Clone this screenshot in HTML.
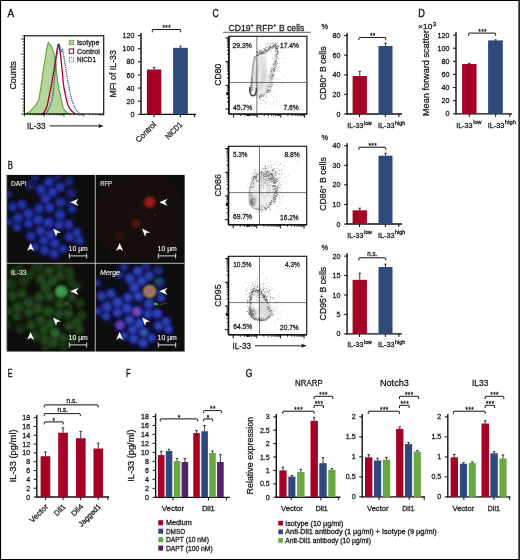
<!DOCTYPE html>
<html><head><meta charset="utf-8"><title>Figure</title>
<style>html,body{margin:0;padding:0;background:#fff;}svg{display:block;font-family:"Liberation Sans",sans-serif;}</style>
</head><body>
<svg width="520" height="560" viewBox="0 0 520 560">
<defs>
<filter id="b1" x="-50%" y="-50%" width="200%" height="200%"><feGaussianBlur stdDeviation="1.0"/></filter>
<filter id="b15" x="-50%" y="-50%" width="200%" height="200%"><feGaussianBlur stdDeviation="1.6"/></filter>
<filter id="b05" x="-50%" y="-50%" width="200%" height="200%"><feGaussianBlur stdDeviation="0.5"/></filter>
<filter id="b03" x="-20%" y="-20%" width="140%" height="140%"><feGaussianBlur stdDeviation="0.3"/></filter>
<filter id="bc" x="-10%" y="-10%" width="120%" height="120%"><feGaussianBlur stdDeviation="0.8" result="g"/><feTurbulence type="fractalNoise" baseFrequency="0.42" numOctaves="2" seed="5" result="n"/><feColorMatrix in="n" type="matrix" values="0 0 0 0 1  0 0 0 0 1  0 0 0 0 1  0.45 0 0 0 0.76" result="m"/><feComposite in="g" in2="m" operator="in"/></filter>
<filter id="bg" x="-10%" y="-10%" width="120%" height="120%"><feGaussianBlur stdDeviation="1.6" result="g"/><feTurbulence type="fractalNoise" baseFrequency="0.5" numOctaves="2" seed="9" result="n"/><feColorMatrix in="n" type="matrix" values="0 0 0 0 1  0 0 0 0 1  0 0 0 0 1  0.5 0 0 0 0.72" result="m"/><feComposite in="g" in2="m" operator="in"/></filter>
<filter id="b3" x="-50%" y="-50%" width="200%" height="200%"><feGaussianBlur stdDeviation="3"/></filter>
<radialGradient id="gB"><stop offset="0" stop-color="#2c40be"/><stop offset="0.6" stop-color="#2434ac"/><stop offset="1" stop-color="#1c2890"/></radialGradient>
<radialGradient id="gBm"><stop offset="0" stop-color="#3852c4"/><stop offset="0.65" stop-color="#2c42b4"/><stop offset="1" stop-color="#223098"/></radialGradient>
<radialGradient id="gR" cx="0.5" cy="0.48" r="0.6"><stop offset="0" stop-color="#1e0f0e"/><stop offset="1" stop-color="#100b0b"/></radialGradient>
<clipPath id="cDAPI"><rect x="7.3" y="175.4" width="87.4" height="87.4"/></clipPath>
<clipPath id="cRFP"><rect x="96" y="175.4" width="88.2" height="87.4"/></clipPath>
<clipPath id="cIL"><rect x="7.3" y="264" width="87.4" height="87.2"/></clipPath>
<clipPath id="cMG"><rect x="96" y="264" width="88.2" height="87.2"/></clipPath>
<clipPath id="cF1"><rect x="229" y="36.3" width="77.9" height="77.7"/></clipPath>
<clipPath id="cF2"><rect x="228.6" y="146.3" width="78.1" height="78.4"/></clipPath>
<clipPath id="cF3"><rect x="228.6" y="256.3" width="78.1" height="78.4"/></clipPath>
<clipPath id="cH"><rect x="24.4" y="36" width="79" height="78"/></clipPath>
</defs>
<defs><filter id="soft" x="0" y="0" width="520" height="560" filterUnits="userSpaceOnUse"><feGaussianBlur stdDeviation="0.32"/></filter></defs>
<rect x="0" y="0" width="520" height="560" fill="#fff"/>
<g filter="url(#soft)">
<text x="7.60" y="17.40" font-size="10.8" textLength="6.60" lengthAdjust="spacingAndGlyphs" fill="#1c1c1c" stroke="#1c1c1c" stroke-width="0.42">A</text>
<text x="7.80" y="169.40" font-size="10.8" textLength="5.20" lengthAdjust="spacingAndGlyphs" fill="#1c1c1c" stroke="#1c1c1c" stroke-width="0.42">B</text>
<text x="212.40" y="17.40" font-size="10.8" textLength="6.20" lengthAdjust="spacingAndGlyphs" fill="#1c1c1c" stroke="#1c1c1c" stroke-width="0.42">C</text>
<text x="418.20" y="17.30" font-size="10.8" textLength="6.60" lengthAdjust="spacingAndGlyphs" fill="#1c1c1c" stroke="#1c1c1c" stroke-width="0.42">D</text>
<text x="7.80" y="376.90" font-size="10.8" textLength="4.70" lengthAdjust="spacingAndGlyphs" fill="#1c1c1c" stroke="#1c1c1c" stroke-width="0.42">E</text>
<text x="126.10" y="376.90" font-size="10.8" textLength="4.60" lengthAdjust="spacingAndGlyphs" fill="#1c1c1c" stroke="#1c1c1c" stroke-width="0.42">F</text>
<text x="245.70" y="376.80" font-size="10.8" textLength="6.60" lengthAdjust="spacingAndGlyphs" fill="#1c1c1c" stroke="#1c1c1c" stroke-width="0.42">G</text>
<path d="M24.4 114.0 L27.0 113.3 L30.0 111.5 L32.5 108.8 L35.5 105.5 L38.7 100.0 L40.5 90.0 L41.9 80.0 L43.3 70.0 L45.0 60.0 L46.5 50.0 L47.8 44.0 L48.6 42.4 L49.5 44.2 L50.3 45.6 L51.0 45.2 L52.0 48.0 L53.0 51.0 L53.8 53.0 L54.6 58.0 L55.4 62.5 L56.3 70.0 L57.5 80.0 L58.6 87.0 L60.0 93.5 L61.5 101.0 L63.0 107.5 L65.0 110.8 L67.5 112.8 L70.5 114.0Z" fill="#b5d69a" stroke="#68a640" stroke-width="1.2" stroke-linejoin="round"/>
<path d="M41.9 114.0 L44.0 112.6 L46.6 107.5 L48.2 101.0 L49.4 95.0 L51.2 86.3 L52.8 77.0 L54.4 67.5 L55.8 58.0 L57.0 50.0 L58.1 44.4 L59.2 46.0 L60.6 55.0 L61.6 65.0 L62.5 73.8 L63.2 82.5 L64.2 89.0 L65.3 94.0 L66.5 100.0 L68.0 105.0 L70.0 109.0 L72.0 111.3 L75.2 114.0" fill="none" stroke="#a50026" stroke-width="1.3" stroke-linejoin="round"/>
<path d="M44.4 114.0 L46.9 112.5 L50.0 106.3 L52.0 99.5 L53.1 95.0 L53.8 86.3 L54.6 77.0 L55.6 67.5 L56.6 58.0 L57.7 50.0 L59.0 43.5 L60.2 47.0 L61.2 51.3 L62.5 49.4 L63.6 55.0 L64.6 61.0 L65.6 67.5 L66.8 76.0 L68.1 82.5 L69.3 89.0 L70.6 95.0 L72.0 100.5 L73.8 105.0 L75.3 108.5 L76.9 111.2 L80.0 114.0" fill="none" stroke="#27418a" stroke-width="1.3" stroke-dasharray="1.0 0.85" stroke-linejoin="round"/>
<rect x="24.4" y="35.8" width="79.30" height="78.20" fill="none" stroke="#0a0a0a" stroke-width="1.15"/>
<line x1="21.20" y1="114.00" x2="24.40" y2="114.00" stroke="#0a0a0a" stroke-width="0.8" />
<line x1="22.70" y1="111.00" x2="24.40" y2="111.00" stroke="#0a0a0a" stroke-width="0.8" />
<line x1="22.70" y1="108.00" x2="24.40" y2="108.00" stroke="#0a0a0a" stroke-width="0.8" />
<line x1="22.70" y1="105.00" x2="24.40" y2="105.00" stroke="#0a0a0a" stroke-width="0.8" />
<line x1="22.70" y1="102.00" x2="24.40" y2="102.00" stroke="#0a0a0a" stroke-width="0.8" />
<line x1="21.20" y1="99.00" x2="24.40" y2="99.00" stroke="#0a0a0a" stroke-width="0.8" />
<line x1="22.70" y1="96.00" x2="24.40" y2="96.00" stroke="#0a0a0a" stroke-width="0.8" />
<line x1="22.70" y1="93.00" x2="24.40" y2="93.00" stroke="#0a0a0a" stroke-width="0.8" />
<line x1="22.70" y1="90.00" x2="24.40" y2="90.00" stroke="#0a0a0a" stroke-width="0.8" />
<line x1="22.70" y1="87.00" x2="24.40" y2="87.00" stroke="#0a0a0a" stroke-width="0.8" />
<line x1="21.20" y1="84.00" x2="24.40" y2="84.00" stroke="#0a0a0a" stroke-width="0.8" />
<line x1="22.70" y1="81.00" x2="24.40" y2="81.00" stroke="#0a0a0a" stroke-width="0.8" />
<line x1="22.70" y1="78.00" x2="24.40" y2="78.00" stroke="#0a0a0a" stroke-width="0.8" />
<line x1="22.70" y1="75.00" x2="24.40" y2="75.00" stroke="#0a0a0a" stroke-width="0.8" />
<line x1="22.70" y1="72.00" x2="24.40" y2="72.00" stroke="#0a0a0a" stroke-width="0.8" />
<line x1="21.20" y1="69.00" x2="24.40" y2="69.00" stroke="#0a0a0a" stroke-width="0.8" />
<line x1="22.70" y1="66.00" x2="24.40" y2="66.00" stroke="#0a0a0a" stroke-width="0.8" />
<line x1="22.70" y1="63.00" x2="24.40" y2="63.00" stroke="#0a0a0a" stroke-width="0.8" />
<line x1="22.70" y1="60.00" x2="24.40" y2="60.00" stroke="#0a0a0a" stroke-width="0.8" />
<line x1="22.70" y1="57.00" x2="24.40" y2="57.00" stroke="#0a0a0a" stroke-width="0.8" />
<line x1="21.20" y1="54.00" x2="24.40" y2="54.00" stroke="#0a0a0a" stroke-width="0.8" />
<line x1="22.70" y1="51.00" x2="24.40" y2="51.00" stroke="#0a0a0a" stroke-width="0.8" />
<line x1="22.70" y1="48.00" x2="24.40" y2="48.00" stroke="#0a0a0a" stroke-width="0.8" />
<line x1="22.70" y1="45.00" x2="24.40" y2="45.00" stroke="#0a0a0a" stroke-width="0.8" />
<line x1="22.70" y1="42.00" x2="24.40" y2="42.00" stroke="#0a0a0a" stroke-width="0.8" />
<line x1="21.20" y1="39.00" x2="24.40" y2="39.00" stroke="#0a0a0a" stroke-width="0.8" />
<line x1="22.70" y1="36.00" x2="24.40" y2="36.00" stroke="#0a0a0a" stroke-width="0.8" />
<line x1="24.40" y1="114.00" x2="24.40" y2="116.60" stroke="#0a0a0a" stroke-width="0.7" />
<line x1="30.36" y1="114.00" x2="30.36" y2="115.30" stroke="#0a0a0a" stroke-width="0.7" />
<line x1="33.85" y1="114.00" x2="33.85" y2="115.30" stroke="#0a0a0a" stroke-width="0.7" />
<line x1="36.32" y1="114.00" x2="36.32" y2="115.30" stroke="#0a0a0a" stroke-width="0.7" />
<line x1="38.24" y1="114.00" x2="38.24" y2="115.30" stroke="#0a0a0a" stroke-width="0.7" />
<line x1="39.81" y1="114.00" x2="39.81" y2="115.30" stroke="#0a0a0a" stroke-width="0.7" />
<line x1="41.13" y1="114.00" x2="41.13" y2="115.30" stroke="#0a0a0a" stroke-width="0.7" />
<line x1="42.28" y1="114.00" x2="42.28" y2="115.30" stroke="#0a0a0a" stroke-width="0.7" />
<line x1="43.29" y1="114.00" x2="43.29" y2="115.30" stroke="#0a0a0a" stroke-width="0.7" />
<line x1="44.20" y1="114.00" x2="44.20" y2="116.60" stroke="#0a0a0a" stroke-width="0.7" />
<line x1="50.16" y1="114.00" x2="50.16" y2="115.30" stroke="#0a0a0a" stroke-width="0.7" />
<line x1="53.65" y1="114.00" x2="53.65" y2="115.30" stroke="#0a0a0a" stroke-width="0.7" />
<line x1="56.12" y1="114.00" x2="56.12" y2="115.30" stroke="#0a0a0a" stroke-width="0.7" />
<line x1="58.04" y1="114.00" x2="58.04" y2="115.30" stroke="#0a0a0a" stroke-width="0.7" />
<line x1="59.61" y1="114.00" x2="59.61" y2="115.30" stroke="#0a0a0a" stroke-width="0.7" />
<line x1="60.93" y1="114.00" x2="60.93" y2="115.30" stroke="#0a0a0a" stroke-width="0.7" />
<line x1="62.08" y1="114.00" x2="62.08" y2="115.30" stroke="#0a0a0a" stroke-width="0.7" />
<line x1="63.09" y1="114.00" x2="63.09" y2="115.30" stroke="#0a0a0a" stroke-width="0.7" />
<line x1="64.00" y1="114.00" x2="64.00" y2="116.60" stroke="#0a0a0a" stroke-width="0.7" />
<line x1="69.96" y1="114.00" x2="69.96" y2="115.30" stroke="#0a0a0a" stroke-width="0.7" />
<line x1="73.45" y1="114.00" x2="73.45" y2="115.30" stroke="#0a0a0a" stroke-width="0.7" />
<line x1="75.92" y1="114.00" x2="75.92" y2="115.30" stroke="#0a0a0a" stroke-width="0.7" />
<line x1="77.84" y1="114.00" x2="77.84" y2="115.30" stroke="#0a0a0a" stroke-width="0.7" />
<line x1="79.41" y1="114.00" x2="79.41" y2="115.30" stroke="#0a0a0a" stroke-width="0.7" />
<line x1="80.73" y1="114.00" x2="80.73" y2="115.30" stroke="#0a0a0a" stroke-width="0.7" />
<line x1="81.88" y1="114.00" x2="81.88" y2="115.30" stroke="#0a0a0a" stroke-width="0.7" />
<line x1="82.89" y1="114.00" x2="82.89" y2="115.30" stroke="#0a0a0a" stroke-width="0.7" />
<line x1="83.80" y1="114.00" x2="83.80" y2="116.60" stroke="#0a0a0a" stroke-width="0.7" />
<line x1="89.76" y1="114.00" x2="89.76" y2="115.30" stroke="#0a0a0a" stroke-width="0.7" />
<line x1="93.25" y1="114.00" x2="93.25" y2="115.30" stroke="#0a0a0a" stroke-width="0.7" />
<line x1="95.72" y1="114.00" x2="95.72" y2="115.30" stroke="#0a0a0a" stroke-width="0.7" />
<line x1="97.64" y1="114.00" x2="97.64" y2="115.30" stroke="#0a0a0a" stroke-width="0.7" />
<line x1="99.21" y1="114.00" x2="99.21" y2="115.30" stroke="#0a0a0a" stroke-width="0.7" />
<line x1="100.53" y1="114.00" x2="100.53" y2="115.30" stroke="#0a0a0a" stroke-width="0.7" />
<line x1="101.68" y1="114.00" x2="101.68" y2="115.30" stroke="#0a0a0a" stroke-width="0.7" />
<line x1="102.69" y1="114.00" x2="102.69" y2="115.30" stroke="#0a0a0a" stroke-width="0.7" />
<line x1="103.70" y1="114.00" x2="103.70" y2="116.00" stroke="#0a0a0a" stroke-width="0.45" />
<text x="15.90" y="89.60" font-size="9" textLength="28.40" lengthAdjust="spacingAndGlyphs" transform="rotate(-90 15.90 89.60)" fill="#1c1c1c" stroke="#1c1c1c" stroke-width="0.28">Counts</text>
<text x="26.90" y="129.00" font-size="9" textLength="18.80" lengthAdjust="spacingAndGlyphs" fill="#1c1c1c" stroke="#1c1c1c" stroke-width="0.28">IL-33</text>
<line x1="49.60" y1="125.90" x2="100.00" y2="125.90" stroke="#0a0a0a" stroke-width="0.9" />
<path d="M103.5 125.9L98.3 123.9L99.4 125.9L98.3 127.9Z" fill="#0a0a0a" stroke="none" stroke-width="0.8" />
<rect x="69.2" y="40.3" width="4.4" height="4.4" fill="#b7d89c" stroke="#6aa842" stroke-width="0.9"/>
<rect x="69.2" y="48.9" width="4.4" height="4.4" fill="#fff" stroke="#a50026" stroke-width="1.0"/>
<rect x="69.2" y="57.6" width="4.4" height="4.4" fill="#fff" stroke="#2d4a8c" stroke-width="0.9" stroke-dasharray="0.9 0.9"/>
<text x="76.90" y="44.90" font-size="7.2" textLength="22.50" lengthAdjust="spacingAndGlyphs" fill="#1c1c1c" stroke="#1c1c1c" stroke-width="0.28">Isotype</text>
<text x="76.90" y="53.60" font-size="7.2" textLength="22.90" lengthAdjust="spacingAndGlyphs" fill="#1c1c1c" stroke="#1c1c1c" stroke-width="0.28">Control</text>
<text x="76.90" y="62.30" font-size="7.2" textLength="19.10" lengthAdjust="spacingAndGlyphs" fill="#1c1c1c" stroke="#1c1c1c" stroke-width="0.28">NICD1</text>
<text x="116.00" y="97.60" font-size="9.2" textLength="47.50" lengthAdjust="spacingAndGlyphs" transform="rotate(-90 116.00 97.60)" fill="#1c1c1c" stroke="#1c1c1c" stroke-width="0.28">MFI of IL-33</text>
<line x1="141.00" y1="33.00" x2="141.00" y2="114.80" stroke="#0a0a0a" stroke-width="1.35" />
<line x1="138.00" y1="114.30" x2="141.00" y2="114.30" stroke="#0a0a0a" stroke-width="1.0" />
<text x="134.40" y="116.89" font-size="7.2" text-anchor="end" textLength="3.95" lengthAdjust="spacingAndGlyphs" fill="#1c1c1c" stroke="#1c1c1c" stroke-width="0.28">0</text>
<line x1="138.00" y1="101.18" x2="141.00" y2="101.18" stroke="#0a0a0a" stroke-width="1.0" />
<text x="134.40" y="103.77" font-size="7.2" text-anchor="end" textLength="7.90" lengthAdjust="spacingAndGlyphs" fill="#1c1c1c" stroke="#1c1c1c" stroke-width="0.28">20</text>
<line x1="138.00" y1="88.06" x2="141.00" y2="88.06" stroke="#0a0a0a" stroke-width="1.0" />
<text x="134.40" y="90.65" font-size="7.2" text-anchor="end" textLength="7.90" lengthAdjust="spacingAndGlyphs" fill="#1c1c1c" stroke="#1c1c1c" stroke-width="0.28">40</text>
<line x1="138.00" y1="74.94" x2="141.00" y2="74.94" stroke="#0a0a0a" stroke-width="1.0" />
<text x="134.40" y="77.53" font-size="7.2" text-anchor="end" textLength="7.90" lengthAdjust="spacingAndGlyphs" fill="#1c1c1c" stroke="#1c1c1c" stroke-width="0.28">60</text>
<line x1="138.00" y1="61.82" x2="141.00" y2="61.82" stroke="#0a0a0a" stroke-width="1.0" />
<text x="134.40" y="64.41" font-size="7.2" text-anchor="end" textLength="7.90" lengthAdjust="spacingAndGlyphs" fill="#1c1c1c" stroke="#1c1c1c" stroke-width="0.28">80</text>
<line x1="138.00" y1="48.70" x2="141.00" y2="48.70" stroke="#0a0a0a" stroke-width="1.0" />
<text x="134.40" y="51.29" font-size="7.2" text-anchor="end" textLength="11.85" lengthAdjust="spacingAndGlyphs" fill="#1c1c1c" stroke="#1c1c1c" stroke-width="0.28">100</text>
<line x1="138.00" y1="35.58" x2="141.00" y2="35.58" stroke="#0a0a0a" stroke-width="1.0" />
<text x="134.40" y="38.17" font-size="7.2" text-anchor="end" textLength="11.85" lengthAdjust="spacingAndGlyphs" fill="#1c1c1c" stroke="#1c1c1c" stroke-width="0.28">120</text>
<line x1="140.50" y1="114.30" x2="196.00" y2="114.30" stroke="#0a0a0a" stroke-width="1.35" />
<line x1="154.00" y1="114.30" x2="154.00" y2="117.30" stroke="#0a0a0a" stroke-width="1.0" />
<line x1="180.40" y1="114.30" x2="180.40" y2="117.30" stroke="#0a0a0a" stroke-width="1.0" />
<line x1="194.60" y1="114.30" x2="194.60" y2="117.30" stroke="#0a0a0a" stroke-width="1.0" />
<rect x="146.90" y="69.50" width="14.40" height="44.80" fill="#a50026" />
<line x1="154.10" y1="69.50" x2="154.10" y2="67.40" stroke="#0a0a0a" stroke-width="0.8" />
<line x1="152.80" y1="67.40" x2="155.40" y2="67.40" stroke="#0a0a0a" stroke-width="0.8" />
<rect x="173.10" y="47.80" width="14.70" height="66.50" fill="#2d4a7c" />
<line x1="180.45" y1="47.80" x2="180.45" y2="46.20" stroke="#0a0a0a" stroke-width="0.8" />
<line x1="179.15" y1="46.20" x2="181.75" y2="46.20" stroke="#0a0a0a" stroke-width="0.8" />
<path d="M152.30 32.30V30.10Q152.30 29.50 152.90 29.50H180.00Q180.60 29.50 180.60 30.10V32.30" fill="none" stroke="#0a0a0a" stroke-width="0.95" />
<text x="162.45" y="30.33" font-size="6.4" textLength="8.3" lengthAdjust="spacing" fill="#1c1c1c" stroke="#1c1c1c" stroke-width="0.3">***</text>
<text x="156.70" y="125.00" font-size="8" text-anchor="end" textLength="25.30" lengthAdjust="spacingAndGlyphs" transform="rotate(-45 156.70 125.00)" fill="#1c1c1c" stroke="#1c1c1c" stroke-width="0.28">Control</text>
<text x="183.00" y="125.30" font-size="8" text-anchor="end" textLength="20.50" lengthAdjust="spacingAndGlyphs" transform="rotate(-45 183.00 125.30)" fill="#1c1c1c" stroke="#1c1c1c" stroke-width="0.28">NICD1</text>
<rect x="6.60" y="174.90" width="178.00" height="176.60" fill="#0d0c0b" />
<g clip-path="url(#cDAPI)">
<g filter="url(#b3)" opacity="0.6">
<circle cx="35.0" cy="177.5" r="5.4" fill="#141a78" opacity="0.55"/>
<circle cx="49.0" cy="182.0" r="6.3" fill="#141a78" opacity="0.90"/>
<circle cx="30.5" cy="185.5" r="6.2" fill="#141a78" opacity="0.50"/>
<circle cx="41.0" cy="189.5" r="6.7" fill="#141a78" opacity="0.85"/>
<circle cx="52.5" cy="192.0" r="6.3" fill="#141a78" opacity="0.95"/>
<circle cx="8.5" cy="194.0" r="5.0" fill="#141a78" opacity="0.60"/>
<circle cx="45.5" cy="198.3" r="6.7" fill="#141a78" opacity="0.90"/>
<circle cx="22.0" cy="204.5" r="6.3" fill="#141a78" opacity="0.85"/>
<circle cx="12.5" cy="207.0" r="6.2" fill="#141a78" opacity="0.80"/>
<circle cx="39.0" cy="208.5" r="6.3" fill="#141a78" opacity="0.90"/>
<circle cx="49.5" cy="207.5" r="6.3" fill="#141a78" opacity="0.95"/>
<circle cx="28.5" cy="213.5" r="6.7" fill="#141a78" opacity="0.90"/>
<circle cx="18.0" cy="218.0" r="6.7" fill="#141a78" opacity="0.85"/>
<circle cx="38.0" cy="219.5" r="6.7" fill="#141a78" opacity="0.95"/>
<circle cx="28.5" cy="223.5" r="6.2" fill="#141a78" opacity="0.90"/>
<circle cx="48.5" cy="222.5" r="6.7" fill="#141a78" opacity="0.95"/>
<circle cx="9.0" cy="222.0" r="5.3" fill="#141a78" opacity="0.70"/>
<circle cx="17.0" cy="227.5" r="5.8" fill="#141a78" opacity="0.80"/>
<circle cx="57.0" cy="177.0" r="5.3" fill="#141a78" opacity="0.55"/>
<circle cx="60.0" cy="187.0" r="6.3" fill="#141a78" opacity="0.85"/>
<circle cx="69.0" cy="181.5" r="6.3" fill="#141a78" opacity="0.50"/>
<circle cx="71.0" cy="193.5" r="6.3" fill="#141a78" opacity="0.55"/>
<circle cx="60.5" cy="202.5" r="6.7" fill="#141a78" opacity="0.80"/>
<circle cx="72.0" cy="209.0" r="5.8" fill="#141a78" opacity="0.75"/>
<circle cx="60.0" cy="214.7" r="6.7" fill="#141a78" opacity="0.90"/>
<circle cx="59.0" cy="225.0" r="6.3" fill="#141a78" opacity="0.90"/>
<circle cx="68.5" cy="224.7" r="6.3" fill="#141a78" opacity="0.90"/>
<circle cx="40.5" cy="231.0" r="6.3" fill="#141a78" opacity="0.95"/>
<circle cx="31.0" cy="236.5" r="6.3" fill="#141a78" opacity="0.85"/>
<circle cx="50.5" cy="234.5" r="6.3" fill="#141a78" opacity="0.95"/>
<circle cx="44.0" cy="240.5" r="6.3" fill="#141a78" opacity="0.90"/>
<circle cx="54.7" cy="243.3" r="6.4" fill="#141a78" opacity="0.95"/>
<circle cx="35.0" cy="247.0" r="5.8" fill="#141a78" opacity="0.80"/>
<circle cx="44.6" cy="250.0" r="6.3" fill="#141a78" opacity="0.90"/>
<circle cx="54.0" cy="253.7" r="6.4" fill="#141a78" opacity="0.90"/>
<circle cx="77.0" cy="232.5" r="6.0" fill="#141a78" opacity="0.85"/>
<circle cx="69.5" cy="237.0" r="6.3" fill="#141a78" opacity="0.90"/>
<circle cx="79.5" cy="240.5" r="6.0" fill="#141a78" opacity="0.85"/>
<circle cx="63.0" cy="249.0" r="5.8" fill="#141a78" opacity="0.85"/>
<circle cx="70.0" cy="203.0" r="4.6" fill="#141a78" opacity="0.50"/>
</g>
<g filter="url(#bc)">
<circle cx="35.0" cy="177.5" r="3.9" fill="url(#gB)" opacity="0.55"/>
<circle cx="49.0" cy="182.0" r="4.8" fill="url(#gB)" opacity="0.90"/>
<circle cx="30.5" cy="185.5" r="4.7" fill="url(#gB)" opacity="0.50"/>
<circle cx="41.0" cy="189.5" r="5.2" fill="url(#gB)" opacity="0.85"/>
<circle cx="52.5" cy="192.0" r="4.8" fill="url(#gB)" opacity="0.95"/>
<circle cx="8.5" cy="194.0" r="3.5" fill="url(#gB)" opacity="0.60"/>
<circle cx="45.5" cy="198.3" r="5.2" fill="url(#gB)" opacity="0.90"/>
<circle cx="22.0" cy="204.5" r="4.8" fill="url(#gB)" opacity="0.85"/>
<circle cx="12.5" cy="207.0" r="4.7" fill="url(#gB)" opacity="0.80"/>
<circle cx="39.0" cy="208.5" r="4.8" fill="url(#gB)" opacity="0.90"/>
<circle cx="49.5" cy="207.5" r="4.8" fill="url(#gB)" opacity="0.95"/>
<circle cx="28.5" cy="213.5" r="5.2" fill="url(#gB)" opacity="0.90"/>
<circle cx="18.0" cy="218.0" r="5.2" fill="url(#gB)" opacity="0.85"/>
<circle cx="38.0" cy="219.5" r="5.2" fill="url(#gB)" opacity="0.95"/>
<circle cx="28.5" cy="223.5" r="4.7" fill="url(#gB)" opacity="0.90"/>
<circle cx="48.5" cy="222.5" r="5.2" fill="url(#gB)" opacity="0.95"/>
<circle cx="9.0" cy="222.0" r="3.8" fill="url(#gB)" opacity="0.70"/>
<circle cx="17.0" cy="227.5" r="4.3" fill="url(#gB)" opacity="0.80"/>
<circle cx="57.0" cy="177.0" r="3.8" fill="url(#gB)" opacity="0.55"/>
<circle cx="60.0" cy="187.0" r="4.8" fill="url(#gB)" opacity="0.85"/>
<circle cx="69.0" cy="181.5" r="4.8" fill="url(#gB)" opacity="0.50"/>
<circle cx="71.0" cy="193.5" r="4.8" fill="url(#gB)" opacity="0.55"/>
<circle cx="60.5" cy="202.5" r="5.2" fill="url(#gB)" opacity="0.80"/>
<circle cx="72.0" cy="209.0" r="4.3" fill="url(#gB)" opacity="0.75"/>
<circle cx="60.0" cy="214.7" r="5.2" fill="url(#gB)" opacity="0.90"/>
<circle cx="59.0" cy="225.0" r="4.8" fill="url(#gB)" opacity="0.90"/>
<circle cx="68.5" cy="224.7" r="4.8" fill="url(#gB)" opacity="0.90"/>
<circle cx="40.5" cy="231.0" r="4.8" fill="url(#gB)" opacity="0.95"/>
<circle cx="31.0" cy="236.5" r="4.8" fill="url(#gB)" opacity="0.85"/>
<circle cx="50.5" cy="234.5" r="4.8" fill="url(#gB)" opacity="0.95"/>
<circle cx="44.0" cy="240.5" r="4.8" fill="url(#gB)" opacity="0.90"/>
<circle cx="54.7" cy="243.3" r="4.9" fill="url(#gB)" opacity="0.95"/>
<circle cx="35.0" cy="247.0" r="4.3" fill="url(#gB)" opacity="0.80"/>
<circle cx="44.6" cy="250.0" r="4.8" fill="url(#gB)" opacity="0.90"/>
<circle cx="54.0" cy="253.7" r="4.9" fill="url(#gB)" opacity="0.90"/>
<circle cx="77.0" cy="232.5" r="4.5" fill="url(#gB)" opacity="0.85"/>
<circle cx="69.5" cy="237.0" r="4.8" fill="url(#gB)" opacity="0.90"/>
<circle cx="79.5" cy="240.5" r="4.5" fill="url(#gB)" opacity="0.85"/>
<circle cx="63.0" cy="249.0" r="4.3" fill="url(#gB)" opacity="0.85"/>
<circle cx="70.0" cy="203.0" r="3.1" fill="url(#gB)" opacity="0.50"/>
</g>
</g>
<g clip-path="url(#cRFP)">
<rect x="96.00" y="175.40" width="88.20" height="87.40" fill="#120c0c" />
<rect x="96" y="175.4" width="88.2" height="87.4" fill="url(#gR)"/>
<g filter="url(#b1)">
<circle cx="149.7" cy="202.2" r="5.9" fill="#8e1718"/>
<circle cx="150.0" cy="202.4" r="3.0" fill="#a81c1e" opacity="0.7"/>
<circle cx="136.1" cy="223.4" r="4.3" fill="#5e1a13" opacity="0.75"/>
<circle cx="119.7" cy="235.8" r="4.8" fill="#451810" opacity="0.6"/>
</g>
<circle cx="155" cy="215.1" r="0.8" fill="#a01818" filter="url(#b05)"/>
</g>
<g clip-path="url(#cIL)">
<rect x="7.30" y="264.00" width="87.40" height="87.20" fill="#0c0d09" />
<g filter="url(#b3)" opacity="0.8">
<circle cx="35.0" cy="266.5" r="5.6" fill="#16300f" opacity="0.39"/>
<circle cx="49.0" cy="271.0" r="6.5" fill="#16300f" opacity="0.63"/>
<circle cx="30.5" cy="274.5" r="6.4" fill="#16300f" opacity="0.35"/>
<circle cx="41.0" cy="278.5" r="6.9" fill="#16300f" opacity="0.59"/>
<circle cx="52.5" cy="281.0" r="6.5" fill="#16300f" opacity="0.66"/>
<circle cx="8.5" cy="283.0" r="5.2" fill="#16300f" opacity="0.42"/>
<circle cx="45.5" cy="287.3" r="6.9" fill="#16300f" opacity="0.63"/>
<circle cx="22.0" cy="293.5" r="6.5" fill="#16300f" opacity="0.59"/>
<circle cx="12.5" cy="296.0" r="6.4" fill="#16300f" opacity="0.56"/>
<circle cx="39.0" cy="297.5" r="6.5" fill="#16300f" opacity="0.63"/>
<circle cx="49.5" cy="296.5" r="6.5" fill="#16300f" opacity="0.66"/>
<circle cx="28.5" cy="302.5" r="6.9" fill="#16300f" opacity="0.63"/>
<circle cx="18.0" cy="307.0" r="6.9" fill="#16300f" opacity="0.59"/>
<circle cx="38.0" cy="308.5" r="6.9" fill="#16300f" opacity="0.66"/>
<circle cx="28.5" cy="312.5" r="6.4" fill="#16300f" opacity="0.63"/>
<circle cx="48.5" cy="311.5" r="6.9" fill="#16300f" opacity="0.66"/>
<circle cx="9.0" cy="311.0" r="5.5" fill="#16300f" opacity="0.49"/>
<circle cx="17.0" cy="316.5" r="6.0" fill="#16300f" opacity="0.56"/>
<circle cx="57.0" cy="266.0" r="5.5" fill="#16300f" opacity="0.39"/>
<circle cx="60.0" cy="276.0" r="6.5" fill="#16300f" opacity="0.59"/>
<circle cx="69.0" cy="270.5" r="6.5" fill="#16300f" opacity="0.35"/>
<circle cx="71.0" cy="282.5" r="6.5" fill="#16300f" opacity="0.39"/>
<circle cx="60.5" cy="291.5" r="6.9" fill="#16300f" opacity="0.56"/>
<circle cx="72.0" cy="298.0" r="6.0" fill="#16300f" opacity="0.52"/>
<circle cx="60.0" cy="303.7" r="6.9" fill="#16300f" opacity="0.63"/>
<circle cx="59.0" cy="314.0" r="6.5" fill="#16300f" opacity="0.63"/>
<circle cx="68.5" cy="313.7" r="6.5" fill="#16300f" opacity="0.63"/>
<circle cx="40.5" cy="320.0" r="6.5" fill="#16300f" opacity="0.66"/>
<circle cx="31.0" cy="325.5" r="6.5" fill="#16300f" opacity="0.59"/>
<circle cx="50.5" cy="323.5" r="6.5" fill="#16300f" opacity="0.66"/>
<circle cx="44.0" cy="329.5" r="6.5" fill="#16300f" opacity="0.63"/>
<circle cx="54.7" cy="332.3" r="6.6" fill="#16300f" opacity="0.66"/>
<circle cx="35.0" cy="336.0" r="6.0" fill="#16300f" opacity="0.56"/>
<circle cx="44.6" cy="339.0" r="6.5" fill="#16300f" opacity="0.63"/>
<circle cx="54.0" cy="342.7" r="6.6" fill="#16300f" opacity="0.63"/>
<circle cx="77.0" cy="321.5" r="6.2" fill="#16300f" opacity="0.59"/>
<circle cx="69.5" cy="326.0" r="6.5" fill="#16300f" opacity="0.63"/>
<circle cx="79.5" cy="329.5" r="6.2" fill="#16300f" opacity="0.59"/>
<circle cx="63.0" cy="338.0" r="6.0" fill="#16300f" opacity="0.59"/>
<circle cx="70.0" cy="292.0" r="4.8" fill="#16300f" opacity="0.35"/>
<circle cx="14.0" cy="272.0" r="7.0" fill="#16300f" opacity="0.35"/>
<circle cx="24.0" cy="281.0" r="7.0" fill="#16300f" opacity="0.35"/>
<circle cx="12.0" cy="285.0" r="7.0" fill="#16300f" opacity="0.32"/>
<circle cx="20.0" cy="269.0" r="6.5" fill="#16300f" opacity="0.24"/>
<circle cx="40.0" cy="267.0" r="6.5" fill="#16300f" opacity="0.35"/>
<circle cx="60.0" cy="267.0" r="6.5" fill="#16300f" opacity="0.35"/>
<circle cx="70.0" cy="275.0" r="6.5" fill="#16300f" opacity="0.42"/>
<circle cx="76.0" cy="287.0" r="6.5" fill="#16300f" opacity="0.42"/>
<circle cx="80.0" cy="303.0" r="6.5" fill="#16300f" opacity="0.35"/>
<circle cx="82.0" cy="315.0" r="6.5" fill="#16300f" opacity="0.35"/>
<circle cx="8.0" cy="325.0" r="6.0" fill="#16300f" opacity="0.24"/>
<circle cx="20.0" cy="329.0" r="6.5" fill="#16300f" opacity="0.28"/>
<circle cx="72.0" cy="339.0" r="6.5" fill="#16300f" opacity="0.35"/>
<circle cx="64.0" cy="347.0" r="6.0" fill="#16300f" opacity="0.32"/>
<circle cx="46.0" cy="347.0" r="6.0" fill="#16300f" opacity="0.35"/>
</g>
<g filter="url(#bg)">
<circle cx="20.0" cy="269.0" r="4.7" fill="#172d13"/>
<circle cx="8.0" cy="325.0" r="4.2" fill="#172d13"/>
<circle cx="20.0" cy="329.0" r="4.7" fill="#182f14"/>
<circle cx="12.0" cy="285.0" r="5.2" fill="#193215"/>
<circle cx="64.0" cy="347.0" r="4.2" fill="#193215"/>
<circle cx="30.5" cy="274.5" r="4.6" fill="#1a3416"/>
<circle cx="69.0" cy="270.5" r="4.7" fill="#1a3416"/>
<circle cx="70.0" cy="292.0" r="3.0" fill="#1a3416"/>
<circle cx="14.0" cy="272.0" r="5.2" fill="#1a3416"/>
<circle cx="24.0" cy="281.0" r="5.2" fill="#1a3416"/>
<circle cx="40.0" cy="267.0" r="4.7" fill="#1a3416"/>
<circle cx="60.0" cy="267.0" r="4.7" fill="#1a3416"/>
<circle cx="80.0" cy="303.0" r="4.7" fill="#1a3416"/>
<circle cx="82.0" cy="315.0" r="4.7" fill="#1a3416"/>
<circle cx="72.0" cy="339.0" r="4.7" fill="#1a3416"/>
<circle cx="46.0" cy="347.0" r="4.2" fill="#1a3416"/>
<circle cx="35.0" cy="266.5" r="3.8" fill="#1b3617"/>
<circle cx="57.0" cy="266.0" r="3.7" fill="#1b3617"/>
<circle cx="71.0" cy="282.5" r="4.7" fill="#1b3617"/>
<circle cx="8.5" cy="283.0" r="3.4" fill="#1c3918"/>
<circle cx="70.0" cy="275.0" r="4.7" fill="#1c3918"/>
<circle cx="76.0" cy="287.0" r="4.7" fill="#1c3918"/>
<circle cx="9.0" cy="311.0" r="3.7" fill="#1e3e1a"/>
<circle cx="72.0" cy="298.0" r="4.2" fill="#20401b"/>
<circle cx="12.5" cy="296.0" r="4.6" fill="#21421c"/>
<circle cx="17.0" cy="316.5" r="4.2" fill="#21421c"/>
<circle cx="60.5" cy="291.5" r="5.1" fill="#21421c"/>
<circle cx="35.0" cy="336.0" r="4.2" fill="#21421c"/>
<circle cx="41.0" cy="278.5" r="5.1" fill="#22451d"/>
<circle cx="22.0" cy="293.5" r="4.7" fill="#22451d"/>
<circle cx="18.0" cy="307.0" r="5.1" fill="#22451d"/>
<circle cx="60.0" cy="276.0" r="4.7" fill="#22451d"/>
<circle cx="31.0" cy="325.5" r="4.7" fill="#22451d"/>
<circle cx="77.0" cy="321.5" r="4.4" fill="#22451d"/>
<circle cx="79.5" cy="329.5" r="4.4" fill="#22451d"/>
<circle cx="63.0" cy="338.0" r="4.2" fill="#22451d"/>
<circle cx="49.0" cy="271.0" r="4.7" fill="#23471e"/>
<circle cx="45.5" cy="287.3" r="5.1" fill="#23471e"/>
<circle cx="39.0" cy="297.5" r="4.7" fill="#23471e"/>
<circle cx="28.5" cy="302.5" r="5.1" fill="#23471e"/>
<circle cx="28.5" cy="312.5" r="4.6" fill="#23471e"/>
<circle cx="60.0" cy="303.7" r="5.1" fill="#23471e"/>
<circle cx="59.0" cy="314.0" r="4.7" fill="#23471e"/>
<circle cx="68.5" cy="313.7" r="4.7" fill="#23471e"/>
<circle cx="44.0" cy="329.5" r="4.7" fill="#23471e"/>
<circle cx="44.6" cy="339.0" r="4.7" fill="#23471e"/>
<circle cx="54.0" cy="342.7" r="4.8" fill="#23471e"/>
<circle cx="69.5" cy="326.0" r="4.7" fill="#23471e"/>
<circle cx="52.5" cy="281.0" r="4.7" fill="#244a1f"/>
<circle cx="49.5" cy="296.5" r="4.7" fill="#244a1f"/>
<circle cx="38.0" cy="308.5" r="5.1" fill="#244a1f"/>
<circle cx="48.5" cy="311.5" r="5.1" fill="#244a1f"/>
<circle cx="40.5" cy="320.0" r="4.7" fill="#244a1f"/>
<circle cx="50.5" cy="323.5" r="4.7" fill="#244a1f"/>
<circle cx="54.7" cy="332.3" r="4.8" fill="#244a1f"/>
</g>
<g filter="url(#b1)">
<circle cx="61.3" cy="291.6" r="6.3" fill="#368c42"/>
<circle cx="61.0" cy="291.2" r="3.5" fill="#48a856" opacity="0.6"/>
<circle cx="55.4" cy="333.4" r="4.6" fill="#2e7836" opacity="0.5"/>
<circle cx="66.9" cy="303.6" r="1.4" fill="#48c050"/>
<circle cx="70.5" cy="306.5" r="1.6" fill="#2e7a34" opacity="0.8"/>
</g>
</g>
<g clip-path="url(#cMG)">
<g filter="url(#b3)" opacity="0.8">
<circle cx="124.0" cy="266.5" r="5.4" fill="#141a78" opacity="0.55"/>
<circle cx="138.0" cy="271.0" r="6.3" fill="#141a78" opacity="0.90"/>
<circle cx="119.5" cy="274.5" r="6.2" fill="#141a78" opacity="0.50"/>
<circle cx="130.0" cy="278.5" r="6.7" fill="#141a78" opacity="0.85"/>
<circle cx="141.5" cy="281.0" r="6.3" fill="#141a78" opacity="0.95"/>
<circle cx="97.5" cy="283.0" r="5.0" fill="#141a78" opacity="0.60"/>
<circle cx="134.5" cy="287.3" r="6.7" fill="#141a78" opacity="0.90"/>
<circle cx="111.0" cy="293.5" r="6.3" fill="#141a78" opacity="0.85"/>
<circle cx="101.5" cy="296.0" r="6.2" fill="#141a78" opacity="0.80"/>
<circle cx="128.0" cy="297.5" r="6.3" fill="#141a78" opacity="0.90"/>
<circle cx="138.5" cy="296.5" r="6.3" fill="#141a78" opacity="0.95"/>
<circle cx="117.5" cy="302.5" r="6.7" fill="#141a78" opacity="0.90"/>
<circle cx="107.0" cy="307.0" r="6.7" fill="#141a78" opacity="0.85"/>
<circle cx="127.0" cy="308.5" r="6.7" fill="#141a78" opacity="0.95"/>
<circle cx="117.5" cy="312.5" r="6.2" fill="#141a78" opacity="0.90"/>
<circle cx="137.5" cy="311.5" r="6.7" fill="#141a78" opacity="0.95"/>
<circle cx="98.0" cy="311.0" r="5.3" fill="#141a78" opacity="0.70"/>
<circle cx="106.0" cy="316.5" r="5.8" fill="#141a78" opacity="0.80"/>
<circle cx="146.0" cy="266.0" r="5.3" fill="#141a78" opacity="0.55"/>
<circle cx="149.0" cy="276.0" r="6.3" fill="#141a78" opacity="0.85"/>
<circle cx="158.0" cy="270.5" r="6.3" fill="#141a78" opacity="0.50"/>
<circle cx="160.0" cy="282.5" r="6.3" fill="#141a78" opacity="0.55"/>
<circle cx="149.5" cy="291.5" r="6.7" fill="#141a78" opacity="0.80"/>
<circle cx="161.0" cy="298.0" r="5.8" fill="#141a78" opacity="0.75"/>
<circle cx="149.0" cy="303.7" r="6.7" fill="#141a78" opacity="0.90"/>
<circle cx="148.0" cy="314.0" r="6.3" fill="#141a78" opacity="0.90"/>
<circle cx="157.5" cy="313.7" r="6.3" fill="#141a78" opacity="0.90"/>
<circle cx="129.5" cy="320.0" r="6.3" fill="#141a78" opacity="0.95"/>
<circle cx="120.0" cy="325.5" r="6.3" fill="#141a78" opacity="0.85"/>
<circle cx="139.5" cy="323.5" r="6.3" fill="#141a78" opacity="0.95"/>
<circle cx="133.0" cy="329.5" r="6.3" fill="#141a78" opacity="0.90"/>
<circle cx="143.7" cy="332.3" r="6.4" fill="#141a78" opacity="0.95"/>
<circle cx="124.0" cy="336.0" r="5.8" fill="#141a78" opacity="0.80"/>
<circle cx="133.6" cy="339.0" r="6.3" fill="#141a78" opacity="0.90"/>
<circle cx="143.0" cy="342.7" r="6.4" fill="#141a78" opacity="0.90"/>
<circle cx="166.0" cy="321.5" r="6.0" fill="#141a78" opacity="0.85"/>
<circle cx="158.5" cy="326.0" r="6.3" fill="#141a78" opacity="0.90"/>
<circle cx="168.5" cy="329.5" r="6.0" fill="#141a78" opacity="0.85"/>
<circle cx="152.0" cy="338.0" r="5.8" fill="#141a78" opacity="0.85"/>
<circle cx="159.0" cy="292.0" r="4.6" fill="#141a78" opacity="0.50"/>
</g>
<g filter="url(#bc)">
<circle cx="124.0" cy="266.5" r="3.9" fill="url(#gBm)" opacity="0.55"/>
<circle cx="138.0" cy="271.0" r="4.8" fill="url(#gBm)" opacity="0.90"/>
<circle cx="119.5" cy="274.5" r="4.7" fill="url(#gBm)" opacity="0.50"/>
<circle cx="130.0" cy="278.5" r="5.2" fill="url(#gBm)" opacity="0.85"/>
<circle cx="141.5" cy="281.0" r="4.8" fill="url(#gBm)" opacity="0.95"/>
<circle cx="97.5" cy="283.0" r="3.5" fill="url(#gBm)" opacity="0.60"/>
<circle cx="134.5" cy="287.3" r="5.2" fill="url(#gBm)" opacity="0.90"/>
<circle cx="111.0" cy="293.5" r="4.8" fill="url(#gBm)" opacity="0.85"/>
<circle cx="101.5" cy="296.0" r="4.7" fill="url(#gBm)" opacity="0.80"/>
<circle cx="128.0" cy="297.5" r="4.8" fill="url(#gBm)" opacity="0.90"/>
<circle cx="138.5" cy="296.5" r="4.8" fill="url(#gBm)" opacity="0.95"/>
<circle cx="117.5" cy="302.5" r="5.2" fill="url(#gBm)" opacity="0.90"/>
<circle cx="107.0" cy="307.0" r="5.2" fill="url(#gBm)" opacity="0.85"/>
<circle cx="127.0" cy="308.5" r="5.2" fill="url(#gBm)" opacity="0.95"/>
<circle cx="117.5" cy="312.5" r="4.7" fill="url(#gBm)" opacity="0.90"/>
<circle cx="137.5" cy="311.5" r="5.2" fill="url(#gBm)" opacity="0.95"/>
<circle cx="98.0" cy="311.0" r="3.8" fill="url(#gBm)" opacity="0.70"/>
<circle cx="106.0" cy="316.5" r="4.3" fill="url(#gBm)" opacity="0.80"/>
<circle cx="146.0" cy="266.0" r="3.8" fill="url(#gBm)" opacity="0.55"/>
<circle cx="149.0" cy="276.0" r="4.8" fill="url(#gBm)" opacity="0.85"/>
<circle cx="158.0" cy="270.5" r="4.8" fill="url(#gBm)" opacity="0.50"/>
<circle cx="160.0" cy="282.5" r="4.8" fill="url(#gBm)" opacity="0.55"/>
<circle cx="149.5" cy="291.5" r="5.2" fill="url(#gBm)" opacity="0.80"/>
<circle cx="161.0" cy="298.0" r="4.3" fill="url(#gBm)" opacity="0.75"/>
<circle cx="149.0" cy="303.7" r="5.2" fill="url(#gBm)" opacity="0.90"/>
<circle cx="148.0" cy="314.0" r="4.8" fill="url(#gBm)" opacity="0.90"/>
<circle cx="157.5" cy="313.7" r="4.8" fill="url(#gBm)" opacity="0.90"/>
<circle cx="129.5" cy="320.0" r="4.8" fill="url(#gBm)" opacity="0.95"/>
<circle cx="120.0" cy="325.5" r="4.8" fill="url(#gBm)" opacity="0.85"/>
<circle cx="139.5" cy="323.5" r="4.8" fill="url(#gBm)" opacity="0.95"/>
<circle cx="133.0" cy="329.5" r="4.8" fill="url(#gBm)" opacity="0.90"/>
<circle cx="143.7" cy="332.3" r="4.9" fill="url(#gBm)" opacity="0.95"/>
<circle cx="124.0" cy="336.0" r="4.3" fill="url(#gBm)" opacity="0.80"/>
<circle cx="133.6" cy="339.0" r="4.8" fill="url(#gBm)" opacity="0.90"/>
<circle cx="143.0" cy="342.7" r="4.9" fill="url(#gBm)" opacity="0.90"/>
<circle cx="166.0" cy="321.5" r="4.5" fill="url(#gBm)" opacity="0.85"/>
<circle cx="158.5" cy="326.0" r="4.8" fill="url(#gBm)" opacity="0.90"/>
<circle cx="168.5" cy="329.5" r="4.5" fill="url(#gBm)" opacity="0.85"/>
<circle cx="152.0" cy="338.0" r="4.3" fill="url(#gBm)" opacity="0.85"/>
<circle cx="159.0" cy="292.0" r="3.1" fill="url(#gBm)" opacity="0.50"/>
</g>
</g>
<g clip-path="url(#cMG)">
<g filter="url(#b1)">
<circle cx="149.6" cy="291.3" r="6.6" fill="#a48a2e"/>
<circle cx="149.6" cy="291.3" r="3.9" fill="#a2607c" opacity="0.9"/>
<circle cx="149.2" cy="291.0" r="2.2" fill="#b85c9c" opacity="0.6"/>
<circle cx="136.3" cy="311.6" r="4.0" fill="#9a3cb0" opacity="0.75"/>
<circle cx="119.9" cy="324.8" r="4.2" fill="#8a34b0" opacity="0.7"/>
<circle cx="158" cy="281" r="4" fill="#1c6a4a" opacity="0.45"/>
<circle cx="144.5" cy="333" r="3" fill="#1c7a6a" opacity="0.35"/>
</g>
<circle cx="155.5" cy="303.9" r="1.1" fill="#d8d020" filter="url(#b05)"/>
<circle cx="157.5" cy="304.5" r="1.3" fill="#2a9a30" filter="url(#b05)" opacity="0.8"/>
<path d="M160 304.5L167 303.3" stroke="#6a5a18" stroke-width="1" filter="url(#b05)" opacity="0.8"/>
</g>
<line x1="95.30" y1="174.90" x2="95.30" y2="351.50" stroke="#c8c8c8" stroke-width="0.9" />
<line x1="6.60" y1="263.30" x2="184.60" y2="263.30" stroke="#c8c8c8" stroke-width="0.9" />
<line x1="6.90" y1="174.90" x2="6.90" y2="351.50" stroke="#9a9a9a" stroke-width="0.6" />
<path d="M70.3 202.3L78.6 198.7L76.0 202.3L78.6 206.0Z" fill="#fff" stroke="none" stroke-width="0.8" />
<path d="M53.0 228.5L61.0 232.6L57.1 232.9L56.1 236.8Z" fill="#fff" stroke="none" stroke-width="0.8" />
<path d="M30.6 243.0L34.2 251.1L30.6 248.8L27.1 251.1Z" fill="#fff" stroke="none" stroke-width="0.8" />
<text x="68.60" y="251.20" font-size="7.2" textLength="19.20" lengthAdjust="spacingAndGlyphs" fill="#fff" stroke="#fff" stroke-width="0.1">10 µm</text>
<line x1="69.30" y1="255.90" x2="86.70" y2="255.90" stroke="#f0f0f0" stroke-width="0.9" />
<line x1="69.30" y1="253.50" x2="69.30" y2="258.50" stroke="#f0f0f0" stroke-width="0.9" />
<line x1="86.70" y1="253.50" x2="86.70" y2="258.50" stroke="#f0f0f0" stroke-width="0.9" />
<path d="M159.3 202.3L167.6 198.7L165.0 202.3L167.6 206.0Z" fill="#fff" stroke="none" stroke-width="0.8" />
<path d="M142.0 228.5L150.0 232.6L146.1 232.9L145.1 236.8Z" fill="#fff" stroke="none" stroke-width="0.8" />
<path d="M119.6 243.0L123.2 251.1L119.6 248.8L116.1 251.1Z" fill="#fff" stroke="none" stroke-width="0.8" />
<text x="157.60" y="251.20" font-size="7.2" textLength="19.20" lengthAdjust="spacingAndGlyphs" fill="#fff" stroke="#fff" stroke-width="0.1">10 µm</text>
<line x1="158.30" y1="255.90" x2="175.70" y2="255.90" stroke="#f0f0f0" stroke-width="0.9" />
<line x1="158.30" y1="253.50" x2="158.30" y2="258.50" stroke="#f0f0f0" stroke-width="0.9" />
<line x1="175.70" y1="253.50" x2="175.70" y2="258.50" stroke="#f0f0f0" stroke-width="0.9" />
<path d="M70.3 291.3L78.6 287.7L76.0 291.3L78.6 295.0Z" fill="#fff" stroke="none" stroke-width="0.8" />
<path d="M53.0 317.5L61.0 321.6L57.1 321.9L56.1 325.8Z" fill="#fff" stroke="none" stroke-width="0.8" />
<path d="M30.6 332.0L34.2 340.1L30.6 337.8L27.1 340.1Z" fill="#fff" stroke="none" stroke-width="0.8" />
<text x="68.60" y="340.20" font-size="7.2" textLength="19.20" lengthAdjust="spacingAndGlyphs" fill="#fff" stroke="#fff" stroke-width="0.1">10 µm</text>
<line x1="69.30" y1="344.90" x2="86.70" y2="344.90" stroke="#f0f0f0" stroke-width="0.9" />
<line x1="69.30" y1="342.50" x2="69.30" y2="347.50" stroke="#f0f0f0" stroke-width="0.9" />
<line x1="86.70" y1="342.50" x2="86.70" y2="347.50" stroke="#f0f0f0" stroke-width="0.9" />
<path d="M159.3 291.3L167.6 287.7L165.0 291.3L167.6 295.0Z" fill="#fff" stroke="none" stroke-width="0.8" />
<path d="M142.0 317.5L150.0 321.6L146.1 321.9L145.1 325.8Z" fill="#fff" stroke="none" stroke-width="0.8" />
<path d="M119.6 332.0L123.2 340.1L119.6 337.8L116.1 340.1Z" fill="#fff" stroke="none" stroke-width="0.8" />
<text x="157.60" y="340.20" font-size="7.2" textLength="19.20" lengthAdjust="spacingAndGlyphs" fill="#fff" stroke="#fff" stroke-width="0.1">10 µm</text>
<line x1="158.30" y1="344.90" x2="175.70" y2="344.90" stroke="#f0f0f0" stroke-width="0.9" />
<line x1="158.30" y1="342.50" x2="158.30" y2="347.50" stroke="#f0f0f0" stroke-width="0.9" />
<line x1="175.70" y1="342.50" x2="175.70" y2="347.50" stroke="#f0f0f0" stroke-width="0.9" />
<text x="11.00" y="186.30" font-size="7.3" textLength="15.40" lengthAdjust="spacingAndGlyphs" fill="#f4f4f4" stroke="#f4f4f4" stroke-width="0.1">DAPI</text>
<text x="100.20" y="186.30" font-size="7.3" textLength="11.80" lengthAdjust="spacingAndGlyphs" fill="#f4f4f4" stroke="#f4f4f4" stroke-width="0.1">RFP</text>
<text x="11.00" y="274.90" font-size="7.3" textLength="15.40" lengthAdjust="spacingAndGlyphs" fill="#f4f4f4" stroke="#f4f4f4" stroke-width="0.1">IL-33</text>
<text x="100.00" y="275.00" font-size="7.3" textLength="20.00" lengthAdjust="spacingAndGlyphs" fill="#f4f4f4" stroke="#f4f4f4" stroke-width="0.1" font-style="italic">Merge</text>
<text x="228.50" y="30.60" font-size="8.8" textLength="75.80" lengthAdjust="spacingAndGlyphs" fill="#1c1c1c" stroke="#1c1c1c" stroke-width="0.28">CD19<tspan font-size="5.6" dy="-3.2">+</tspan><tspan dy="3.2"> RFP</tspan><tspan font-size="5.6" dy="-3.2">+</tspan><tspan dy="3.2"> B cells</tspan></text>
<line x1="223.10" y1="32.30" x2="310.60" y2="32.30" stroke="#333" stroke-width="0.8" />
<g clip-path="url(#cF1)">
<path d="M251.9 90.0 L252.5 72.5 L253.8 60.0 L256.9 53.8 L265.0 51.2 L273.8 45.0 L277.5 46.3 L276.9 57.5 L273.8 70.0 L270.6 82.5 L268.1 91.3 L261.3 96.9 L255.0 96.3 L250.6 92.5Z" fill="#e9e9e9" stroke="none" stroke-width="0.8" filter="url(#b05)"/>
<path d="M262 55L272.5 48.5L274.8 50L272.5 62L268 76L266 66L267 57Z" fill="#fff" stroke="none" stroke-width="0.8" filter="url(#b05)"/>
<ellipse cx="260.5" cy="74.0" rx="5.6" ry="16.0" fill="none" stroke="#c9c9c9" stroke-width="0.45" transform="rotate(8 260.5 74)"/>
<ellipse cx="260.3" cy="75.0" rx="4.5" ry="13.4" fill="none" stroke="#c0c0c0" stroke-width="0.45" transform="rotate(8 260.5 74)"/>
<ellipse cx="260.1" cy="76.0" rx="3.4" ry="10.8" fill="none" stroke="#b8b8b8" stroke-width="0.45" transform="rotate(8 260.5 74)"/>
<ellipse cx="259.9" cy="77.0" rx="2.3" ry="8.2" fill="none" stroke="#c4c4c4" stroke-width="0.45" transform="rotate(8 260.5 74)"/>
<path d="M251.4 90L252.0 78L253.1 65L255.0 57" fill="none" stroke="#a0a0a0" stroke-width="2.2" filter="url(#b05)" stroke-linecap="round" opacity="0.8"/>
<path d="M251.0 92L251.3 85L251.8 78" fill="none" stroke="#777" stroke-width="1.3" filter="url(#b05)" stroke-linecap="round" opacity="0.75"/>
<path d="M249.9 87.5C249.2 92.2 250.6 95.9 253.1 95.9C255.6 95.9 256.7 92.2 256.3 88.5" fill="none" stroke="#2e2e2e" stroke-width="1.35" filter="url(#b03)" stroke-linecap="round"/>
<circle cx="264.8" cy="53.2" r="0.36" fill="#333" opacity="0.62"/>
<circle cx="266.0" cy="51.8" r="0.36" fill="#333" opacity="0.57"/>
<circle cx="259.5" cy="54.7" r="0.52" fill="#333" opacity="0.41"/>
<circle cx="259.3" cy="50.2" r="0.47" fill="#333" opacity="0.55"/>
<circle cx="279.0" cy="46.6" r="0.41" fill="#333" opacity="0.42"/>
<circle cx="258.5" cy="55.8" r="0.39" fill="#333" opacity="0.64"/>
<circle cx="268.6" cy="49.2" r="0.36" fill="#333" opacity="0.38"/>
<circle cx="260.6" cy="51.4" r="0.41" fill="#333" opacity="0.64"/>
<circle cx="265.5" cy="52.5" r="0.49" fill="#333" opacity="0.47"/>
<circle cx="265.8" cy="48.4" r="0.50" fill="#333" opacity="0.49"/>
<circle cx="277.6" cy="46.8" r="0.50" fill="#333" opacity="0.43"/>
<circle cx="268.8" cy="50.3" r="0.50" fill="#333" opacity="0.64"/>
<circle cx="273.4" cy="47.2" r="0.47" fill="#333" opacity="0.64"/>
<circle cx="268.0" cy="47.5" r="0.44" fill="#333" opacity="0.68"/>
<circle cx="257.6" cy="52.2" r="0.55" fill="#333" opacity="0.76"/>
<circle cx="261.3" cy="53.3" r="0.35" fill="#333" opacity="0.58"/>
<circle cx="260.7" cy="53.4" r="0.50" fill="#333" opacity="0.41"/>
<circle cx="259.9" cy="54.1" r="0.37" fill="#333" opacity="0.57"/>
<circle cx="269.9" cy="47.4" r="0.52" fill="#333" opacity="0.49"/>
<circle cx="263.7" cy="52.9" r="0.54" fill="#333" opacity="0.43"/>
<circle cx="260.7" cy="54.0" r="0.45" fill="#333" opacity="0.64"/>
<circle cx="263.8" cy="52.2" r="0.42" fill="#333" opacity="0.63"/>
<circle cx="275.4" cy="44.2" r="0.47" fill="#333" opacity="0.69"/>
<circle cx="259.9" cy="52.7" r="0.52" fill="#333" opacity="0.75"/>
<circle cx="264.5" cy="51.4" r="0.48" fill="#333" opacity="0.38"/>
<circle cx="258.5" cy="54.8" r="0.42" fill="#333" opacity="0.38"/>
<circle cx="257.3" cy="55.1" r="0.42" fill="#333" opacity="0.36"/>
<circle cx="273.7" cy="44.8" r="0.40" fill="#333" opacity="0.52"/>
<circle cx="266.3" cy="53.1" r="0.55" fill="#333" opacity="0.58"/>
<circle cx="267.3" cy="50.2" r="0.42" fill="#333" opacity="0.48"/>
<circle cx="273.5" cy="45.8" r="0.54" fill="#333" opacity="0.61"/>
<circle cx="259.6" cy="53.2" r="0.46" fill="#333" opacity="0.84"/>
<circle cx="273.6" cy="44.3" r="0.42" fill="#333" opacity="0.43"/>
<circle cx="270.0" cy="45.8" r="0.42" fill="#333" opacity="0.46"/>
<circle cx="275.6" cy="45.5" r="0.51" fill="#333" opacity="0.76"/>
<circle cx="271.9" cy="48.3" r="0.42" fill="#333" opacity="0.36"/>
<circle cx="257.3" cy="55.4" r="0.49" fill="#333" opacity="0.83"/>
<circle cx="269.8" cy="48.8" r="0.54" fill="#333" opacity="0.53"/>
<circle cx="261.6" cy="53.5" r="0.39" fill="#333" opacity="0.66"/>
<circle cx="275.6" cy="44.2" r="0.48" fill="#333" opacity="0.75"/>
<circle cx="257.1" cy="51.3" r="0.51" fill="#333" opacity="0.73"/>
<circle cx="267.7" cy="52.1" r="0.42" fill="#333" opacity="0.75"/>
<circle cx="275.3" cy="46.7" r="0.54" fill="#333" opacity="0.71"/>
<circle cx="261.0" cy="53.6" r="0.53" fill="#333" opacity="0.75"/>
<circle cx="261.7" cy="49.9" r="0.48" fill="#333" opacity="0.53"/>
<circle cx="268.2" cy="49.3" r="0.54" fill="#333" opacity="0.67"/>
<circle cx="268.9" cy="48.8" r="0.52" fill="#333" opacity="0.76"/>
<circle cx="261.3" cy="53.8" r="0.40" fill="#333" opacity="0.64"/>
<circle cx="261.7" cy="52.6" r="0.53" fill="#333" opacity="0.53"/>
<circle cx="263.8" cy="48.7" r="0.43" fill="#333" opacity="0.81"/>
<circle cx="265.5" cy="49.3" r="0.35" fill="#333" opacity="0.57"/>
<circle cx="263.1" cy="53.0" r="0.38" fill="#333" opacity="0.59"/>
<circle cx="270.3" cy="46.5" r="0.45" fill="#333" opacity="0.63"/>
<circle cx="273.8" cy="47.2" r="0.40" fill="#333" opacity="0.49"/>
<circle cx="270.5" cy="46.2" r="0.50" fill="#333" opacity="0.81"/>
<circle cx="264.8" cy="49.3" r="0.45" fill="#333" opacity="0.70"/>
<circle cx="264.7" cy="49.9" r="0.54" fill="#333" opacity="0.70"/>
<circle cx="275.3" cy="44.9" r="0.46" fill="#333" opacity="0.82"/>
<circle cx="274.0" cy="45.9" r="0.44" fill="#333" opacity="0.39"/>
<circle cx="263.7" cy="53.3" r="0.51" fill="#333" opacity="0.80"/>
<circle cx="259.7" cy="51.3" r="0.38" fill="#333" opacity="0.79"/>
<circle cx="276.9" cy="49.1" r="0.43" fill="#333" opacity="0.59"/>
<circle cx="277.2" cy="45.2" r="0.44" fill="#333" opacity="0.61"/>
<circle cx="264.3" cy="52.6" r="0.49" fill="#333" opacity="0.36"/>
<circle cx="267.9" cy="49.1" r="0.42" fill="#333" opacity="0.66"/>
<circle cx="270.9" cy="51.1" r="0.51" fill="#333" opacity="0.84"/>
<circle cx="259.0" cy="54.0" r="0.51" fill="#333" opacity="0.49"/>
<circle cx="257.0" cy="54.8" r="0.51" fill="#333" opacity="0.48"/>
<circle cx="261.5" cy="52.4" r="0.49" fill="#333" opacity="0.39"/>
<circle cx="257.6" cy="52.8" r="0.36" fill="#333" opacity="0.82"/>
<circle cx="269.9" cy="47.5" r="0.52" fill="#333" opacity="0.38"/>
<circle cx="272.8" cy="45.6" r="0.46" fill="#333" opacity="0.81"/>
<circle cx="263.6" cy="53.3" r="0.40" fill="#333" opacity="0.40"/>
<circle cx="261.1" cy="53.4" r="0.41" fill="#333" opacity="0.50"/>
<circle cx="271.6" cy="48.0" r="0.39" fill="#333" opacity="0.52"/>
<circle cx="257.3" cy="54.7" r="0.50" fill="#333" opacity="0.63"/>
<circle cx="257.7" cy="53.4" r="0.37" fill="#333" opacity="0.76"/>
<circle cx="263.2" cy="50.6" r="0.43" fill="#333" opacity="0.60"/>
<circle cx="271.9" cy="47.2" r="0.52" fill="#333" opacity="0.70"/>
<circle cx="268.7" cy="48.7" r="0.36" fill="#333" opacity="0.41"/>
<circle cx="258.3" cy="52.9" r="0.38" fill="#333" opacity="0.39"/>
<circle cx="274.9" cy="43.9" r="0.41" fill="#333" opacity="0.47"/>
<circle cx="262.2" cy="52.1" r="0.44" fill="#333" opacity="0.48"/>
<circle cx="277.8" cy="45.5" r="0.40" fill="#333" opacity="0.83"/>
<circle cx="263.3" cy="51.8" r="0.43" fill="#333" opacity="0.59"/>
<circle cx="267.7" cy="51.2" r="0.35" fill="#333" opacity="0.48"/>
<circle cx="258.4" cy="54.0" r="0.35" fill="#333" opacity="0.50"/>
<circle cx="260.3" cy="51.6" r="0.50" fill="#333" opacity="0.68"/>
<circle cx="272.2" cy="46.1" r="0.42" fill="#333" opacity="0.84"/>
<circle cx="259.7" cy="51.3" r="0.36" fill="#333" opacity="0.77"/>
<circle cx="273.1" cy="43.8" r="0.51" fill="#333" opacity="0.42"/>
<circle cx="265.0" cy="49.3" r="0.51" fill="#333" opacity="0.76"/>
<circle cx="270.3" cy="47.4" r="0.49" fill="#333" opacity="0.46"/>
<circle cx="258.4" cy="55.3" r="0.37" fill="#333" opacity="0.77"/>
<circle cx="266.9" cy="47.6" r="0.49" fill="#333" opacity="0.59"/>
<circle cx="257.6" cy="52.4" r="0.45" fill="#333" opacity="0.62"/>
<circle cx="272.2" cy="48.6" r="0.40" fill="#333" opacity="0.39"/>
<circle cx="262.3" cy="51.3" r="0.50" fill="#333" opacity="0.84"/>
<circle cx="265.9" cy="50.8" r="0.49" fill="#333" opacity="0.73"/>
<circle cx="269.0" cy="47.9" r="0.38" fill="#333" opacity="0.48"/>
<circle cx="271.1" cy="48.3" r="0.35" fill="#333" opacity="0.38"/>
<circle cx="261.5" cy="50.3" r="0.49" fill="#333" opacity="0.50"/>
<circle cx="266.0" cy="49.8" r="0.37" fill="#333" opacity="0.80"/>
<circle cx="264.2" cy="52.3" r="0.35" fill="#333" opacity="0.58"/>
<circle cx="274.6" cy="45.4" r="0.40" fill="#333" opacity="0.45"/>
<circle cx="276.2" cy="47.4" r="0.38" fill="#333" opacity="0.61"/>
<circle cx="277.6" cy="47.6" r="0.45" fill="#333" opacity="0.79"/>
<circle cx="271.3" cy="50.0" r="0.45" fill="#333" opacity="0.36"/>
<circle cx="255.5" cy="54.6" r="0.41" fill="#333" opacity="0.42"/>
<circle cx="263.0" cy="53.8" r="0.35" fill="#333" opacity="0.73"/>
<circle cx="275.8" cy="47.5" r="0.49" fill="#333" opacity="0.80"/>
<circle cx="262.0" cy="52.9" r="0.55" fill="#333" opacity="0.64"/>
<circle cx="263.4" cy="51.7" r="0.36" fill="#333" opacity="0.40"/>
<circle cx="272.7" cy="48.5" r="0.40" fill="#333" opacity="0.48"/>
<circle cx="267.8" cy="50.8" r="0.54" fill="#333" opacity="0.79"/>
<circle cx="271.0" cy="43.6" r="0.54" fill="#333" opacity="0.62"/>
<circle cx="273.4" cy="47.6" r="0.44" fill="#333" opacity="0.73"/>
<circle cx="269.8" cy="48.3" r="0.54" fill="#333" opacity="0.41"/>
<circle cx="265.9" cy="51.0" r="0.50" fill="#333" opacity="0.84"/>
<circle cx="261.7" cy="51.3" r="0.46" fill="#333" opacity="0.55"/>
<circle cx="260.9" cy="53.9" r="0.53" fill="#333" opacity="0.60"/>
<circle cx="265.2" cy="50.1" r="0.44" fill="#333" opacity="0.42"/>
<circle cx="261.9" cy="53.5" r="0.37" fill="#333" opacity="0.47"/>
<circle cx="259.7" cy="51.0" r="0.50" fill="#333" opacity="0.56"/>
<circle cx="264.2" cy="50.5" r="0.42" fill="#333" opacity="0.38"/>
<circle cx="263.3" cy="51.9" r="0.45" fill="#333" opacity="0.66"/>
<circle cx="274.2" cy="46.3" r="0.40" fill="#333" opacity="0.55"/>
<circle cx="268.6" cy="49.6" r="0.52" fill="#333" opacity="0.36"/>
<circle cx="256.8" cy="51.5" r="0.44" fill="#333" opacity="0.64"/>
<circle cx="254.5" cy="56.5" r="0.52" fill="#333" opacity="0.78"/>
<circle cx="276.4" cy="46.5" r="0.38" fill="#333" opacity="0.61"/>
<circle cx="272.6" cy="46.7" r="0.48" fill="#333" opacity="0.73"/>
<circle cx="265.9" cy="50.1" r="0.51" fill="#333" opacity="0.47"/>
<circle cx="274.5" cy="44.6" r="0.38" fill="#333" opacity="0.48"/>
<circle cx="269.5" cy="47.4" r="0.36" fill="#333" opacity="0.61"/>
<circle cx="268.0" cy="49.3" r="0.47" fill="#333" opacity="0.36"/>
<circle cx="259.9" cy="52.7" r="0.48" fill="#333" opacity="0.79"/>
<circle cx="266.7" cy="51.0" r="0.54" fill="#333" opacity="0.70"/>
<circle cx="264.9" cy="52.0" r="0.48" fill="#333" opacity="0.56"/>
<circle cx="260.7" cy="49.6" r="0.40" fill="#333" opacity="0.37"/>
<circle cx="262.1" cy="52.5" r="0.39" fill="#333" opacity="0.75"/>
<circle cx="270.7" cy="46.7" r="0.54" fill="#333" opacity="0.51"/>
<circle cx="273.3" cy="46.6" r="0.50" fill="#333" opacity="0.50"/>
<circle cx="275.1" cy="45.8" r="0.39" fill="#333" opacity="0.56"/>
<circle cx="271.0" cy="47.4" r="0.43" fill="#333" opacity="0.46"/>
<circle cx="276.7" cy="46.2" r="0.36" fill="#333" opacity="0.55"/>
<circle cx="276.4" cy="44.0" r="0.55" fill="#333" opacity="0.82"/>
<circle cx="265.0" cy="54.5" r="0.50" fill="#333" opacity="0.37"/>
<circle cx="269.3" cy="48.6" r="0.42" fill="#333" opacity="0.43"/>
<circle cx="256.7" cy="55.8" r="0.54" fill="#333" opacity="0.41"/>
<circle cx="268.8" cy="90.8" r="0.51" fill="#333" opacity="0.76"/>
<circle cx="276.1" cy="66.5" r="0.42" fill="#333" opacity="0.81"/>
<circle cx="275.3" cy="57.3" r="0.36" fill="#333" opacity="0.56"/>
<circle cx="270.5" cy="82.6" r="0.36" fill="#333" opacity="0.38"/>
<circle cx="269.0" cy="89.8" r="0.53" fill="#333" opacity="0.52"/>
<circle cx="278.1" cy="58.5" r="0.40" fill="#333" opacity="0.71"/>
<circle cx="276.0" cy="61.0" r="0.50" fill="#333" opacity="0.81"/>
<circle cx="272.8" cy="75.0" r="0.40" fill="#333" opacity="0.59"/>
<circle cx="269.8" cy="89.1" r="0.40" fill="#333" opacity="0.56"/>
<circle cx="274.8" cy="68.5" r="0.51" fill="#333" opacity="0.72"/>
<circle cx="270.6" cy="81.8" r="0.42" fill="#333" opacity="0.51"/>
<circle cx="275.6" cy="62.5" r="0.39" fill="#333" opacity="0.73"/>
<circle cx="277.1" cy="58.0" r="0.46" fill="#333" opacity="0.51"/>
<circle cx="271.0" cy="88.0" r="0.40" fill="#333" opacity="0.39"/>
<circle cx="275.3" cy="50.9" r="0.44" fill="#333" opacity="0.47"/>
<circle cx="273.6" cy="64.2" r="0.50" fill="#333" opacity="0.77"/>
<circle cx="273.8" cy="78.0" r="0.41" fill="#333" opacity="0.63"/>
<circle cx="275.4" cy="62.6" r="0.40" fill="#333" opacity="0.47"/>
<circle cx="278.2" cy="52.5" r="0.42" fill="#333" opacity="0.55"/>
<circle cx="267.3" cy="90.9" r="0.51" fill="#333" opacity="0.68"/>
<circle cx="269.3" cy="91.7" r="0.51" fill="#333" opacity="0.77"/>
<circle cx="270.1" cy="87.8" r="0.37" fill="#333" opacity="0.44"/>
<circle cx="266.0" cy="88.7" r="0.42" fill="#333" opacity="0.78"/>
<circle cx="274.5" cy="68.9" r="0.54" fill="#333" opacity="0.40"/>
<circle cx="272.3" cy="72.8" r="0.42" fill="#333" opacity="0.42"/>
<circle cx="276.9" cy="57.5" r="0.48" fill="#333" opacity="0.45"/>
<circle cx="276.4" cy="48.6" r="0.39" fill="#333" opacity="0.51"/>
<circle cx="277.4" cy="54.4" r="0.36" fill="#333" opacity="0.40"/>
<circle cx="273.5" cy="63.9" r="0.37" fill="#333" opacity="0.43"/>
<circle cx="271.0" cy="78.3" r="0.41" fill="#333" opacity="0.83"/>
<circle cx="275.1" cy="60.3" r="0.43" fill="#333" opacity="0.78"/>
<circle cx="267.6" cy="91.8" r="0.50" fill="#333" opacity="0.45"/>
<circle cx="278.3" cy="46.0" r="0.51" fill="#333" opacity="0.55"/>
<circle cx="268.9" cy="86.3" r="0.35" fill="#333" opacity="0.63"/>
<circle cx="272.9" cy="75.1" r="0.47" fill="#333" opacity="0.54"/>
<circle cx="274.6" cy="70.1" r="0.45" fill="#333" opacity="0.81"/>
<circle cx="275.0" cy="51.6" r="0.54" fill="#333" opacity="0.45"/>
<circle cx="280.2" cy="51.2" r="0.45" fill="#333" opacity="0.38"/>
<circle cx="267.0" cy="89.7" r="0.47" fill="#333" opacity="0.76"/>
<circle cx="277.2" cy="53.0" r="0.43" fill="#333" opacity="0.77"/>
<circle cx="270.6" cy="84.5" r="0.43" fill="#333" opacity="0.61"/>
<circle cx="276.0" cy="64.6" r="0.49" fill="#333" opacity="0.80"/>
<circle cx="275.4" cy="47.6" r="0.36" fill="#333" opacity="0.77"/>
<circle cx="275.9" cy="51.0" r="0.48" fill="#333" opacity="0.50"/>
<circle cx="273.8" cy="64.9" r="0.48" fill="#333" opacity="0.57"/>
<circle cx="276.4" cy="66.6" r="0.45" fill="#333" opacity="0.47"/>
<circle cx="271.3" cy="79.5" r="0.39" fill="#333" opacity="0.59"/>
<circle cx="278.0" cy="52.3" r="0.37" fill="#333" opacity="0.57"/>
<circle cx="275.6" cy="70.0" r="0.37" fill="#333" opacity="0.72"/>
<circle cx="270.5" cy="81.4" r="0.45" fill="#333" opacity="0.54"/>
<circle cx="270.3" cy="90.9" r="0.55" fill="#333" opacity="0.72"/>
<circle cx="271.6" cy="86.3" r="0.45" fill="#333" opacity="0.83"/>
<circle cx="270.2" cy="89.4" r="0.54" fill="#333" opacity="0.38"/>
<circle cx="275.7" cy="61.8" r="0.53" fill="#333" opacity="0.49"/>
<circle cx="271.3" cy="84.3" r="0.53" fill="#333" opacity="0.45"/>
<circle cx="275.6" cy="58.5" r="0.36" fill="#333" opacity="0.44"/>
<circle cx="278.7" cy="53.2" r="0.53" fill="#333" opacity="0.43"/>
<circle cx="271.9" cy="82.8" r="0.48" fill="#333" opacity="0.53"/>
<circle cx="268.2" cy="85.1" r="0.53" fill="#333" opacity="0.40"/>
<circle cx="267.4" cy="90.1" r="0.51" fill="#333" opacity="0.48"/>
<circle cx="267.2" cy="90.4" r="0.50" fill="#333" opacity="0.57"/>
<circle cx="277.0" cy="54.2" r="0.51" fill="#333" opacity="0.48"/>
<circle cx="274.0" cy="75.1" r="0.48" fill="#333" opacity="0.51"/>
<circle cx="278.0" cy="46.7" r="0.47" fill="#333" opacity="0.57"/>
<circle cx="274.4" cy="69.3" r="0.40" fill="#333" opacity="0.68"/>
<circle cx="278.4" cy="47.5" r="0.37" fill="#333" opacity="0.53"/>
<circle cx="275.5" cy="56.0" r="0.39" fill="#333" opacity="0.66"/>
<circle cx="276.2" cy="70.1" r="0.40" fill="#333" opacity="0.42"/>
<circle cx="275.6" cy="49.0" r="0.51" fill="#333" opacity="0.55"/>
<circle cx="278.4" cy="58.7" r="0.46" fill="#333" opacity="0.53"/>
<circle cx="269.7" cy="76.6" r="0.50" fill="#333" opacity="0.47"/>
<circle cx="270.7" cy="87.4" r="0.43" fill="#333" opacity="0.47"/>
<circle cx="277.2" cy="49.0" r="0.46" fill="#333" opacity="0.82"/>
<circle cx="277.6" cy="54.6" r="0.45" fill="#333" opacity="0.67"/>
<circle cx="270.9" cy="84.0" r="0.41" fill="#333" opacity="0.37"/>
<circle cx="269.9" cy="84.5" r="0.35" fill="#333" opacity="0.77"/>
<circle cx="269.3" cy="80.5" r="0.44" fill="#333" opacity="0.46"/>
<circle cx="277.2" cy="51.7" r="0.42" fill="#333" opacity="0.72"/>
<circle cx="272.9" cy="76.2" r="0.40" fill="#333" opacity="0.63"/>
<circle cx="275.1" cy="64.8" r="0.40" fill="#333" opacity="0.67"/>
<circle cx="269.0" cy="92.2" r="0.35" fill="#333" opacity="0.48"/>
<circle cx="276.8" cy="54.5" r="0.50" fill="#333" opacity="0.51"/>
<circle cx="269.2" cy="86.8" r="0.53" fill="#333" opacity="0.67"/>
<circle cx="270.1" cy="74.8" r="0.44" fill="#333" opacity="0.77"/>
<circle cx="272.6" cy="76.9" r="0.49" fill="#333" opacity="0.64"/>
<circle cx="276.5" cy="62.2" r="0.37" fill="#333" opacity="0.81"/>
<circle cx="277.6" cy="53.2" r="0.54" fill="#333" opacity="0.52"/>
<circle cx="277.4" cy="53.1" r="0.49" fill="#333" opacity="0.67"/>
<circle cx="271.7" cy="77.4" r="0.47" fill="#333" opacity="0.53"/>
<circle cx="271.5" cy="80.9" r="0.36" fill="#333" opacity="0.78"/>
<circle cx="269.7" cy="87.3" r="0.39" fill="#333" opacity="0.41"/>
<circle cx="278.5" cy="46.3" r="0.48" fill="#333" opacity="0.76"/>
<circle cx="272.4" cy="75.5" r="0.37" fill="#333" opacity="0.73"/>
<circle cx="276.4" cy="57.1" r="0.35" fill="#333" opacity="0.48"/>
<circle cx="276.2" cy="58.3" r="0.41" fill="#333" opacity="0.83"/>
<circle cx="275.0" cy="67.9" r="0.36" fill="#333" opacity="0.56"/>
<circle cx="274.9" cy="65.2" r="0.49" fill="#333" opacity="0.62"/>
<circle cx="277.3" cy="56.0" r="0.51" fill="#333" opacity="0.44"/>
<circle cx="277.9" cy="48.5" r="0.55" fill="#333" opacity="0.35"/>
<circle cx="272.0" cy="68.8" r="0.39" fill="#333" opacity="0.60"/>
<circle cx="276.2" cy="61.5" r="0.54" fill="#333" opacity="0.49"/>
<circle cx="276.5" cy="55.0" r="0.37" fill="#333" opacity="0.67"/>
<circle cx="277.6" cy="48.4" r="0.51" fill="#333" opacity="0.66"/>
<circle cx="274.6" cy="63.4" r="0.53" fill="#333" opacity="0.39"/>
<circle cx="270.3" cy="86.5" r="0.40" fill="#333" opacity="0.80"/>
<circle cx="272.2" cy="70.9" r="0.40" fill="#333" opacity="0.58"/>
<circle cx="273.7" cy="68.5" r="0.48" fill="#333" opacity="0.52"/>
<circle cx="277.2" cy="63.3" r="0.48" fill="#333" opacity="0.72"/>
<circle cx="275.1" cy="55.1" r="0.47" fill="#333" opacity="0.41"/>
<circle cx="275.1" cy="66.8" r="0.39" fill="#333" opacity="0.50"/>
<circle cx="272.1" cy="77.6" r="0.38" fill="#333" opacity="0.47"/>
<circle cx="275.2" cy="61.3" r="0.42" fill="#333" opacity="0.44"/>
<circle cx="268.3" cy="89.7" r="0.54" fill="#333" opacity="0.40"/>
<circle cx="277.4" cy="63.7" r="0.50" fill="#333" opacity="0.57"/>
<circle cx="276.6" cy="55.1" r="0.39" fill="#333" opacity="0.54"/>
<circle cx="275.5" cy="49.3" r="0.49" fill="#333" opacity="0.60"/>
<circle cx="271.9" cy="75.2" r="0.47" fill="#333" opacity="0.55"/>
<circle cx="272.3" cy="79.1" r="0.46" fill="#333" opacity="0.72"/>
<circle cx="275.2" cy="67.5" r="0.53" fill="#333" opacity="0.74"/>
<circle cx="272.8" cy="76.6" r="0.48" fill="#333" opacity="0.58"/>
<circle cx="275.7" cy="60.4" r="0.43" fill="#333" opacity="0.74"/>
<circle cx="271.0" cy="77.9" r="0.43" fill="#333" opacity="0.58"/>
<circle cx="271.1" cy="75.5" r="0.54" fill="#333" opacity="0.44"/>
<circle cx="272.5" cy="74.8" r="0.45" fill="#333" opacity="0.84"/>
<circle cx="276.6" cy="48.1" r="0.51" fill="#333" opacity="0.82"/>
<circle cx="275.1" cy="70.9" r="0.46" fill="#333" opacity="0.71"/>
<circle cx="272.4" cy="67.9" r="0.45" fill="#333" opacity="0.56"/>
<circle cx="269.2" cy="90.8" r="0.43" fill="#333" opacity="0.73"/>
<circle cx="278.2" cy="52.0" r="0.36" fill="#333" opacity="0.49"/>
<circle cx="276.4" cy="64.7" r="0.43" fill="#333" opacity="0.70"/>
<circle cx="275.6" cy="63.4" r="0.50" fill="#333" opacity="0.82"/>
<circle cx="274.1" cy="72.4" r="0.43" fill="#333" opacity="0.46"/>
<circle cx="277.4" cy="50.3" r="0.48" fill="#333" opacity="0.58"/>
<circle cx="273.8" cy="74.9" r="0.42" fill="#333" opacity="0.67"/>
<circle cx="270.9" cy="82.1" r="0.41" fill="#333" opacity="0.62"/>
<circle cx="277.7" cy="51.3" r="0.52" fill="#333" opacity="0.48"/>
<circle cx="275.4" cy="64.9" r="0.39" fill="#333" opacity="0.35"/>
<circle cx="271.3" cy="79.9" r="0.41" fill="#333" opacity="0.59"/>
<circle cx="273.7" cy="64.6" r="0.42" fill="#333" opacity="0.81"/>
<circle cx="272.0" cy="85.7" r="0.53" fill="#333" opacity="0.74"/>
<circle cx="277.9" cy="51.5" r="0.35" fill="#333" opacity="0.36"/>
<circle cx="268.2" cy="88.4" r="0.37" fill="#333" opacity="0.42"/>
<circle cx="277.1" cy="56.1" r="0.38" fill="#333" opacity="0.80"/>
<circle cx="272.0" cy="84.3" r="0.47" fill="#333" opacity="0.74"/>
<circle cx="273.8" cy="75.3" r="0.52" fill="#333" opacity="0.45"/>
<circle cx="269.9" cy="77.3" r="0.44" fill="#333" opacity="0.79"/>
<circle cx="273.3" cy="72.4" r="0.38" fill="#333" opacity="0.60"/>
<circle cx="276.5" cy="49.3" r="0.45" fill="#333" opacity="0.60"/>
<circle cx="273.7" cy="70.8" r="0.52" fill="#333" opacity="0.58"/>
<circle cx="272.1" cy="69.9" r="0.42" fill="#333" opacity="0.56"/>
<circle cx="270.1" cy="90.3" r="0.48" fill="#333" opacity="0.36"/>
<circle cx="271.6" cy="71.5" r="0.42" fill="#333" opacity="0.84"/>
<circle cx="271.4" cy="69.8" r="0.36" fill="#333" opacity="0.71"/>
<circle cx="271.3" cy="76.7" r="0.42" fill="#333" opacity="0.59"/>
<circle cx="273.8" cy="69.4" r="0.44" fill="#333" opacity="0.56"/>
<circle cx="273.9" cy="70.6" r="0.52" fill="#333" opacity="0.55"/>
<circle cx="273.8" cy="70.7" r="0.54" fill="#333" opacity="0.68"/>
<circle cx="270.2" cy="83.0" r="0.41" fill="#333" opacity="0.64"/>
<circle cx="272.6" cy="74.8" r="0.49" fill="#333" opacity="0.79"/>
<circle cx="274.5" cy="71.4" r="0.35" fill="#333" opacity="0.44"/>
<circle cx="267.7" cy="86.7" r="0.51" fill="#333" opacity="0.80"/>
<circle cx="271.5" cy="73.0" r="0.49" fill="#333" opacity="0.65"/>
<circle cx="272.4" cy="78.9" r="0.44" fill="#333" opacity="0.73"/>
<circle cx="277.3" cy="51.5" r="0.50" fill="#333" opacity="0.81"/>
<circle cx="270.7" cy="77.7" r="0.51" fill="#333" opacity="0.63"/>
<circle cx="276.3" cy="59.5" r="0.41" fill="#333" opacity="0.57"/>
<circle cx="272.8" cy="75.3" r="0.46" fill="#333" opacity="0.37"/>
<circle cx="277.7" cy="50.5" r="0.53" fill="#333" opacity="0.57"/>
<circle cx="276.1" cy="48.2" r="0.54" fill="#333" opacity="0.84"/>
<circle cx="273.8" cy="68.3" r="0.48" fill="#333" opacity="0.46"/>
<circle cx="267.0" cy="92.5" r="0.49" fill="#333" opacity="0.35"/>
<circle cx="260.9" cy="98.3" r="0.38" fill="#333" opacity="0.31"/>
<circle cx="262.0" cy="97.8" r="0.39" fill="#333" opacity="0.32"/>
<circle cx="261.0" cy="94.8" r="0.50" fill="#333" opacity="0.33"/>
<circle cx="262.6" cy="95.0" r="0.54" fill="#333" opacity="0.40"/>
<circle cx="259.3" cy="97.2" r="0.35" fill="#333" opacity="0.56"/>
<circle cx="261.6" cy="97.1" r="0.50" fill="#333" opacity="0.37"/>
<circle cx="260.1" cy="96.9" r="0.42" fill="#333" opacity="0.53"/>
<circle cx="264.4" cy="94.4" r="0.51" fill="#333" opacity="0.45"/>
<circle cx="262.1" cy="95.3" r="0.43" fill="#333" opacity="0.61"/>
<circle cx="259.8" cy="96.1" r="0.41" fill="#333" opacity="0.32"/>
<circle cx="258.8" cy="95.8" r="0.42" fill="#333" opacity="0.54"/>
<circle cx="259.8" cy="96.3" r="0.41" fill="#333" opacity="0.47"/>
<circle cx="259.2" cy="98.0" r="0.47" fill="#333" opacity="0.66"/>
<circle cx="261.0" cy="96.7" r="0.40" fill="#333" opacity="0.47"/>
<circle cx="264.1" cy="94.1" r="0.36" fill="#333" opacity="0.63"/>
<circle cx="261.8" cy="95.8" r="0.40" fill="#333" opacity="0.64"/>
<circle cx="260.2" cy="94.9" r="0.42" fill="#333" opacity="0.33"/>
<circle cx="263.8" cy="95.1" r="0.50" fill="#333" opacity="0.67"/>
<circle cx="265.2" cy="92.3" r="0.44" fill="#333" opacity="0.38"/>
<circle cx="266.1" cy="91.8" r="0.44" fill="#333" opacity="0.34"/>
<circle cx="261.1" cy="96.0" r="0.47" fill="#333" opacity="0.66"/>
<circle cx="259.2" cy="96.9" r="0.47" fill="#333" opacity="0.38"/>
<circle cx="267.2" cy="94.1" r="0.42" fill="#333" opacity="0.53"/>
<circle cx="264.4" cy="94.5" r="0.36" fill="#333" opacity="0.70"/>
<circle cx="266.2" cy="95.1" r="0.51" fill="#333" opacity="0.36"/>
<circle cx="262.6" cy="96.7" r="0.35" fill="#333" opacity="0.31"/>
<circle cx="259.8" cy="96.7" r="0.46" fill="#333" opacity="0.40"/>
<circle cx="259.4" cy="97.6" r="0.50" fill="#333" opacity="0.63"/>
<circle cx="259.4" cy="97.6" r="0.39" fill="#333" opacity="0.37"/>
<circle cx="268.5" cy="92.3" r="0.52" fill="#333" opacity="0.48"/>
<circle cx="259.8" cy="97.1" r="0.47" fill="#333" opacity="0.46"/>
<circle cx="267.8" cy="92.1" r="0.46" fill="#333" opacity="0.56"/>
<circle cx="259.0" cy="96.5" r="0.44" fill="#333" opacity="0.36"/>
<circle cx="260.0" cy="97.3" r="0.36" fill="#333" opacity="0.40"/>
<circle cx="266.9" cy="93.0" r="0.52" fill="#333" opacity="0.32"/>
<circle cx="260.9" cy="95.4" r="0.55" fill="#333" opacity="0.32"/>
<circle cx="267.0" cy="90.3" r="0.49" fill="#333" opacity="0.42"/>
<circle cx="263.3" cy="95.4" r="0.41" fill="#333" opacity="0.40"/>
<circle cx="266.6" cy="92.4" r="0.40" fill="#333" opacity="0.36"/>
<circle cx="263.8" cy="96.3" r="0.39" fill="#333" opacity="0.31"/>
<circle cx="260.1" cy="99.3" r="0.52" fill="#333" opacity="0.66"/>
<circle cx="266.6" cy="92.6" r="0.54" fill="#333" opacity="0.64"/>
<circle cx="262.1" cy="96.2" r="0.51" fill="#333" opacity="0.49"/>
<circle cx="263.3" cy="96.4" r="0.36" fill="#333" opacity="0.59"/>
<circle cx="273.3" cy="68.7" r="0.25" fill="#333" opacity="0.56"/>
<circle cx="279.5" cy="63.3" r="0.35" fill="#333" opacity="0.45"/>
<circle cx="272.4" cy="76.5" r="0.41" fill="#333" opacity="0.48"/>
<circle cx="270.0" cy="101.9" r="0.32" fill="#333" opacity="0.56"/>
<circle cx="272.8" cy="80.1" r="0.40" fill="#333" opacity="0.49"/>
<circle cx="271.1" cy="72.2" r="0.31" fill="#333" opacity="0.43"/>
<circle cx="278.1" cy="67.8" r="0.33" fill="#333" opacity="0.54"/>
<circle cx="277.3" cy="71.5" r="0.30" fill="#333" opacity="0.41"/>
<circle cx="283.3" cy="58.4" r="0.34" fill="#333" opacity="0.40"/>
<circle cx="274.4" cy="89.7" r="0.30" fill="#333" opacity="0.56"/>
<circle cx="273.0" cy="83.8" r="0.39" fill="#333" opacity="0.45"/>
<circle cx="274.9" cy="86.6" r="0.33" fill="#333" opacity="0.32"/>
<circle cx="293.4" cy="71.3" r="0.30" fill="#333" opacity="0.31"/>
<circle cx="278.0" cy="69.0" r="0.35" fill="#333" opacity="0.48"/>
<circle cx="268.3" cy="104.3" r="0.26" fill="#333" opacity="0.62"/>
<circle cx="281.7" cy="82.1" r="0.31" fill="#333" opacity="0.59"/>
<circle cx="265.8" cy="113.8" r="0.39" fill="#333" opacity="0.63"/>
<circle cx="284.0" cy="76.1" r="0.28" fill="#333" opacity="0.42"/>
<circle cx="273.0" cy="79.1" r="0.40" fill="#333" opacity="0.25"/>
<circle cx="284.8" cy="73.7" r="0.26" fill="#333" opacity="0.48"/>
<circle cx="272.6" cy="69.9" r="0.33" fill="#333" opacity="0.62"/>
<circle cx="273.9" cy="92.4" r="0.38" fill="#333" opacity="0.47"/>
<circle cx="276.4" cy="79.9" r="0.42" fill="#333" opacity="0.46"/>
<circle cx="280.0" cy="47.4" r="0.34" fill="#333" opacity="0.52"/>
<circle cx="275.3" cy="78.2" r="0.32" fill="#333" opacity="0.39"/>
<circle cx="279.7" cy="84.1" r="0.35" fill="#333" opacity="0.39"/>
<circle cx="271.5" cy="71.8" r="0.41" fill="#333" opacity="0.52"/>
<circle cx="274.4" cy="93.2" r="0.34" fill="#333" opacity="0.29"/>
<circle cx="277.1" cy="43.7" r="0.31" fill="#333" opacity="0.41"/>
<circle cx="273.4" cy="66.3" r="0.35" fill="#333" opacity="0.48"/>
<circle cx="281.4" cy="83.4" r="0.40" fill="#333" opacity="0.64"/>
<circle cx="266.9" cy="84.9" r="0.33" fill="#333" opacity="0.43"/>
<circle cx="282.6" cy="83.0" r="0.36" fill="#333" opacity="0.65"/>
<circle cx="267.0" cy="97.5" r="0.31" fill="#333" opacity="0.46"/>
<circle cx="281.3" cy="58.6" r="0.39" fill="#333" opacity="0.32"/>
<circle cx="285.8" cy="76.9" r="0.30" fill="#333" opacity="0.64"/>
<circle cx="273.8" cy="82.1" r="0.39" fill="#333" opacity="0.46"/>
<circle cx="279.7" cy="59.1" r="0.27" fill="#333" opacity="0.61"/>
<circle cx="276.1" cy="85.4" r="0.37" fill="#333" opacity="0.58"/>
<circle cx="275.2" cy="71.1" r="0.42" fill="#333" opacity="0.61"/>
<circle cx="270.5" cy="69.1" r="0.32" fill="#333" opacity="0.31"/>
<circle cx="273.1" cy="70.9" r="0.30" fill="#333" opacity="0.45"/>
<circle cx="277.5" cy="43.3" r="0.34" fill="#333" opacity="0.33"/>
<circle cx="279.9" cy="62.0" r="0.28" fill="#333" opacity="0.50"/>
<circle cx="276.4" cy="56.8" r="0.35" fill="#333" opacity="0.39"/>
<circle cx="276.3" cy="66.4" r="0.42" fill="#333" opacity="0.50"/>
<circle cx="288.0" cy="45.0" r="0.26" fill="#333" opacity="0.41"/>
<circle cx="269.5" cy="71.8" r="0.38" fill="#333" opacity="0.37"/>
<circle cx="270.0" cy="67.4" r="0.37" fill="#333" opacity="0.25"/>
<circle cx="287.6" cy="79.2" r="0.30" fill="#333" opacity="0.59"/>
<circle cx="274.6" cy="82.0" r="0.35" fill="#333" opacity="0.52"/>
<circle cx="277.5" cy="79.7" r="0.28" fill="#333" opacity="0.45"/>
<circle cx="276.5" cy="68.5" r="0.34" fill="#333" opacity="0.36"/>
<circle cx="279.8" cy="86.9" r="0.36" fill="#333" opacity="0.46"/>
<circle cx="275.4" cy="74.9" r="0.42" fill="#333" opacity="0.48"/>
<circle cx="271.9" cy="59.1" r="0.32" fill="#333" opacity="0.30"/>
<circle cx="280.8" cy="92.4" r="0.28" fill="#333" opacity="0.55"/>
<circle cx="275.9" cy="67.2" r="0.27" fill="#333" opacity="0.29"/>
<circle cx="277.8" cy="85.5" r="0.28" fill="#333" opacity="0.46"/>
<circle cx="271.5" cy="71.4" r="0.39" fill="#333" opacity="0.50"/>
<circle cx="277.6" cy="83.7" r="0.39" fill="#333" opacity="0.27"/>
<circle cx="277.6" cy="88.7" r="0.25" fill="#333" opacity="0.56"/>
<circle cx="278.3" cy="65.4" r="0.30" fill="#333" opacity="0.54"/>
<circle cx="276.7" cy="98.1" r="0.31" fill="#333" opacity="0.32"/>
<circle cx="280.9" cy="66.6" r="0.30" fill="#333" opacity="0.29"/>
<circle cx="265.1" cy="85.4" r="0.40" fill="#333" opacity="0.48"/>
<circle cx="271.0" cy="68.8" r="0.31" fill="#333" opacity="0.43"/>
<circle cx="284.9" cy="63.2" r="0.32" fill="#333" opacity="0.27"/>
<circle cx="272.2" cy="81.7" r="0.40" fill="#333" opacity="0.48"/>
<circle cx="270.8" cy="86.2" r="0.41" fill="#333" opacity="0.43"/>
<circle cx="284.9" cy="69.9" r="0.36" fill="#333" opacity="0.35"/>
<circle cx="285.4" cy="57.9" r="0.26" fill="#333" opacity="0.62"/>
<circle cx="277.0" cy="67.8" r="0.40" fill="#333" opacity="0.38"/>
<circle cx="279.6" cy="67.7" r="0.40" fill="#333" opacity="0.58"/>
<circle cx="267.8" cy="81.7" r="0.30" fill="#333" opacity="0.49"/>
<circle cx="269.4" cy="86.1" r="0.41" fill="#333" opacity="0.45"/>
<circle cx="279.3" cy="79.8" r="0.41" fill="#333" opacity="0.35"/>
<circle cx="274.5" cy="71.8" r="0.32" fill="#333" opacity="0.54"/>
<circle cx="279.4" cy="105.4" r="0.29" fill="#333" opacity="0.37"/>
<circle cx="282.6" cy="35.5" r="0.40" fill="#333" opacity="0.44"/>
<circle cx="272.5" cy="49.7" r="0.38" fill="#333" opacity="0.35"/>
<circle cx="286.3" cy="51.2" r="0.28" fill="#333" opacity="0.39"/>
<circle cx="281.7" cy="77.8" r="0.28" fill="#333" opacity="0.64"/>
<circle cx="271.4" cy="95.6" r="0.30" fill="#333" opacity="0.47"/>
<circle cx="271.8" cy="91.5" r="0.27" fill="#333" opacity="0.46"/>
<circle cx="283.1" cy="62.8" r="0.32" fill="#333" opacity="0.41"/>
<circle cx="272.8" cy="91.2" r="0.26" fill="#333" opacity="0.30"/>
<circle cx="272.7" cy="85.0" r="0.39" fill="#333" opacity="0.39"/>
<circle cx="274.9" cy="65.4" r="0.29" fill="#333" opacity="0.33"/>
<circle cx="271.8" cy="70.4" r="0.30" fill="#333" opacity="0.34"/>
<circle cx="268.9" cy="75.3" r="0.26" fill="#333" opacity="0.52"/>
<circle cx="276.1" cy="78.8" r="0.31" fill="#333" opacity="0.31"/>
<circle cx="276.9" cy="82.1" r="0.37" fill="#333" opacity="0.29"/>
<circle cx="271.1" cy="78.8" r="0.30" fill="#333" opacity="0.58"/>
<circle cx="274.6" cy="78.8" r="0.27" fill="#333" opacity="0.43"/>
<circle cx="272.4" cy="58.2" r="0.39" fill="#333" opacity="0.57"/>
<circle cx="274.8" cy="63.1" r="0.28" fill="#333" opacity="0.39"/>
<circle cx="276.5" cy="54.7" r="0.37" fill="#333" opacity="0.40"/>
<circle cx="269.9" cy="64.6" r="0.41" fill="#333" opacity="0.33"/>
<circle cx="270.9" cy="74.1" r="0.41" fill="#333" opacity="0.45"/>
<circle cx="274.1" cy="83.2" r="0.29" fill="#333" opacity="0.43"/>
<circle cx="270.8" cy="70.1" r="0.27" fill="#333" opacity="0.53"/>
<circle cx="275.0" cy="70.7" r="0.29" fill="#333" opacity="0.61"/>
<circle cx="266.0" cy="96.4" r="0.35" fill="#333" opacity="0.40"/>
<circle cx="273.1" cy="92.2" r="0.29" fill="#333" opacity="0.49"/>
<circle cx="271.4" cy="72.1" r="0.29" fill="#333" opacity="0.60"/>
<circle cx="279.8" cy="71.5" r="0.27" fill="#333" opacity="0.46"/>
<circle cx="277.2" cy="62.8" r="0.34" fill="#333" opacity="0.36"/>
<circle cx="282.8" cy="86.4" r="0.38" fill="#333" opacity="0.40"/>
<circle cx="273.6" cy="73.9" r="0.36" fill="#333" opacity="0.48"/>
<circle cx="269.9" cy="82.5" r="0.30" fill="#333" opacity="0.41"/>
<circle cx="276.3" cy="64.4" r="0.26" fill="#333" opacity="0.32"/>
<circle cx="271.9" cy="111.9" r="0.39" fill="#333" opacity="0.38"/>
<circle cx="276.6" cy="62.8" r="0.36" fill="#333" opacity="0.29"/>
<circle cx="271.3" cy="84.3" r="0.35" fill="#333" opacity="0.39"/>
<circle cx="275.2" cy="52.0" r="0.34" fill="#333" opacity="0.37"/>
<circle cx="284.2" cy="49.0" r="0.26" fill="#333" opacity="0.37"/>
<circle cx="278.9" cy="45.2" r="0.29" fill="#333" opacity="0.30"/>
<circle cx="277.4" cy="37.6" r="0.37" fill="#333" opacity="0.36"/>
<circle cx="279.3" cy="96.0" r="0.32" fill="#333" opacity="0.61"/>
<circle cx="266.9" cy="91.8" r="0.36" fill="#333" opacity="0.33"/>
<circle cx="267.1" cy="98.4" r="0.29" fill="#333" opacity="0.43"/>
<circle cx="264.8" cy="101.0" r="0.33" fill="#333" opacity="0.58"/>
<circle cx="261.2" cy="94.7" r="0.31" fill="#333" opacity="0.35"/>
<circle cx="261.3" cy="103.3" r="0.40" fill="#333" opacity="0.30"/>
<circle cx="260.0" cy="94.8" r="0.35" fill="#333" opacity="0.37"/>
<circle cx="265.1" cy="107.7" r="0.39" fill="#333" opacity="0.44"/>
<circle cx="259.9" cy="104.5" r="0.38" fill="#333" opacity="0.31"/>
<circle cx="266.2" cy="101.8" r="0.36" fill="#333" opacity="0.46"/>
<circle cx="273.3" cy="96.6" r="0.33" fill="#333" opacity="0.52"/>
<circle cx="264.6" cy="98.9" r="0.39" fill="#333" opacity="0.29"/>
<circle cx="268.5" cy="100.6" r="0.30" fill="#333" opacity="0.38"/>
<circle cx="266.6" cy="103.2" r="0.29" fill="#333" opacity="0.27"/>
<circle cx="263.8" cy="100.8" r="0.30" fill="#333" opacity="0.32"/>
<circle cx="261.8" cy="105.3" r="0.37" fill="#333" opacity="0.41"/>
<circle cx="269.9" cy="106.9" r="0.27" fill="#333" opacity="0.36"/>
<circle cx="256.4" cy="97.3" r="0.33" fill="#333" opacity="0.38"/>
<circle cx="264.8" cy="104.3" r="0.28" fill="#333" opacity="0.28"/>
<circle cx="262.8" cy="96.6" r="0.25" fill="#333" opacity="0.60"/>
<circle cx="276.4" cy="100.0" r="0.38" fill="#333" opacity="0.28"/>
<circle cx="265.8" cy="96.8" r="0.37" fill="#333" opacity="0.59"/>
<circle cx="276.3" cy="102.1" r="0.35" fill="#333" opacity="0.29"/>
<circle cx="263.5" cy="99.2" r="0.33" fill="#333" opacity="0.40"/>
<circle cx="265.1" cy="101.9" r="0.28" fill="#333" opacity="0.44"/>
<circle cx="266.1" cy="97.3" r="0.25" fill="#333" opacity="0.57"/>
<circle cx="273.6" cy="96.6" r="0.36" fill="#333" opacity="0.47"/>
<circle cx="272.9" cy="103.2" r="0.41" fill="#333" opacity="0.48"/>
<circle cx="257.2" cy="104.1" r="0.29" fill="#333" opacity="0.34"/>
<circle cx="267.3" cy="97.1" r="0.27" fill="#333" opacity="0.26"/>
<circle cx="277.3" cy="105.2" r="0.38" fill="#333" opacity="0.54"/>
<circle cx="252.7" cy="104.2" r="0.30" fill="#333" opacity="0.32"/>
<circle cx="261.5" cy="93.9" r="0.36" fill="#333" opacity="0.55"/>
<circle cx="269.1" cy="95.1" r="0.41" fill="#333" opacity="0.31"/>
<circle cx="263.1" cy="100.4" r="0.38" fill="#333" opacity="0.54"/>
<circle cx="263.0" cy="96.0" r="0.38" fill="#333" opacity="0.36"/>
<circle cx="251.3" cy="99.3" r="0.28" fill="#333" opacity="0.54"/>
<circle cx="272.1" cy="104.9" r="0.30" fill="#333" opacity="0.38"/>
<circle cx="274.0" cy="101.7" r="0.34" fill="#333" opacity="0.38"/>
<circle cx="266.6" cy="97.1" r="0.39" fill="#333" opacity="0.33"/>
<circle cx="249.8" cy="97.0" r="0.26" fill="#333" opacity="0.45"/>
<circle cx="260.1" cy="96.2" r="0.36" fill="#333" opacity="0.54"/>
<circle cx="265.0" cy="101.4" r="0.37" fill="#333" opacity="0.57"/>
<circle cx="261.1" cy="103.2" r="0.41" fill="#333" opacity="0.42"/>
<circle cx="266.6" cy="103.3" r="0.33" fill="#333" opacity="0.31"/>
<circle cx="271.1" cy="104.7" r="0.30" fill="#333" opacity="0.45"/>
<circle cx="277.2" cy="43.6" r="0.29" fill="#333" opacity="0.46"/>
<circle cx="274.2" cy="45.5" r="0.29" fill="#333" opacity="0.48"/>
<circle cx="272.7" cy="43.5" r="0.43" fill="#333" opacity="0.52"/>
<circle cx="275.5" cy="43.1" r="0.40" fill="#333" opacity="0.60"/>
<circle cx="274.9" cy="46.6" r="0.30" fill="#333" opacity="0.70"/>
<circle cx="278.9" cy="40.9" r="0.40" fill="#333" opacity="0.34"/>
<circle cx="274.0" cy="39.4" r="0.42" fill="#333" opacity="0.46"/>
<circle cx="268.4" cy="46.7" r="0.31" fill="#333" opacity="0.68"/>
<circle cx="267.4" cy="43.5" r="0.38" fill="#333" opacity="0.61"/>
<circle cx="268.2" cy="47.0" r="0.30" fill="#333" opacity="0.61"/>
<circle cx="266.0" cy="48.3" r="0.29" fill="#333" opacity="0.39"/>
<circle cx="273.1" cy="38.4" r="0.34" fill="#333" opacity="0.31"/>
<circle cx="273.5" cy="45.2" r="0.38" fill="#333" opacity="0.39"/>
<circle cx="266.5" cy="47.8" r="0.33" fill="#333" opacity="0.58"/>
<circle cx="270.0" cy="46.4" r="0.35" fill="#333" opacity="0.66"/>
<circle cx="274.6" cy="44.0" r="0.39" fill="#333" opacity="0.65"/>
<circle cx="261.1" cy="50.8" r="0.38" fill="#333" opacity="0.67"/>
<circle cx="276.8" cy="38.9" r="0.43" fill="#333" opacity="0.37"/>
<circle cx="280.9" cy="38.8" r="0.41" fill="#333" opacity="0.44"/>
<circle cx="264.3" cy="44.3" r="0.41" fill="#333" opacity="0.57"/>
<circle cx="277.3" cy="43.0" r="0.42" fill="#333" opacity="0.35"/>
<circle cx="267.8" cy="44.6" r="0.34" fill="#333" opacity="0.59"/>
<circle cx="260.8" cy="46.4" r="0.44" fill="#333" opacity="0.59"/>
<circle cx="265.3" cy="47.6" r="0.29" fill="#333" opacity="0.54"/>
<circle cx="270.7" cy="46.9" r="0.30" fill="#333" opacity="0.52"/>
<circle cx="271.6" cy="43.8" r="0.42" fill="#333" opacity="0.35"/>
<circle cx="274.7" cy="46.5" r="0.44" fill="#333" opacity="0.57"/>
<circle cx="269.5" cy="45.6" r="0.32" fill="#333" opacity="0.38"/>
<circle cx="268.1" cy="43.7" r="0.36" fill="#333" opacity="0.64"/>
<circle cx="266.8" cy="45.1" r="0.38" fill="#333" opacity="0.35"/>
<circle cx="265.6" cy="46.4" r="0.28" fill="#333" opacity="0.34"/>
<circle cx="269.7" cy="45.9" r="0.42" fill="#333" opacity="0.37"/>
<circle cx="276.6" cy="47.0" r="0.37" fill="#333" opacity="0.42"/>
<circle cx="269.0" cy="45.1" r="0.40" fill="#333" opacity="0.45"/>
<circle cx="272.4" cy="42.3" r="0.30" fill="#333" opacity="0.65"/>
<circle cx="275.9" cy="44.1" r="0.37" fill="#333" opacity="0.58"/>
<circle cx="272.1" cy="47.0" r="0.42" fill="#333" opacity="0.68"/>
<circle cx="268.0" cy="45.3" r="0.28" fill="#333" opacity="0.44"/>
<circle cx="269.0" cy="44.9" r="0.31" fill="#333" opacity="0.50"/>
<circle cx="265.5" cy="46.8" r="0.43" fill="#333" opacity="0.62"/>
</g>
<rect x="229.0" y="36.3" width="77.90" height="77.70" fill="none" stroke="#0a0a0a" stroke-width="1.1"/>
<line x1="228.80" y1="36.30" x2="228.80" y2="114.00" stroke="#0a0a0a" stroke-width="1.5" />
<line x1="229.00" y1="114.10" x2="306.90" y2="114.10" stroke="#0a0a0a" stroke-width="1.3" />
<line x1="256.90" y1="36.30" x2="256.90" y2="114.00" stroke="#4a4a4a" stroke-width="0.75" />
<line x1="229.00" y1="82.50" x2="306.90" y2="82.50" stroke="#4a4a4a" stroke-width="0.75" />
<line x1="225.40" y1="109.00" x2="229.00" y2="109.00" stroke="#0a0a0a" stroke-width="1.0" />
<line x1="226.90" y1="101.87" x2="229.00" y2="101.87" stroke="#0a0a0a" stroke-width="0.8" />
<line x1="226.90" y1="97.69" x2="229.00" y2="97.69" stroke="#0a0a0a" stroke-width="0.8" />
<line x1="226.90" y1="94.73" x2="229.00" y2="94.73" stroke="#0a0a0a" stroke-width="0.8" />
<line x1="226.90" y1="92.43" x2="229.00" y2="92.43" stroke="#0a0a0a" stroke-width="0.8" />
<line x1="226.90" y1="90.56" x2="229.00" y2="90.56" stroke="#0a0a0a" stroke-width="0.8" />
<line x1="226.90" y1="88.97" x2="229.00" y2="88.97" stroke="#0a0a0a" stroke-width="0.8" />
<line x1="226.90" y1="87.60" x2="229.00" y2="87.60" stroke="#0a0a0a" stroke-width="0.8" />
<line x1="226.90" y1="86.38" x2="229.00" y2="86.38" stroke="#0a0a0a" stroke-width="0.8" />
<line x1="225.40" y1="85.30" x2="229.00" y2="85.30" stroke="#0a0a0a" stroke-width="1.0" />
<line x1="226.90" y1="78.17" x2="229.00" y2="78.17" stroke="#0a0a0a" stroke-width="0.8" />
<line x1="226.90" y1="73.99" x2="229.00" y2="73.99" stroke="#0a0a0a" stroke-width="0.8" />
<line x1="226.90" y1="71.03" x2="229.00" y2="71.03" stroke="#0a0a0a" stroke-width="0.8" />
<line x1="226.90" y1="68.73" x2="229.00" y2="68.73" stroke="#0a0a0a" stroke-width="0.8" />
<line x1="226.90" y1="66.86" x2="229.00" y2="66.86" stroke="#0a0a0a" stroke-width="0.8" />
<line x1="226.90" y1="65.27" x2="229.00" y2="65.27" stroke="#0a0a0a" stroke-width="0.8" />
<line x1="226.90" y1="63.90" x2="229.00" y2="63.90" stroke="#0a0a0a" stroke-width="0.8" />
<line x1="226.90" y1="62.68" x2="229.00" y2="62.68" stroke="#0a0a0a" stroke-width="0.8" />
<line x1="225.40" y1="61.60" x2="229.00" y2="61.60" stroke="#0a0a0a" stroke-width="1.0" />
<line x1="226.90" y1="54.47" x2="229.00" y2="54.47" stroke="#0a0a0a" stroke-width="0.8" />
<line x1="226.90" y1="50.29" x2="229.00" y2="50.29" stroke="#0a0a0a" stroke-width="0.8" />
<line x1="226.90" y1="47.33" x2="229.00" y2="47.33" stroke="#0a0a0a" stroke-width="0.8" />
<line x1="226.90" y1="45.03" x2="229.00" y2="45.03" stroke="#0a0a0a" stroke-width="0.8" />
<line x1="226.90" y1="43.16" x2="229.00" y2="43.16" stroke="#0a0a0a" stroke-width="0.8" />
<line x1="226.90" y1="41.57" x2="229.00" y2="41.57" stroke="#0a0a0a" stroke-width="0.8" />
<line x1="226.90" y1="40.20" x2="229.00" y2="40.20" stroke="#0a0a0a" stroke-width="0.8" />
<line x1="226.90" y1="38.98" x2="229.00" y2="38.98" stroke="#0a0a0a" stroke-width="0.8" />
<line x1="225.40" y1="37.90" x2="229.00" y2="37.90" stroke="#0a0a0a" stroke-width="1.0" />
<line x1="233.60" y1="114.00" x2="233.60" y2="117.60" stroke="#0a0a0a" stroke-width="1.0" />
<line x1="240.70" y1="114.00" x2="240.70" y2="116.10" stroke="#0a0a0a" stroke-width="0.8" />
<line x1="244.86" y1="114.00" x2="244.86" y2="116.10" stroke="#0a0a0a" stroke-width="0.8" />
<line x1="247.81" y1="114.00" x2="247.81" y2="116.10" stroke="#0a0a0a" stroke-width="0.8" />
<line x1="250.10" y1="114.00" x2="250.10" y2="116.10" stroke="#0a0a0a" stroke-width="0.8" />
<line x1="251.96" y1="114.00" x2="251.96" y2="116.10" stroke="#0a0a0a" stroke-width="0.8" />
<line x1="253.54" y1="114.00" x2="253.54" y2="116.10" stroke="#0a0a0a" stroke-width="0.8" />
<line x1="254.91" y1="114.00" x2="254.91" y2="116.10" stroke="#0a0a0a" stroke-width="0.8" />
<line x1="256.12" y1="114.00" x2="256.12" y2="116.10" stroke="#0a0a0a" stroke-width="0.8" />
<line x1="257.20" y1="114.00" x2="257.20" y2="117.60" stroke="#0a0a0a" stroke-width="1.0" />
<line x1="264.30" y1="114.00" x2="264.30" y2="116.10" stroke="#0a0a0a" stroke-width="0.8" />
<line x1="268.46" y1="114.00" x2="268.46" y2="116.10" stroke="#0a0a0a" stroke-width="0.8" />
<line x1="271.41" y1="114.00" x2="271.41" y2="116.10" stroke="#0a0a0a" stroke-width="0.8" />
<line x1="273.70" y1="114.00" x2="273.70" y2="116.10" stroke="#0a0a0a" stroke-width="0.8" />
<line x1="275.56" y1="114.00" x2="275.56" y2="116.10" stroke="#0a0a0a" stroke-width="0.8" />
<line x1="277.14" y1="114.00" x2="277.14" y2="116.10" stroke="#0a0a0a" stroke-width="0.8" />
<line x1="278.51" y1="114.00" x2="278.51" y2="116.10" stroke="#0a0a0a" stroke-width="0.8" />
<line x1="279.72" y1="114.00" x2="279.72" y2="116.10" stroke="#0a0a0a" stroke-width="0.8" />
<line x1="280.80" y1="114.00" x2="280.80" y2="117.60" stroke="#0a0a0a" stroke-width="1.0" />
<line x1="287.90" y1="114.00" x2="287.90" y2="116.10" stroke="#0a0a0a" stroke-width="0.8" />
<line x1="292.06" y1="114.00" x2="292.06" y2="116.10" stroke="#0a0a0a" stroke-width="0.8" />
<line x1="295.01" y1="114.00" x2="295.01" y2="116.10" stroke="#0a0a0a" stroke-width="0.8" />
<line x1="297.30" y1="114.00" x2="297.30" y2="116.10" stroke="#0a0a0a" stroke-width="0.8" />
<line x1="299.16" y1="114.00" x2="299.16" y2="116.10" stroke="#0a0a0a" stroke-width="0.8" />
<line x1="300.74" y1="114.00" x2="300.74" y2="116.10" stroke="#0a0a0a" stroke-width="0.8" />
<line x1="302.11" y1="114.00" x2="302.11" y2="116.10" stroke="#0a0a0a" stroke-width="0.8" />
<line x1="303.32" y1="114.00" x2="303.32" y2="116.10" stroke="#0a0a0a" stroke-width="0.8" />
<line x1="304.40" y1="114.00" x2="304.40" y2="117.60" stroke="#0a0a0a" stroke-width="1.0" />
<rect x="226.2" y="92.4" width="2.8" height="2.6" fill="#111"/>
<rect x="246.6" y="114.0" width="3.4" height="2.0" fill="#111"/>
<text x="232.50" y="47.50" font-size="7.2" textLength="19.40" lengthAdjust="spacingAndGlyphs" fill="#1c1c1c" stroke="#1c1c1c" stroke-width="0.28">29.3%</text>
<text x="280.00" y="47.50" font-size="7.2" textLength="18.80" lengthAdjust="spacingAndGlyphs" fill="#1c1c1c" stroke="#1c1c1c" stroke-width="0.28">17.4%</text>
<text x="233.10" y="109.50" font-size="7.2" textLength="19.20" lengthAdjust="spacingAndGlyphs" fill="#1c1c1c" stroke="#1c1c1c" stroke-width="0.28">45.7%</text>
<text x="283.50" y="109.80" font-size="7.2" textLength="15.20" lengthAdjust="spacingAndGlyphs" fill="#1c1c1c" stroke="#1c1c1c" stroke-width="0.28">7.6%</text>
<text x="221.00" y="85.70" font-size="9" textLength="22.00" lengthAdjust="spacingAndGlyphs" transform="rotate(-90 221.00 85.70)" fill="#1c1c1c" stroke="#1c1c1c" stroke-width="0.28">CD80</text>
<g clip-path="url(#cF2)">
<ellipse cx="263.2" cy="190.8" rx="12.6" ry="18.2" fill="#ececec" transform="rotate(10 263.2 190.8)" filter="url(#b05)"/>
<ellipse cx="264.4" cy="188.4" rx="7.4" ry="11.2" fill="#fff" transform="rotate(6 264.4 188.4)" filter="url(#b05)"/>
<path d="M254.5 176.5C250.8 183 248.6 193 249.6 201C250.4 207 254 209.6 259 209.4" fill="none" stroke="#b0b0b0" stroke-width="1.6" filter="url(#b05)" stroke-linecap="round" opacity="0.85"/>
<ellipse cx="264.4" cy="189.0" rx="6.2" ry="9.4" fill="none" stroke="#b4b4b4" stroke-width="0.5"/>
<ellipse cx="264.4" cy="189.8" rx="4.9" ry="7.5" fill="none" stroke="#b0b0b0" stroke-width="0.5"/>
<ellipse cx="264.4" cy="190.6" rx="3.6" ry="5.6" fill="none" stroke="#acacac" stroke-width="0.5"/>
<ellipse cx="264.4" cy="191.4" rx="2.3" ry="3.7" fill="none" stroke="#b4b4b4" stroke-width="0.5"/>
<ellipse cx="252.6" cy="201.2" rx="3.4" ry="5.2" fill="#949494" filter="url(#b1)" opacity="0.85"/>
<ellipse cx="252.2" cy="201.8" rx="1.7" ry="3.0" fill="#7a7a7a" filter="url(#b05)" opacity="0.7"/>
<circle cx="253.4" cy="201.0" r="0.7" fill="#fff" opacity="0.9"/>
<circle cx="256.5" cy="180.4" r="0.49" fill="#333" opacity="0.65"/>
<circle cx="277.5" cy="187.9" r="0.43" fill="#333" opacity="0.89"/>
<circle cx="276.6" cy="195.2" r="0.39" fill="#333" opacity="0.90"/>
<circle cx="276.7" cy="193.4" r="0.42" fill="#333" opacity="0.68"/>
<circle cx="274.8" cy="193.2" r="0.35" fill="#333" opacity="0.74"/>
<circle cx="274.2" cy="176.8" r="0.55" fill="#333" opacity="0.47"/>
<circle cx="260.6" cy="172.4" r="0.40" fill="#333" opacity="0.70"/>
<circle cx="267.1" cy="172.8" r="0.54" fill="#333" opacity="0.95"/>
<circle cx="252.9" cy="177.0" r="0.52" fill="#333" opacity="0.84"/>
<circle cx="274.0" cy="195.0" r="0.41" fill="#333" opacity="0.85"/>
<circle cx="267.2" cy="207.4" r="0.41" fill="#333" opacity="0.83"/>
<circle cx="269.8" cy="202.4" r="0.42" fill="#333" opacity="0.73"/>
<circle cx="276.1" cy="181.4" r="0.41" fill="#333" opacity="0.94"/>
<circle cx="275.2" cy="186.7" r="0.40" fill="#333" opacity="0.62"/>
<circle cx="263.6" cy="173.8" r="0.44" fill="#333" opacity="0.67"/>
<circle cx="275.6" cy="192.6" r="0.36" fill="#333" opacity="0.60"/>
<circle cx="271.0" cy="173.5" r="0.54" fill="#333" opacity="0.62"/>
<circle cx="261.4" cy="208.6" r="0.39" fill="#333" opacity="0.74"/>
<circle cx="256.0" cy="210.1" r="0.44" fill="#333" opacity="0.88"/>
<circle cx="253.6" cy="176.6" r="0.41" fill="#333" opacity="0.58"/>
<circle cx="255.5" cy="179.6" r="0.49" fill="#333" opacity="0.56"/>
<circle cx="275.3" cy="182.4" r="0.52" fill="#333" opacity="0.77"/>
<circle cx="264.1" cy="168.9" r="0.47" fill="#333" opacity="0.49"/>
<circle cx="269.8" cy="205.0" r="0.38" fill="#333" opacity="0.54"/>
<circle cx="277.6" cy="188.1" r="0.53" fill="#333" opacity="0.56"/>
<circle cx="272.2" cy="174.0" r="0.43" fill="#333" opacity="0.79"/>
<circle cx="274.1" cy="177.4" r="0.36" fill="#333" opacity="0.76"/>
<circle cx="270.5" cy="176.7" r="0.40" fill="#333" opacity="0.68"/>
<circle cx="256.2" cy="178.2" r="0.55" fill="#333" opacity="0.48"/>
<circle cx="275.1" cy="193.4" r="0.37" fill="#333" opacity="0.53"/>
<circle cx="261.1" cy="172.8" r="0.51" fill="#333" opacity="0.66"/>
<circle cx="274.5" cy="188.7" r="0.48" fill="#333" opacity="0.75"/>
<circle cx="272.3" cy="175.3" r="0.49" fill="#333" opacity="0.83"/>
<circle cx="269.5" cy="206.9" r="0.55" fill="#333" opacity="0.68"/>
<circle cx="266.2" cy="173.5" r="0.38" fill="#333" opacity="0.45"/>
<circle cx="274.5" cy="183.3" r="0.42" fill="#333" opacity="0.94"/>
<circle cx="266.7" cy="172.1" r="0.36" fill="#333" opacity="0.52"/>
<circle cx="254.5" cy="176.6" r="0.39" fill="#333" opacity="0.92"/>
<circle cx="274.2" cy="179.2" r="0.50" fill="#333" opacity="0.91"/>
<circle cx="264.8" cy="173.5" r="0.40" fill="#333" opacity="0.94"/>
<circle cx="275.2" cy="186.0" r="0.51" fill="#333" opacity="0.68"/>
<circle cx="272.7" cy="175.7" r="0.50" fill="#333" opacity="0.48"/>
<circle cx="272.3" cy="198.6" r="0.36" fill="#333" opacity="0.73"/>
<circle cx="278.0" cy="179.4" r="0.48" fill="#333" opacity="0.56"/>
<circle cx="268.0" cy="174.9" r="0.40" fill="#333" opacity="0.55"/>
<circle cx="270.3" cy="202.6" r="0.55" fill="#333" opacity="0.56"/>
<circle cx="277.6" cy="194.3" r="0.52" fill="#333" opacity="0.58"/>
<circle cx="272.0" cy="202.1" r="0.42" fill="#333" opacity="0.69"/>
<circle cx="265.2" cy="210.6" r="0.47" fill="#333" opacity="0.68"/>
<circle cx="276.6" cy="191.8" r="0.53" fill="#333" opacity="0.63"/>
<circle cx="270.9" cy="203.9" r="0.52" fill="#333" opacity="0.95"/>
<circle cx="271.5" cy="175.0" r="0.54" fill="#333" opacity="0.45"/>
<circle cx="264.1" cy="210.9" r="0.37" fill="#333" opacity="0.53"/>
<circle cx="275.0" cy="199.9" r="0.53" fill="#333" opacity="0.81"/>
<circle cx="264.9" cy="208.4" r="0.40" fill="#333" opacity="0.85"/>
<circle cx="275.3" cy="200.0" r="0.40" fill="#333" opacity="0.67"/>
<circle cx="263.3" cy="175.3" r="0.41" fill="#333" opacity="0.89"/>
<circle cx="258.8" cy="174.1" r="0.44" fill="#333" opacity="0.54"/>
<circle cx="275.2" cy="201.3" r="0.45" fill="#333" opacity="0.51"/>
<circle cx="269.9" cy="177.8" r="0.42" fill="#333" opacity="0.56"/>
<circle cx="260.7" cy="206.9" r="0.40" fill="#333" opacity="0.54"/>
<circle cx="269.4" cy="173.8" r="0.45" fill="#333" opacity="0.65"/>
<circle cx="275.8" cy="191.1" r="0.49" fill="#333" opacity="0.78"/>
<circle cx="273.9" cy="189.4" r="0.55" fill="#333" opacity="0.89"/>
<circle cx="271.7" cy="202.1" r="0.43" fill="#333" opacity="0.94"/>
<circle cx="273.3" cy="180.7" r="0.38" fill="#333" opacity="0.95"/>
<circle cx="251.4" cy="177.4" r="0.40" fill="#333" opacity="0.76"/>
<circle cx="274.1" cy="180.1" r="0.37" fill="#333" opacity="0.87"/>
<circle cx="270.5" cy="204.6" r="0.49" fill="#333" opacity="0.61"/>
<circle cx="273.5" cy="196.5" r="0.54" fill="#333" opacity="0.45"/>
<circle cx="272.8" cy="201.4" r="0.47" fill="#333" opacity="0.95"/>
<circle cx="265.3" cy="171.1" r="0.43" fill="#333" opacity="0.81"/>
<circle cx="272.5" cy="179.8" r="0.49" fill="#333" opacity="0.61"/>
<circle cx="274.0" cy="195.5" r="0.47" fill="#333" opacity="0.58"/>
<circle cx="260.5" cy="209.3" r="0.45" fill="#333" opacity="0.69"/>
<circle cx="268.3" cy="175.4" r="0.46" fill="#333" opacity="0.71"/>
<circle cx="276.6" cy="188.0" r="0.38" fill="#333" opacity="0.86"/>
<circle cx="274.0" cy="182.3" r="0.53" fill="#333" opacity="0.88"/>
<circle cx="253.6" cy="179.4" r="0.51" fill="#333" opacity="0.51"/>
<circle cx="261.7" cy="173.9" r="0.42" fill="#333" opacity="0.85"/>
<circle cx="275.6" cy="188.7" r="0.43" fill="#333" opacity="0.95"/>
<circle cx="271.8" cy="200.4" r="0.51" fill="#333" opacity="0.83"/>
<circle cx="260.8" cy="172.0" r="0.45" fill="#333" opacity="0.57"/>
<circle cx="273.1" cy="180.0" r="0.35" fill="#333" opacity="0.55"/>
<circle cx="276.8" cy="192.2" r="0.49" fill="#333" opacity="0.59"/>
<circle cx="272.3" cy="178.9" r="0.37" fill="#333" opacity="0.77"/>
<circle cx="266.5" cy="209.4" r="0.51" fill="#333" opacity="0.76"/>
<circle cx="275.4" cy="179.2" r="0.42" fill="#333" opacity="0.81"/>
<circle cx="268.8" cy="176.0" r="0.51" fill="#333" opacity="0.63"/>
<circle cx="271.4" cy="177.9" r="0.39" fill="#333" opacity="0.94"/>
<circle cx="271.4" cy="202.5" r="0.42" fill="#333" opacity="0.49"/>
<circle cx="269.9" cy="204.7" r="0.45" fill="#333" opacity="0.90"/>
<circle cx="273.2" cy="203.8" r="0.44" fill="#333" opacity="0.68"/>
<circle cx="265.7" cy="208.1" r="0.53" fill="#333" opacity="0.67"/>
<circle cx="273.2" cy="186.3" r="0.48" fill="#333" opacity="0.82"/>
<circle cx="276.9" cy="181.2" r="0.46" fill="#333" opacity="0.83"/>
<circle cx="271.5" cy="204.9" r="0.37" fill="#333" opacity="0.86"/>
<circle cx="260.7" cy="176.2" r="0.46" fill="#333" opacity="0.48"/>
<circle cx="273.4" cy="197.4" r="0.36" fill="#333" opacity="0.80"/>
<circle cx="270.5" cy="179.0" r="0.51" fill="#333" opacity="0.89"/>
<circle cx="260.3" cy="175.0" r="0.35" fill="#333" opacity="0.94"/>
<circle cx="269.5" cy="175.2" r="0.40" fill="#333" opacity="0.88"/>
<circle cx="274.4" cy="190.8" r="0.36" fill="#333" opacity="0.60"/>
<circle cx="266.5" cy="205.3" r="0.40" fill="#333" opacity="0.55"/>
<circle cx="254.6" cy="176.7" r="0.44" fill="#333" opacity="0.69"/>
<circle cx="274.0" cy="194.8" r="0.39" fill="#333" opacity="0.91"/>
<circle cx="277.2" cy="191.3" r="0.46" fill="#333" opacity="0.65"/>
<circle cx="275.4" cy="192.6" r="0.51" fill="#333" opacity="0.60"/>
<circle cx="273.6" cy="198.9" r="0.44" fill="#333" opacity="0.92"/>
<circle cx="276.0" cy="183.0" r="0.44" fill="#333" opacity="0.77"/>
<circle cx="256.3" cy="176.8" r="0.47" fill="#333" opacity="0.54"/>
<circle cx="259.4" cy="207.9" r="0.45" fill="#333" opacity="0.79"/>
<circle cx="273.8" cy="199.7" r="0.52" fill="#333" opacity="0.52"/>
<circle cx="262.4" cy="209.6" r="0.37" fill="#333" opacity="0.84"/>
<circle cx="258.1" cy="210.0" r="0.40" fill="#333" opacity="0.90"/>
<circle cx="274.0" cy="199.8" r="0.49" fill="#333" opacity="0.47"/>
<circle cx="267.1" cy="208.2" r="0.47" fill="#333" opacity="0.61"/>
<circle cx="277.8" cy="193.9" r="0.41" fill="#333" opacity="0.87"/>
<circle cx="262.9" cy="169.3" r="0.43" fill="#333" opacity="0.47"/>
<circle cx="273.5" cy="178.4" r="0.46" fill="#333" opacity="0.50"/>
<circle cx="275.6" cy="183.1" r="0.49" fill="#333" opacity="0.51"/>
<circle cx="270.2" cy="209.2" r="0.55" fill="#333" opacity="0.92"/>
<circle cx="275.8" cy="190.2" r="0.50" fill="#333" opacity="0.70"/>
<circle cx="262.8" cy="209.9" r="0.52" fill="#333" opacity="0.75"/>
<circle cx="276.8" cy="190.3" r="0.40" fill="#333" opacity="0.90"/>
<circle cx="267.3" cy="210.9" r="0.36" fill="#333" opacity="0.75"/>
<circle cx="256.9" cy="211.5" r="0.48" fill="#333" opacity="0.48"/>
<circle cx="271.4" cy="176.9" r="0.50" fill="#333" opacity="0.54"/>
<circle cx="269.8" cy="205.6" r="0.46" fill="#333" opacity="0.50"/>
<circle cx="276.5" cy="188.6" r="0.44" fill="#333" opacity="0.47"/>
<circle cx="278.0" cy="189.3" r="0.38" fill="#333" opacity="0.74"/>
<circle cx="271.6" cy="179.3" r="0.38" fill="#333" opacity="0.53"/>
<circle cx="259.2" cy="211.4" r="0.52" fill="#333" opacity="0.69"/>
<circle cx="264.0" cy="175.1" r="0.37" fill="#333" opacity="0.70"/>
<circle cx="277.3" cy="190.7" r="0.38" fill="#333" opacity="0.72"/>
<circle cx="275.5" cy="188.3" r="0.43" fill="#333" opacity="0.55"/>
<circle cx="260.2" cy="176.9" r="0.45" fill="#333" opacity="0.90"/>
<circle cx="256.1" cy="178.4" r="0.51" fill="#333" opacity="0.74"/>
<circle cx="273.9" cy="202.0" r="0.38" fill="#333" opacity="0.58"/>
<circle cx="253.8" cy="179.3" r="0.41" fill="#333" opacity="0.90"/>
<circle cx="256.7" cy="175.0" r="0.47" fill="#333" opacity="0.84"/>
<circle cx="274.0" cy="201.3" r="0.47" fill="#333" opacity="0.94"/>
<circle cx="253.9" cy="176.1" r="0.51" fill="#333" opacity="0.62"/>
<circle cx="265.4" cy="206.9" r="0.35" fill="#333" opacity="0.92"/>
<circle cx="274.4" cy="181.6" r="0.40" fill="#333" opacity="0.82"/>
<circle cx="274.7" cy="200.0" r="0.38" fill="#333" opacity="0.55"/>
<circle cx="264.1" cy="176.3" r="0.55" fill="#333" opacity="0.85"/>
<circle cx="273.3" cy="185.8" r="0.53" fill="#333" opacity="0.83"/>
<circle cx="275.6" cy="198.2" r="0.52" fill="#333" opacity="0.84"/>
<circle cx="257.8" cy="173.9" r="0.38" fill="#333" opacity="0.93"/>
<circle cx="274.1" cy="197.7" r="0.52" fill="#333" opacity="0.92"/>
<circle cx="263.0" cy="206.0" r="0.51" fill="#333" opacity="0.75"/>
<circle cx="276.6" cy="180.5" r="0.52" fill="#333" opacity="0.60"/>
<circle cx="255.8" cy="207.9" r="0.37" fill="#333" opacity="0.93"/>
<circle cx="269.9" cy="207.9" r="0.40" fill="#333" opacity="0.55"/>
<circle cx="275.9" cy="186.0" r="0.53" fill="#333" opacity="0.79"/>
<circle cx="270.9" cy="202.5" r="0.51" fill="#333" opacity="0.79"/>
<circle cx="261.3" cy="207.6" r="0.37" fill="#333" opacity="0.78"/>
<circle cx="266.3" cy="208.8" r="0.52" fill="#333" opacity="0.85"/>
<circle cx="253.8" cy="179.6" r="0.37" fill="#333" opacity="0.86"/>
<circle cx="273.8" cy="180.7" r="0.42" fill="#333" opacity="0.56"/>
<circle cx="274.4" cy="176.0" r="0.41" fill="#333" opacity="0.49"/>
<circle cx="268.9" cy="172.3" r="0.48" fill="#333" opacity="0.85"/>
<circle cx="259.4" cy="173.6" r="0.51" fill="#333" opacity="0.54"/>
<circle cx="270.8" cy="173.4" r="0.39" fill="#333" opacity="0.89"/>
<circle cx="276.6" cy="193.6" r="0.45" fill="#333" opacity="0.93"/>
<circle cx="277.1" cy="187.5" r="0.52" fill="#333" opacity="0.53"/>
<circle cx="277.1" cy="189.0" r="0.54" fill="#333" opacity="0.68"/>
<circle cx="268.8" cy="207.4" r="0.37" fill="#333" opacity="0.73"/>
<circle cx="264.4" cy="207.8" r="0.54" fill="#333" opacity="0.90"/>
<circle cx="276.2" cy="199.1" r="0.44" fill="#333" opacity="0.93"/>
<circle cx="272.4" cy="176.4" r="0.43" fill="#333" opacity="0.71"/>
<circle cx="275.5" cy="197.8" r="0.42" fill="#333" opacity="0.94"/>
<circle cx="257.4" cy="174.8" r="0.46" fill="#333" opacity="0.67"/>
<circle cx="273.3" cy="201.6" r="0.50" fill="#333" opacity="0.47"/>
<circle cx="274.6" cy="178.9" r="0.53" fill="#333" opacity="0.52"/>
<circle cx="275.4" cy="192.8" r="0.43" fill="#333" opacity="0.82"/>
<circle cx="274.4" cy="199.1" r="0.41" fill="#333" opacity="0.72"/>
<circle cx="277.3" cy="181.6" r="0.51" fill="#333" opacity="0.79"/>
<circle cx="276.5" cy="178.7" r="0.49" fill="#333" opacity="0.59"/>
<circle cx="259.7" cy="171.8" r="0.51" fill="#333" opacity="0.62"/>
<circle cx="257.8" cy="173.3" r="0.38" fill="#333" opacity="0.82"/>
<circle cx="262.6" cy="173.3" r="0.41" fill="#333" opacity="0.64"/>
<circle cx="259.9" cy="208.3" r="0.41" fill="#333" opacity="0.92"/>
<circle cx="263.9" cy="174.2" r="0.37" fill="#333" opacity="0.58"/>
<circle cx="271.7" cy="182.7" r="0.40" fill="#333" opacity="0.55"/>
<circle cx="260.1" cy="209.8" r="0.48" fill="#333" opacity="0.84"/>
<circle cx="273.1" cy="177.7" r="0.44" fill="#333" opacity="0.73"/>
<circle cx="274.2" cy="197.2" r="0.42" fill="#333" opacity="0.91"/>
<circle cx="275.6" cy="191.2" r="0.40" fill="#333" opacity="0.84"/>
<circle cx="256.5" cy="175.9" r="0.42" fill="#333" opacity="0.92"/>
<circle cx="269.0" cy="174.2" r="0.46" fill="#333" opacity="0.83"/>
<circle cx="271.6" cy="200.3" r="0.37" fill="#333" opacity="0.60"/>
<circle cx="276.9" cy="196.3" r="0.49" fill="#333" opacity="0.84"/>
<circle cx="276.9" cy="179.3" r="0.42" fill="#333" opacity="0.65"/>
<circle cx="268.4" cy="206.6" r="0.52" fill="#333" opacity="0.72"/>
<circle cx="274.6" cy="185.7" r="0.38" fill="#333" opacity="0.62"/>
<circle cx="255.2" cy="177.2" r="0.52" fill="#333" opacity="0.78"/>
<circle cx="274.2" cy="193.5" r="0.40" fill="#333" opacity="0.87"/>
<circle cx="270.4" cy="204.4" r="0.48" fill="#333" opacity="0.83"/>
<circle cx="278.7" cy="185.2" r="0.50" fill="#333" opacity="0.86"/>
<circle cx="275.3" cy="196.5" r="0.49" fill="#333" opacity="0.80"/>
<circle cx="275.3" cy="195.2" r="0.47" fill="#333" opacity="0.86"/>
<circle cx="269.7" cy="174.9" r="0.37" fill="#333" opacity="0.79"/>
<circle cx="258.9" cy="207.0" r="0.49" fill="#333" opacity="0.49"/>
<circle cx="267.2" cy="207.3" r="0.48" fill="#333" opacity="0.52"/>
<circle cx="271.1" cy="174.5" r="0.46" fill="#333" opacity="0.85"/>
<circle cx="255.9" cy="177.1" r="0.39" fill="#333" opacity="0.76"/>
<circle cx="271.8" cy="178.7" r="0.39" fill="#333" opacity="0.85"/>
<circle cx="266.8" cy="170.4" r="0.46" fill="#333" opacity="0.47"/>
<circle cx="272.1" cy="204.9" r="0.43" fill="#333" opacity="0.48"/>
<circle cx="274.7" cy="193.9" r="0.43" fill="#333" opacity="0.71"/>
<circle cx="276.2" cy="196.1" r="0.55" fill="#333" opacity="0.85"/>
<circle cx="257.2" cy="212.5" r="0.36" fill="#333" opacity="0.69"/>
<circle cx="258.2" cy="174.4" r="0.49" fill="#333" opacity="0.68"/>
<circle cx="273.4" cy="178.5" r="0.41" fill="#333" opacity="0.55"/>
<circle cx="270.5" cy="202.2" r="0.39" fill="#333" opacity="0.80"/>
<circle cx="264.3" cy="174.6" r="0.49" fill="#333" opacity="0.94"/>
<circle cx="274.8" cy="201.9" r="0.49" fill="#333" opacity="0.81"/>
<circle cx="256.6" cy="176.7" r="0.52" fill="#333" opacity="0.81"/>
<circle cx="274.9" cy="197.2" r="0.38" fill="#333" opacity="0.77"/>
<circle cx="257.2" cy="208.4" r="0.39" fill="#333" opacity="0.63"/>
<circle cx="264.0" cy="207.3" r="0.37" fill="#333" opacity="0.50"/>
<circle cx="262.0" cy="171.6" r="0.55" fill="#333" opacity="0.91"/>
<circle cx="266.8" cy="205.8" r="0.38" fill="#333" opacity="0.50"/>
<circle cx="274.9" cy="191.4" r="0.40" fill="#333" opacity="0.46"/>
<circle cx="261.9" cy="205.4" r="0.55" fill="#333" opacity="0.67"/>
<circle cx="270.2" cy="204.0" r="0.52" fill="#333" opacity="0.52"/>
<circle cx="254.9" cy="181.1" r="0.43" fill="#333" opacity="0.45"/>
<circle cx="268.0" cy="205.2" r="0.36" fill="#333" opacity="0.89"/>
<circle cx="277.3" cy="190.0" r="0.47" fill="#333" opacity="0.89"/>
<circle cx="275.3" cy="185.3" r="0.40" fill="#333" opacity="0.90"/>
<circle cx="275.9" cy="180.6" r="0.38" fill="#333" opacity="0.55"/>
<circle cx="273.9" cy="183.1" r="0.49" fill="#333" opacity="0.67"/>
<circle cx="256.7" cy="175.8" r="0.44" fill="#333" opacity="0.65"/>
<circle cx="273.8" cy="197.5" r="0.48" fill="#333" opacity="0.80"/>
<circle cx="277.9" cy="187.8" r="0.47" fill="#333" opacity="0.48"/>
<circle cx="268.4" cy="172.9" r="0.43" fill="#333" opacity="0.84"/>
<circle cx="266.4" cy="204.8" r="0.36" fill="#333" opacity="0.50"/>
<circle cx="258.5" cy="207.9" r="0.36" fill="#333" opacity="0.57"/>
<circle cx="261.8" cy="211.1" r="0.54" fill="#333" opacity="0.77"/>
<circle cx="262.0" cy="209.8" r="0.35" fill="#333" opacity="0.83"/>
<circle cx="261.0" cy="174.3" r="0.39" fill="#333" opacity="0.85"/>
<circle cx="261.6" cy="173.0" r="0.51" fill="#333" opacity="0.89"/>
<circle cx="265.2" cy="208.9" r="0.46" fill="#333" opacity="0.86"/>
<circle cx="274.6" cy="185.9" r="0.51" fill="#333" opacity="0.49"/>
<circle cx="255.0" cy="176.6" r="0.43" fill="#333" opacity="0.45"/>
<circle cx="274.5" cy="203.2" r="0.51" fill="#333" opacity="0.68"/>
<circle cx="259.1" cy="173.2" r="0.44" fill="#333" opacity="0.51"/>
<circle cx="257.0" cy="207.9" r="0.37" fill="#333" opacity="0.82"/>
<circle cx="252.4" cy="183.1" r="0.42" fill="#333" opacity="0.39"/>
<circle cx="252.2" cy="186.8" r="0.55" fill="#333" opacity="0.53"/>
<circle cx="254.5" cy="205.4" r="0.49" fill="#333" opacity="0.48"/>
<circle cx="249.3" cy="192.4" r="0.47" fill="#333" opacity="0.49"/>
<circle cx="252.7" cy="180.1" r="0.53" fill="#333" opacity="0.55"/>
<circle cx="252.5" cy="187.2" r="0.52" fill="#333" opacity="0.43"/>
<circle cx="253.5" cy="184.9" r="0.44" fill="#333" opacity="0.51"/>
<circle cx="250.8" cy="200.2" r="0.41" fill="#333" opacity="0.33"/>
<circle cx="251.7" cy="194.1" r="0.54" fill="#333" opacity="0.53"/>
<circle cx="253.6" cy="183.7" r="0.40" fill="#333" opacity="0.37"/>
<circle cx="251.1" cy="195.2" r="0.53" fill="#333" opacity="0.58"/>
<circle cx="250.8" cy="195.6" r="0.53" fill="#333" opacity="0.54"/>
<circle cx="251.8" cy="193.0" r="0.41" fill="#333" opacity="0.49"/>
<circle cx="248.0" cy="195.7" r="0.38" fill="#333" opacity="0.46"/>
<circle cx="248.3" cy="188.1" r="0.43" fill="#333" opacity="0.57"/>
<circle cx="251.3" cy="187.5" r="0.39" fill="#333" opacity="0.39"/>
<circle cx="253.5" cy="182.2" r="0.49" fill="#333" opacity="0.60"/>
<circle cx="250.4" cy="201.8" r="0.49" fill="#333" opacity="0.52"/>
<circle cx="251.3" cy="186.7" r="0.36" fill="#333" opacity="0.51"/>
<circle cx="251.3" cy="203.0" r="0.48" fill="#333" opacity="0.48"/>
<circle cx="249.4" cy="187.6" r="0.41" fill="#333" opacity="0.32"/>
<circle cx="254.1" cy="203.9" r="0.38" fill="#333" opacity="0.33"/>
<circle cx="251.7" cy="192.6" r="0.40" fill="#333" opacity="0.53"/>
<circle cx="252.4" cy="201.7" r="0.43" fill="#333" opacity="0.51"/>
<circle cx="250.2" cy="193.7" r="0.54" fill="#333" opacity="0.40"/>
<circle cx="253.7" cy="184.3" r="0.40" fill="#333" opacity="0.56"/>
<circle cx="251.3" cy="183.9" r="0.35" fill="#333" opacity="0.36"/>
<circle cx="253.6" cy="183.4" r="0.47" fill="#333" opacity="0.50"/>
<circle cx="252.0" cy="201.5" r="0.55" fill="#333" opacity="0.41"/>
<circle cx="249.9" cy="188.3" r="0.36" fill="#333" opacity="0.30"/>
<circle cx="253.9" cy="185.3" r="0.42" fill="#333" opacity="0.52"/>
<circle cx="252.3" cy="201.5" r="0.42" fill="#333" opacity="0.46"/>
<circle cx="252.5" cy="204.6" r="0.41" fill="#333" opacity="0.41"/>
<circle cx="251.5" cy="186.3" r="0.39" fill="#333" opacity="0.42"/>
<circle cx="249.8" cy="195.4" r="0.52" fill="#333" opacity="0.32"/>
<circle cx="251.1" cy="187.7" r="0.36" fill="#333" opacity="0.43"/>
<circle cx="250.9" cy="203.1" r="0.37" fill="#333" opacity="0.34"/>
<circle cx="250.5" cy="193.9" r="0.44" fill="#333" opacity="0.34"/>
<circle cx="252.4" cy="204.7" r="0.54" fill="#333" opacity="0.47"/>
<circle cx="253.4" cy="205.4" r="0.46" fill="#333" opacity="0.56"/>
<circle cx="281.2" cy="170.1" r="0.50" fill="#333" opacity="0.60"/>
<circle cx="283.8" cy="181.8" r="0.38" fill="#333" opacity="0.48"/>
<circle cx="262.5" cy="177.3" r="0.48" fill="#333" opacity="0.39"/>
<circle cx="277.7" cy="184.8" r="0.46" fill="#333" opacity="0.31"/>
<circle cx="269.3" cy="178.7" r="0.36" fill="#333" opacity="0.33"/>
<circle cx="269.9" cy="190.0" r="0.48" fill="#333" opacity="0.38"/>
<circle cx="257.2" cy="181.8" r="0.37" fill="#333" opacity="0.33"/>
<circle cx="275.9" cy="177.5" r="0.37" fill="#333" opacity="0.70"/>
<circle cx="266.9" cy="180.6" r="0.46" fill="#333" opacity="0.80"/>
<circle cx="263.2" cy="172.8" r="0.51" fill="#333" opacity="0.60"/>
<circle cx="286.3" cy="183.8" r="0.50" fill="#333" opacity="0.35"/>
<circle cx="263.6" cy="178.1" r="0.51" fill="#333" opacity="0.54"/>
<circle cx="278.7" cy="174.3" r="0.36" fill="#333" opacity="0.71"/>
<circle cx="266.4" cy="176.8" r="0.49" fill="#333" opacity="0.51"/>
<circle cx="256.8" cy="181.4" r="0.34" fill="#333" opacity="0.78"/>
<circle cx="262.6" cy="176.9" r="0.47" fill="#333" opacity="0.63"/>
<circle cx="258.1" cy="179.2" r="0.52" fill="#333" opacity="0.32"/>
<circle cx="264.9" cy="174.5" r="0.33" fill="#333" opacity="0.37"/>
<circle cx="270.2" cy="161.8" r="0.32" fill="#333" opacity="0.69"/>
<circle cx="264.1" cy="165.3" r="0.45" fill="#333" opacity="0.36"/>
<circle cx="259.9" cy="188.6" r="0.35" fill="#333" opacity="0.40"/>
<circle cx="271.2" cy="179.7" r="0.44" fill="#333" opacity="0.67"/>
<circle cx="253.3" cy="172.7" r="0.51" fill="#333" opacity="0.50"/>
<circle cx="272.9" cy="177.3" r="0.52" fill="#333" opacity="0.54"/>
<circle cx="276.0" cy="175.9" r="0.40" fill="#333" opacity="0.44"/>
<circle cx="271.8" cy="178.6" r="0.37" fill="#333" opacity="0.84"/>
<circle cx="265.9" cy="168.8" r="0.52" fill="#333" opacity="0.69"/>
<circle cx="274.2" cy="172.5" r="0.36" fill="#333" opacity="0.40"/>
<circle cx="267.3" cy="175.8" r="0.35" fill="#333" opacity="0.49"/>
<circle cx="272.6" cy="173.8" r="0.47" fill="#333" opacity="0.33"/>
<circle cx="259.7" cy="179.8" r="0.43" fill="#333" opacity="0.67"/>
<circle cx="275.4" cy="172.2" r="0.33" fill="#333" opacity="0.54"/>
<circle cx="278.0" cy="173.4" r="0.48" fill="#333" opacity="0.62"/>
<circle cx="273.8" cy="186.5" r="0.41" fill="#333" opacity="0.78"/>
<circle cx="282.4" cy="196.0" r="0.44" fill="#333" opacity="0.49"/>
<circle cx="263.3" cy="179.0" r="0.40" fill="#333" opacity="0.82"/>
<circle cx="273.9" cy="173.6" r="0.49" fill="#333" opacity="0.80"/>
<circle cx="263.2" cy="180.9" r="0.43" fill="#333" opacity="0.38"/>
<circle cx="266.9" cy="175.6" r="0.36" fill="#333" opacity="0.51"/>
<circle cx="265.6" cy="179.8" r="0.46" fill="#333" opacity="0.30"/>
<circle cx="268.0" cy="176.4" r="0.48" fill="#333" opacity="0.73"/>
<circle cx="262.9" cy="174.9" r="0.42" fill="#333" opacity="0.30"/>
<circle cx="259.6" cy="181.0" r="0.48" fill="#333" opacity="0.53"/>
<circle cx="266.2" cy="173.7" r="0.45" fill="#333" opacity="0.61"/>
<circle cx="269.0" cy="179.4" r="0.47" fill="#333" opacity="0.52"/>
<circle cx="271.8" cy="174.6" r="0.51" fill="#333" opacity="0.83"/>
<circle cx="275.2" cy="180.3" r="0.51" fill="#333" opacity="0.64"/>
<circle cx="253.2" cy="174.1" r="0.38" fill="#333" opacity="0.51"/>
<circle cx="273.4" cy="176.7" r="0.37" fill="#333" opacity="0.80"/>
<circle cx="274.6" cy="181.9" r="0.48" fill="#333" opacity="0.73"/>
<circle cx="261.4" cy="180.2" r="0.48" fill="#333" opacity="0.84"/>
<circle cx="274.7" cy="168.8" r="0.46" fill="#333" opacity="0.48"/>
<circle cx="276.6" cy="162.2" r="0.47" fill="#333" opacity="0.44"/>
<circle cx="269.6" cy="190.8" r="0.44" fill="#333" opacity="0.39"/>
<circle cx="266.3" cy="178.1" r="0.49" fill="#333" opacity="0.57"/>
<circle cx="270.5" cy="174.3" r="0.38" fill="#333" opacity="0.81"/>
<circle cx="274.1" cy="175.4" r="0.34" fill="#333" opacity="0.81"/>
<circle cx="267.3" cy="192.4" r="0.47" fill="#333" opacity="0.38"/>
<circle cx="272.0" cy="170.7" r="0.47" fill="#333" opacity="0.62"/>
<circle cx="253.6" cy="178.1" r="0.50" fill="#333" opacity="0.62"/>
<circle cx="269.6" cy="167.6" r="0.41" fill="#333" opacity="0.81"/>
<circle cx="264.3" cy="177.2" r="0.34" fill="#333" opacity="0.73"/>
<circle cx="270.7" cy="184.9" r="0.34" fill="#333" opacity="0.45"/>
<circle cx="255.4" cy="174.1" r="0.34" fill="#333" opacity="0.78"/>
<circle cx="280.6" cy="163.7" r="0.41" fill="#333" opacity="0.70"/>
<circle cx="269.6" cy="178.4" r="0.37" fill="#333" opacity="0.70"/>
<circle cx="274.3" cy="170.0" r="0.45" fill="#333" opacity="0.35"/>
<circle cx="274.8" cy="183.3" r="0.42" fill="#333" opacity="0.70"/>
<circle cx="269.0" cy="180.8" r="0.36" fill="#333" opacity="0.66"/>
<circle cx="263.5" cy="183.3" r="0.38" fill="#333" opacity="0.50"/>
<circle cx="266.2" cy="174.8" r="0.50" fill="#333" opacity="0.82"/>
<circle cx="265.3" cy="168.6" r="0.52" fill="#333" opacity="0.53"/>
<circle cx="257.8" cy="180.9" r="0.43" fill="#333" opacity="0.74"/>
<circle cx="268.1" cy="175.7" r="0.47" fill="#333" opacity="0.55"/>
<circle cx="257.6" cy="180.7" r="0.49" fill="#333" opacity="0.52"/>
<circle cx="263.2" cy="169.1" r="0.51" fill="#333" opacity="0.56"/>
<circle cx="279.3" cy="187.7" r="0.34" fill="#333" opacity="0.71"/>
<circle cx="268.1" cy="172.1" r="0.35" fill="#333" opacity="0.67"/>
<circle cx="253.1" cy="187.1" r="0.33" fill="#333" opacity="0.84"/>
<circle cx="271.5" cy="181.7" r="0.43" fill="#333" opacity="0.71"/>
<circle cx="282.3" cy="169.5" r="0.35" fill="#333" opacity="0.65"/>
<circle cx="271.8" cy="185.5" r="0.40" fill="#333" opacity="0.44"/>
<circle cx="263.0" cy="184.9" r="0.48" fill="#333" opacity="0.32"/>
<circle cx="267.6" cy="173.4" r="0.42" fill="#333" opacity="0.35"/>
<circle cx="269.9" cy="180.2" r="0.49" fill="#333" opacity="0.79"/>
<circle cx="268.2" cy="178.1" r="0.33" fill="#333" opacity="0.56"/>
<circle cx="274.1" cy="179.7" r="0.41" fill="#333" opacity="0.70"/>
<circle cx="265.7" cy="178.3" r="0.47" fill="#333" opacity="0.49"/>
<circle cx="251.1" cy="173.7" r="0.51" fill="#333" opacity="0.40"/>
<circle cx="261.3" cy="175.6" r="0.35" fill="#333" opacity="0.75"/>
<circle cx="264.2" cy="171.1" r="0.34" fill="#333" opacity="0.40"/>
<circle cx="273.3" cy="181.4" r="0.42" fill="#333" opacity="0.48"/>
<circle cx="279.1" cy="174.6" r="0.35" fill="#333" opacity="0.81"/>
<circle cx="273.0" cy="180.2" r="0.41" fill="#333" opacity="0.73"/>
<circle cx="279.4" cy="171.0" r="0.37" fill="#333" opacity="0.80"/>
<circle cx="271.4" cy="167.9" r="0.36" fill="#333" opacity="0.80"/>
<circle cx="258.7" cy="171.7" r="0.44" fill="#333" opacity="0.83"/>
<circle cx="272.5" cy="174.4" r="0.47" fill="#333" opacity="0.65"/>
<circle cx="267.3" cy="171.5" r="0.43" fill="#333" opacity="0.77"/>
<circle cx="270.4" cy="187.4" r="0.41" fill="#333" opacity="0.35"/>
<circle cx="254.9" cy="172.8" r="0.50" fill="#333" opacity="0.74"/>
<circle cx="273.4" cy="169.2" r="0.46" fill="#333" opacity="0.71"/>
<circle cx="268.7" cy="177.3" r="0.37" fill="#333" opacity="0.55"/>
<circle cx="256.1" cy="177.5" r="0.48" fill="#333" opacity="0.83"/>
<circle cx="268.2" cy="178.8" r="0.50" fill="#333" opacity="0.39"/>
<circle cx="272.5" cy="175.4" r="0.46" fill="#333" opacity="0.60"/>
<circle cx="267.7" cy="176.1" r="0.40" fill="#333" opacity="0.39"/>
<circle cx="269.9" cy="180.8" r="0.35" fill="#333" opacity="0.56"/>
<circle cx="258.4" cy="161.3" r="0.42" fill="#333" opacity="0.45"/>
<circle cx="271.6" cy="175.9" r="0.39" fill="#333" opacity="0.60"/>
<circle cx="283.9" cy="165.7" r="0.47" fill="#333" opacity="0.62"/>
<circle cx="273.0" cy="179.7" r="0.35" fill="#333" opacity="0.79"/>
<circle cx="261.5" cy="177.5" r="0.39" fill="#333" opacity="0.83"/>
<circle cx="261.7" cy="181.7" r="0.52" fill="#333" opacity="0.38"/>
<circle cx="268.4" cy="178.5" r="0.44" fill="#333" opacity="0.83"/>
<circle cx="272.2" cy="177.2" r="0.40" fill="#333" opacity="0.60"/>
<circle cx="277.7" cy="178.6" r="0.38" fill="#333" opacity="0.32"/>
<circle cx="265.0" cy="172.7" r="0.36" fill="#333" opacity="0.37"/>
<circle cx="268.6" cy="166.6" r="0.38" fill="#333" opacity="0.65"/>
<circle cx="264.9" cy="183.4" r="0.43" fill="#333" opacity="0.82"/>
<circle cx="277.6" cy="187.2" r="0.46" fill="#333" opacity="0.50"/>
<circle cx="265.6" cy="176.4" r="0.51" fill="#333" opacity="0.65"/>
<circle cx="276.3" cy="182.1" r="0.43" fill="#333" opacity="0.77"/>
<circle cx="261.0" cy="184.9" r="0.45" fill="#333" opacity="0.50"/>
<circle cx="272.4" cy="186.3" r="0.44" fill="#333" opacity="0.47"/>
<circle cx="268.4" cy="173.8" r="0.51" fill="#333" opacity="0.43"/>
<circle cx="263.4" cy="175.6" r="0.51" fill="#333" opacity="0.34"/>
<circle cx="261.9" cy="167.3" r="0.32" fill="#333" opacity="0.60"/>
<circle cx="268.3" cy="172.1" r="0.36" fill="#333" opacity="0.58"/>
<circle cx="278.2" cy="178.8" r="0.34" fill="#333" opacity="0.76"/>
<circle cx="264.0" cy="176.2" r="0.45" fill="#333" opacity="0.68"/>
<circle cx="273.3" cy="182.8" r="0.51" fill="#333" opacity="0.85"/>
<circle cx="277.4" cy="179.5" r="0.46" fill="#333" opacity="0.69"/>
<circle cx="269.5" cy="180.9" r="0.32" fill="#333" opacity="0.33"/>
<circle cx="261.0" cy="181.9" r="0.41" fill="#333" opacity="0.83"/>
<circle cx="267.3" cy="175.1" r="0.38" fill="#333" opacity="0.61"/>
<circle cx="266.1" cy="172.7" r="0.32" fill="#333" opacity="0.53"/>
<circle cx="267.5" cy="185.2" r="0.50" fill="#333" opacity="0.62"/>
<circle cx="262.4" cy="170.0" r="0.48" fill="#333" opacity="0.31"/>
<circle cx="271.4" cy="173.2" r="0.36" fill="#333" opacity="0.40"/>
<circle cx="266.1" cy="185.5" r="0.49" fill="#333" opacity="0.36"/>
<circle cx="268.6" cy="180.0" r="0.51" fill="#333" opacity="0.45"/>
<circle cx="272.5" cy="185.9" r="0.50" fill="#333" opacity="0.58"/>
<circle cx="271.2" cy="166.9" r="0.38" fill="#333" opacity="0.83"/>
<circle cx="279.7" cy="170.5" r="0.40" fill="#333" opacity="0.68"/>
<circle cx="266.9" cy="181.8" r="0.33" fill="#333" opacity="0.76"/>
<circle cx="267.0" cy="174.7" r="0.52" fill="#333" opacity="0.36"/>
<circle cx="265.2" cy="175.6" r="0.47" fill="#333" opacity="0.45"/>
<circle cx="276.9" cy="176.4" r="0.35" fill="#333" opacity="0.50"/>
<circle cx="280.7" cy="184.8" r="0.45" fill="#333" opacity="0.82"/>
<circle cx="272.6" cy="170.5" r="0.52" fill="#333" opacity="0.85"/>
<circle cx="269.9" cy="179.0" r="0.44" fill="#333" opacity="0.66"/>
<circle cx="259.1" cy="178.6" r="0.35" fill="#333" opacity="0.70"/>
<circle cx="262.4" cy="185.5" r="0.43" fill="#333" opacity="0.50"/>
<circle cx="255.2" cy="178.0" r="0.50" fill="#333" opacity="0.44"/>
<circle cx="270.5" cy="177.3" r="0.35" fill="#333" opacity="0.39"/>
<circle cx="262.8" cy="182.5" r="0.35" fill="#333" opacity="0.62"/>
<circle cx="270.1" cy="185.2" r="0.48" fill="#333" opacity="0.39"/>
<circle cx="270.5" cy="181.2" r="0.42" fill="#333" opacity="0.62"/>
<circle cx="257.0" cy="180.9" r="0.43" fill="#333" opacity="0.53"/>
<circle cx="267.4" cy="170.7" r="0.43" fill="#333" opacity="0.31"/>
<circle cx="253.5" cy="185.1" r="0.33" fill="#333" opacity="0.53"/>
<circle cx="276.3" cy="170.8" r="0.37" fill="#333" opacity="0.72"/>
<circle cx="275.4" cy="178.7" r="0.37" fill="#333" opacity="0.75"/>
<circle cx="263.2" cy="174.0" r="0.37" fill="#333" opacity="0.35"/>
<circle cx="288.9" cy="175.0" r="0.42" fill="#333" opacity="0.51"/>
<circle cx="270.8" cy="174.0" r="0.39" fill="#333" opacity="0.72"/>
<circle cx="258.6" cy="180.9" r="0.36" fill="#333" opacity="0.67"/>
<circle cx="267.7" cy="178.8" r="0.49" fill="#333" opacity="0.55"/>
<circle cx="265.4" cy="166.5" r="0.42" fill="#333" opacity="0.81"/>
<circle cx="265.4" cy="178.2" r="0.44" fill="#333" opacity="0.40"/>
<circle cx="265.9" cy="178.8" r="0.33" fill="#333" opacity="0.35"/>
<circle cx="270.2" cy="175.5" r="0.39" fill="#333" opacity="0.35"/>
<circle cx="267.6" cy="186.9" r="0.45" fill="#333" opacity="0.53"/>
<circle cx="270.8" cy="178.0" r="0.38" fill="#333" opacity="0.58"/>
<circle cx="272.3" cy="176.9" r="0.51" fill="#333" opacity="0.43"/>
<circle cx="254.0" cy="177.9" r="0.35" fill="#333" opacity="0.47"/>
<circle cx="271.0" cy="179.0" r="0.38" fill="#333" opacity="0.80"/>
<circle cx="267.1" cy="170.2" r="0.46" fill="#333" opacity="0.54"/>
<circle cx="266.7" cy="179.6" r="0.35" fill="#333" opacity="0.32"/>
<circle cx="273.0" cy="191.7" r="0.34" fill="#333" opacity="0.77"/>
<circle cx="273.0" cy="178.4" r="0.45" fill="#333" opacity="0.39"/>
<circle cx="263.8" cy="164.5" r="0.45" fill="#333" opacity="0.33"/>
<circle cx="273.8" cy="171.0" r="0.42" fill="#333" opacity="0.48"/>
<circle cx="276.9" cy="171.8" r="0.34" fill="#333" opacity="0.71"/>
<circle cx="267.7" cy="183.3" r="0.46" fill="#333" opacity="0.58"/>
<circle cx="263.0" cy="168.0" r="0.35" fill="#333" opacity="0.67"/>
<circle cx="272.0" cy="178.4" r="0.41" fill="#333" opacity="0.66"/>
<circle cx="271.1" cy="174.9" r="0.34" fill="#333" opacity="0.80"/>
<circle cx="269.3" cy="171.0" r="0.32" fill="#333" opacity="0.42"/>
<circle cx="269.3" cy="180.9" r="0.40" fill="#333" opacity="0.41"/>
<circle cx="247.2" cy="185.7" r="0.34" fill="#333" opacity="0.68"/>
<circle cx="278.9" cy="183.4" r="0.52" fill="#333" opacity="0.48"/>
<circle cx="266.9" cy="180.2" r="0.37" fill="#333" opacity="0.67"/>
<circle cx="266.4" cy="171.3" r="0.36" fill="#333" opacity="0.52"/>
<circle cx="272.4" cy="181.3" r="0.46" fill="#333" opacity="0.54"/>
<circle cx="271.5" cy="164.4" r="0.35" fill="#333" opacity="0.34"/>
<circle cx="267.0" cy="176.4" r="0.43" fill="#333" opacity="0.84"/>
<circle cx="266.7" cy="168.4" r="0.50" fill="#333" opacity="0.35"/>
<circle cx="280.1" cy="164.2" r="0.42" fill="#333" opacity="0.57"/>
<circle cx="264.1" cy="188.2" r="0.36" fill="#333" opacity="0.67"/>
<circle cx="269.3" cy="171.7" r="0.42" fill="#333" opacity="0.74"/>
<circle cx="264.5" cy="181.9" r="0.38" fill="#333" opacity="0.81"/>
<circle cx="265.0" cy="182.1" r="0.48" fill="#333" opacity="0.56"/>
<circle cx="272.7" cy="178.1" r="0.35" fill="#333" opacity="0.57"/>
<circle cx="273.4" cy="171.6" r="0.35" fill="#333" opacity="0.68"/>
<circle cx="255.6" cy="170.0" r="0.46" fill="#333" opacity="0.62"/>
<circle cx="267.0" cy="172.1" r="0.52" fill="#333" opacity="0.32"/>
<circle cx="278.1" cy="168.4" r="0.46" fill="#333" opacity="0.74"/>
<circle cx="279.5" cy="172.8" r="0.34" fill="#333" opacity="0.48"/>
<circle cx="265.6" cy="165.8" r="0.33" fill="#333" opacity="0.62"/>
<circle cx="270.1" cy="185.0" r="0.46" fill="#333" opacity="0.49"/>
<circle cx="259.9" cy="186.8" r="0.46" fill="#333" opacity="0.50"/>
<circle cx="275.5" cy="180.3" r="0.46" fill="#333" opacity="0.45"/>
<circle cx="263.5" cy="187.6" r="0.52" fill="#333" opacity="0.54"/>
<circle cx="262.6" cy="187.8" r="0.32" fill="#333" opacity="0.35"/>
<circle cx="274.0" cy="164.5" r="0.47" fill="#333" opacity="0.78"/>
<circle cx="281.8" cy="184.0" r="0.45" fill="#333" opacity="0.39"/>
<circle cx="265.3" cy="167.9" r="0.49" fill="#333" opacity="0.69"/>
<circle cx="266.3" cy="175.4" r="0.34" fill="#333" opacity="0.51"/>
<circle cx="272.8" cy="169.5" r="0.45" fill="#333" opacity="0.30"/>
<circle cx="262.0" cy="179.6" r="0.33" fill="#333" opacity="0.49"/>
<circle cx="267.9" cy="165.9" r="0.49" fill="#333" opacity="0.85"/>
<circle cx="270.7" cy="172.6" r="0.38" fill="#333" opacity="0.80"/>
<circle cx="266.0" cy="181.0" r="0.48" fill="#333" opacity="0.78"/>
<circle cx="274.0" cy="178.1" r="0.44" fill="#333" opacity="0.83"/>
<circle cx="281.2" cy="174.8" r="0.45" fill="#333" opacity="0.82"/>
<circle cx="269.0" cy="178.6" r="0.43" fill="#333" opacity="0.41"/>
<circle cx="279.9" cy="177.5" r="0.42" fill="#333" opacity="0.57"/>
<circle cx="272.2" cy="181.9" r="0.39" fill="#333" opacity="0.51"/>
<circle cx="259.0" cy="185.4" r="0.42" fill="#333" opacity="0.62"/>
<circle cx="273.6" cy="173.5" r="0.36" fill="#333" opacity="0.45"/>
<circle cx="255.2" cy="170.2" r="0.42" fill="#333" opacity="0.58"/>
<circle cx="253.3" cy="182.9" r="0.40" fill="#333" opacity="0.67"/>
<circle cx="266.0" cy="171.7" r="0.36" fill="#333" opacity="0.59"/>
<circle cx="273.2" cy="169.3" r="0.38" fill="#333" opacity="0.72"/>
<circle cx="276.9" cy="179.2" r="0.46" fill="#333" opacity="0.73"/>
<circle cx="270.5" cy="169.2" r="0.42" fill="#333" opacity="0.44"/>
<circle cx="260.7" cy="179.1" r="0.51" fill="#333" opacity="0.58"/>
<circle cx="274.3" cy="168.5" r="0.40" fill="#333" opacity="0.46"/>
<circle cx="271.2" cy="181.3" r="0.40" fill="#333" opacity="0.69"/>
<circle cx="259.0" cy="190.8" r="0.48" fill="#333" opacity="0.57"/>
<circle cx="266.0" cy="174.0" r="0.47" fill="#333" opacity="0.42"/>
<circle cx="269.4" cy="175.3" r="0.41" fill="#333" opacity="0.50"/>
<circle cx="260.6" cy="174.9" r="0.38" fill="#333" opacity="0.50"/>
<circle cx="264.8" cy="170.9" r="0.47" fill="#333" opacity="0.70"/>
<circle cx="276.4" cy="178.4" r="0.36" fill="#333" opacity="0.43"/>
<circle cx="271.0" cy="165.8" r="0.48" fill="#333" opacity="0.66"/>
<circle cx="265.7" cy="180.6" r="0.46" fill="#333" opacity="0.65"/>
<circle cx="264.8" cy="166.2" r="0.46" fill="#333" opacity="0.45"/>
<circle cx="274.1" cy="187.5" r="0.33" fill="#333" opacity="0.50"/>
<circle cx="275.6" cy="174.1" r="0.33" fill="#333" opacity="0.83"/>
<circle cx="261.3" cy="185.0" r="0.42" fill="#333" opacity="0.67"/>
<circle cx="272.0" cy="173.7" r="0.51" fill="#333" opacity="0.74"/>
<circle cx="267.2" cy="182.0" r="0.37" fill="#333" opacity="0.49"/>
<circle cx="266.5" cy="172.9" r="0.34" fill="#333" opacity="0.74"/>
<circle cx="259.3" cy="176.7" r="0.47" fill="#333" opacity="0.57"/>
<circle cx="265.3" cy="174.2" r="0.39" fill="#333" opacity="0.45"/>
<circle cx="297.5" cy="161.1" r="0.42" fill="#333" opacity="0.69"/>
<circle cx="255.0" cy="175.8" r="0.50" fill="#333" opacity="0.77"/>
<circle cx="277.6" cy="186.4" r="0.49" fill="#333" opacity="0.54"/>
<circle cx="255.6" cy="176.5" r="0.40" fill="#333" opacity="0.47"/>
<circle cx="271.6" cy="171.2" r="0.51" fill="#333" opacity="0.40"/>
<circle cx="271.9" cy="173.5" r="0.35" fill="#333" opacity="0.45"/>
<circle cx="276.7" cy="175.2" r="0.50" fill="#333" opacity="0.77"/>
<circle cx="278.5" cy="165.7" r="0.39" fill="#333" opacity="0.77"/>
<circle cx="275.8" cy="172.3" r="0.50" fill="#333" opacity="0.53"/>
<circle cx="275.6" cy="171.2" r="0.36" fill="#333" opacity="0.73"/>
<circle cx="276.1" cy="181.2" r="0.39" fill="#333" opacity="0.37"/>
<circle cx="269.0" cy="170.1" r="0.50" fill="#333" opacity="0.54"/>
<circle cx="262.8" cy="175.0" r="0.40" fill="#333" opacity="0.63"/>
<circle cx="268.4" cy="182.8" r="0.37" fill="#333" opacity="0.31"/>
<circle cx="259.7" cy="178.1" r="0.40" fill="#333" opacity="0.51"/>
<circle cx="268.7" cy="176.7" r="0.32" fill="#333" opacity="0.50"/>
<circle cx="263.9" cy="185.9" r="0.47" fill="#333" opacity="0.48"/>
<circle cx="266.8" cy="172.3" r="0.46" fill="#333" opacity="0.64"/>
<circle cx="269.6" cy="183.6" r="0.36" fill="#333" opacity="0.31"/>
<circle cx="274.3" cy="182.3" r="0.45" fill="#333" opacity="0.64"/>
<circle cx="271.4" cy="173.2" r="0.38" fill="#333" opacity="0.41"/>
<circle cx="256.8" cy="174.4" r="0.49" fill="#333" opacity="0.80"/>
<circle cx="265.5" cy="167.4" r="0.37" fill="#333" opacity="0.62"/>
<circle cx="265.4" cy="172.4" r="0.43" fill="#333" opacity="0.48"/>
<circle cx="273.7" cy="163.0" r="0.33" fill="#333" opacity="0.48"/>
<circle cx="285.7" cy="176.6" r="0.45" fill="#333" opacity="0.63"/>
<circle cx="265.4" cy="178.1" r="0.42" fill="#333" opacity="0.37"/>
<circle cx="280.9" cy="177.7" r="0.36" fill="#333" opacity="0.47"/>
<circle cx="265.5" cy="174.1" r="0.40" fill="#333" opacity="0.50"/>
<circle cx="258.5" cy="181.2" r="0.50" fill="#333" opacity="0.36"/>
<circle cx="274.5" cy="174.7" r="0.52" fill="#333" opacity="0.43"/>
<circle cx="267.4" cy="172.0" r="0.49" fill="#333" opacity="0.43"/>
<circle cx="270.2" cy="179.4" r="0.44" fill="#333" opacity="0.51"/>
<circle cx="260.7" cy="183.1" r="0.33" fill="#333" opacity="0.74"/>
<circle cx="267.5" cy="180.1" r="0.48" fill="#333" opacity="0.45"/>
<circle cx="269.2" cy="178.7" r="0.48" fill="#333" opacity="0.56"/>
<circle cx="271.5" cy="180.6" r="0.52" fill="#333" opacity="0.33"/>
<circle cx="263.4" cy="177.6" r="0.40" fill="#333" opacity="0.43"/>
<circle cx="260.5" cy="179.4" r="0.44" fill="#333" opacity="0.73"/>
<circle cx="275.9" cy="173.2" r="0.49" fill="#333" opacity="0.60"/>
<circle cx="275.1" cy="172.2" r="0.40" fill="#333" opacity="0.74"/>
<circle cx="273.1" cy="183.0" r="0.34" fill="#333" opacity="0.44"/>
<circle cx="271.5" cy="178.6" r="0.47" fill="#333" opacity="0.54"/>
<circle cx="279.2" cy="177.8" r="0.52" fill="#333" opacity="0.35"/>
<circle cx="274.9" cy="173.4" r="0.41" fill="#333" opacity="0.42"/>
<circle cx="264.7" cy="182.6" r="0.32" fill="#333" opacity="0.35"/>
<circle cx="263.3" cy="185.4" r="0.34" fill="#333" opacity="0.50"/>
<circle cx="265.3" cy="179.5" r="0.41" fill="#333" opacity="0.58"/>
<circle cx="272.7" cy="169.1" r="0.38" fill="#333" opacity="0.69"/>
<circle cx="282.2" cy="173.2" r="0.42" fill="#333" opacity="0.84"/>
<circle cx="265.6" cy="171.4" r="0.35" fill="#333" opacity="0.58"/>
<circle cx="254.3" cy="170.0" r="0.42" fill="#333" opacity="0.50"/>
<circle cx="262.7" cy="181.8" r="0.49" fill="#333" opacity="0.42"/>
<circle cx="267.1" cy="184.3" r="0.50" fill="#333" opacity="0.50"/>
<circle cx="259.7" cy="170.1" r="0.39" fill="#333" opacity="0.64"/>
<circle cx="271.6" cy="174.4" r="0.43" fill="#333" opacity="0.46"/>
<circle cx="260.9" cy="187.5" r="0.34" fill="#333" opacity="0.83"/>
<circle cx="268.5" cy="168.4" r="0.39" fill="#333" opacity="0.36"/>
<circle cx="263.8" cy="172.5" r="0.45" fill="#333" opacity="0.59"/>
<circle cx="275.9" cy="171.7" r="0.39" fill="#333" opacity="0.48"/>
<circle cx="264.8" cy="179.6" r="0.49" fill="#333" opacity="0.49"/>
<circle cx="281.8" cy="181.6" r="0.40" fill="#333" opacity="0.83"/>
<circle cx="268.2" cy="175.1" r="0.39" fill="#333" opacity="0.52"/>
<circle cx="265.9" cy="183.4" r="0.35" fill="#333" opacity="0.66"/>
<circle cx="261.2" cy="178.5" r="0.45" fill="#333" opacity="0.55"/>
<circle cx="272.4" cy="171.8" r="0.40" fill="#333" opacity="0.43"/>
<circle cx="250.9" cy="178.2" r="0.48" fill="#333" opacity="0.55"/>
<circle cx="261.4" cy="172.9" r="0.49" fill="#333" opacity="0.51"/>
<circle cx="265.8" cy="182.4" r="0.47" fill="#333" opacity="0.32"/>
<circle cx="256.4" cy="172.7" r="0.36" fill="#333" opacity="0.83"/>
<circle cx="269.0" cy="182.2" r="0.46" fill="#333" opacity="0.67"/>
<circle cx="263.7" cy="181.5" r="0.42" fill="#333" opacity="0.56"/>
<circle cx="278.6" cy="199.2" r="0.25" fill="#333" opacity="0.44"/>
<circle cx="275.2" cy="183.0" r="0.33" fill="#333" opacity="0.23"/>
<circle cx="277.8" cy="206.9" r="0.32" fill="#333" opacity="0.41"/>
<circle cx="280.7" cy="203.4" r="0.32" fill="#333" opacity="0.16"/>
<circle cx="279.7" cy="203.5" r="0.28" fill="#333" opacity="0.28"/>
<circle cx="276.5" cy="204.5" r="0.31" fill="#333" opacity="0.28"/>
<circle cx="280.3" cy="201.7" r="0.22" fill="#333" opacity="0.42"/>
<circle cx="276.8" cy="190.8" r="0.25" fill="#333" opacity="0.47"/>
<circle cx="276.4" cy="206.6" r="0.26" fill="#333" opacity="0.37"/>
<circle cx="274.0" cy="190.4" r="0.35" fill="#333" opacity="0.20"/>
<circle cx="278.7" cy="182.5" r="0.33" fill="#333" opacity="0.18"/>
<circle cx="278.6" cy="203.6" r="0.37" fill="#333" opacity="0.16"/>
<circle cx="279.9" cy="183.8" r="0.33" fill="#333" opacity="0.30"/>
<circle cx="278.1" cy="185.4" r="0.23" fill="#333" opacity="0.31"/>
<circle cx="270.5" cy="201.6" r="0.29" fill="#333" opacity="0.32"/>
<circle cx="279.9" cy="182.2" r="0.22" fill="#333" opacity="0.36"/>
<circle cx="281.2" cy="201.7" r="0.25" fill="#333" opacity="0.54"/>
<circle cx="284.8" cy="198.3" r="0.27" fill="#333" opacity="0.32"/>
<circle cx="282.8" cy="191.5" r="0.24" fill="#333" opacity="0.54"/>
<circle cx="277.4" cy="211.3" r="0.26" fill="#333" opacity="0.41"/>
<circle cx="280.5" cy="209.1" r="0.35" fill="#333" opacity="0.31"/>
<circle cx="277.5" cy="193.8" r="0.34" fill="#333" opacity="0.26"/>
<circle cx="280.5" cy="187.8" r="0.22" fill="#333" opacity="0.17"/>
<circle cx="280.2" cy="182.0" r="0.28" fill="#333" opacity="0.50"/>
<circle cx="272.2" cy="190.3" r="0.24" fill="#333" opacity="0.33"/>
<circle cx="279.9" cy="212.4" r="0.34" fill="#333" opacity="0.26"/>
<circle cx="277.6" cy="195.8" r="0.23" fill="#333" opacity="0.36"/>
<circle cx="277.4" cy="196.8" r="0.28" fill="#333" opacity="0.53"/>
<circle cx="281.8" cy="199.5" r="0.36" fill="#333" opacity="0.25"/>
<circle cx="279.3" cy="197.7" r="0.30" fill="#333" opacity="0.32"/>
<circle cx="277.4" cy="201.0" r="0.21" fill="#333" opacity="0.33"/>
<circle cx="283.7" cy="184.6" r="0.36" fill="#333" opacity="0.27"/>
<circle cx="284.2" cy="174.1" r="0.31" fill="#333" opacity="0.43"/>
<circle cx="273.0" cy="199.9" r="0.21" fill="#333" opacity="0.52"/>
<circle cx="276.7" cy="214.2" r="0.22" fill="#333" opacity="0.27"/>
<circle cx="279.8" cy="180.4" r="0.33" fill="#333" opacity="0.16"/>
<circle cx="278.2" cy="197.9" r="0.27" fill="#333" opacity="0.20"/>
<circle cx="281.4" cy="188.8" r="0.29" fill="#333" opacity="0.16"/>
<circle cx="273.5" cy="182.4" r="0.23" fill="#333" opacity="0.24"/>
<circle cx="280.9" cy="204.9" r="0.21" fill="#333" opacity="0.19"/>
<circle cx="272.9" cy="197.5" r="0.24" fill="#333" opacity="0.36"/>
<circle cx="276.1" cy="195.6" r="0.22" fill="#333" opacity="0.48"/>
<circle cx="280.3" cy="192.0" r="0.28" fill="#333" opacity="0.25"/>
<circle cx="277.8" cy="177.0" r="0.24" fill="#333" opacity="0.49"/>
<circle cx="278.1" cy="207.9" r="0.21" fill="#333" opacity="0.45"/>
<circle cx="276.3" cy="197.9" r="0.22" fill="#333" opacity="0.53"/>
<circle cx="279.5" cy="215.9" r="0.27" fill="#333" opacity="0.39"/>
<circle cx="275.6" cy="201.9" r="0.36" fill="#333" opacity="0.19"/>
<circle cx="277.3" cy="194.0" r="0.21" fill="#333" opacity="0.43"/>
<circle cx="278.1" cy="179.1" r="0.31" fill="#333" opacity="0.44"/>
<circle cx="280.0" cy="188.1" r="0.25" fill="#333" opacity="0.35"/>
<circle cx="278.7" cy="202.1" r="0.23" fill="#333" opacity="0.32"/>
<circle cx="277.5" cy="180.9" r="0.25" fill="#333" opacity="0.38"/>
<circle cx="275.0" cy="200.1" r="0.25" fill="#333" opacity="0.26"/>
<circle cx="281.8" cy="210.6" r="0.32" fill="#333" opacity="0.18"/>
<circle cx="274.5" cy="195.9" r="0.34" fill="#333" opacity="0.35"/>
<circle cx="278.5" cy="188.2" r="0.24" fill="#333" opacity="0.20"/>
<circle cx="277.5" cy="185.7" r="0.29" fill="#333" opacity="0.35"/>
<circle cx="278.5" cy="190.3" r="0.33" fill="#333" opacity="0.30"/>
<circle cx="277.3" cy="206.6" r="0.27" fill="#333" opacity="0.51"/>
<circle cx="275.1" cy="195.0" r="0.25" fill="#333" opacity="0.54"/>
<circle cx="276.1" cy="191.0" r="0.36" fill="#333" opacity="0.55"/>
<circle cx="277.8" cy="194.2" r="0.37" fill="#333" opacity="0.25"/>
<circle cx="278.7" cy="187.4" r="0.35" fill="#333" opacity="0.39"/>
<circle cx="279.8" cy="184.0" r="0.24" fill="#333" opacity="0.55"/>
<circle cx="274.6" cy="186.5" r="0.32" fill="#333" opacity="0.47"/>
<circle cx="281.7" cy="205.1" r="0.30" fill="#333" opacity="0.18"/>
<circle cx="276.4" cy="211.3" r="0.36" fill="#333" opacity="0.22"/>
<circle cx="279.0" cy="180.8" r="0.25" fill="#333" opacity="0.40"/>
<circle cx="279.3" cy="185.2" r="0.23" fill="#333" opacity="0.34"/>
<circle cx="274.6" cy="174.3" r="0.33" fill="#333" opacity="0.19"/>
<circle cx="278.5" cy="197.8" r="0.32" fill="#333" opacity="0.19"/>
<circle cx="275.0" cy="199.6" r="0.29" fill="#333" opacity="0.41"/>
<circle cx="279.3" cy="199.1" r="0.32" fill="#333" opacity="0.17"/>
<circle cx="280.0" cy="187.4" r="0.23" fill="#333" opacity="0.53"/>
<circle cx="279.1" cy="198.6" r="0.27" fill="#333" opacity="0.32"/>
<circle cx="276.3" cy="191.3" r="0.27" fill="#333" opacity="0.43"/>
<circle cx="274.3" cy="195.7" r="0.33" fill="#333" opacity="0.41"/>
<circle cx="274.7" cy="197.9" r="0.27" fill="#333" opacity="0.38"/>
<circle cx="278.3" cy="192.6" r="0.29" fill="#333" opacity="0.23"/>
<circle cx="279.8" cy="191.4" r="0.37" fill="#333" opacity="0.54"/>
<circle cx="283.0" cy="197.7" r="0.34" fill="#333" opacity="0.55"/>
<circle cx="274.6" cy="189.2" r="0.28" fill="#333" opacity="0.49"/>
<circle cx="279.1" cy="209.4" r="0.24" fill="#333" opacity="0.45"/>
<circle cx="276.3" cy="207.6" r="0.33" fill="#333" opacity="0.53"/>
<circle cx="278.5" cy="205.6" r="0.35" fill="#333" opacity="0.50"/>
<circle cx="276.3" cy="187.0" r="0.25" fill="#333" opacity="0.46"/>
<circle cx="276.9" cy="194.4" r="0.29" fill="#333" opacity="0.27"/>
<circle cx="275.1" cy="183.2" r="0.27" fill="#333" opacity="0.47"/>
<circle cx="280.2" cy="203.4" r="0.35" fill="#333" opacity="0.49"/>
<circle cx="277.9" cy="189.9" r="0.32" fill="#333" opacity="0.22"/>
<circle cx="281.2" cy="178.6" r="0.23" fill="#333" opacity="0.38"/>
<circle cx="280.2" cy="196.1" r="0.24" fill="#333" opacity="0.28"/>
<circle cx="280.0" cy="197.5" r="0.22" fill="#333" opacity="0.21"/>
<circle cx="281.0" cy="199.4" r="0.33" fill="#333" opacity="0.24"/>
<circle cx="278.0" cy="201.6" r="0.35" fill="#333" opacity="0.28"/>
<circle cx="275.2" cy="196.1" r="0.35" fill="#333" opacity="0.27"/>
<circle cx="279.2" cy="180.0" r="0.25" fill="#333" opacity="0.31"/>
<circle cx="279.6" cy="198.2" r="0.20" fill="#333" opacity="0.32"/>
<circle cx="280.7" cy="194.4" r="0.27" fill="#333" opacity="0.16"/>
<circle cx="281.6" cy="202.7" r="0.36" fill="#333" opacity="0.30"/>
<circle cx="279.9" cy="164.8" r="0.20" fill="#333" opacity="0.53"/>
<circle cx="278.2" cy="196.4" r="0.24" fill="#333" opacity="0.25"/>
<circle cx="278.1" cy="184.7" r="0.20" fill="#333" opacity="0.19"/>
<circle cx="280.7" cy="190.2" r="0.33" fill="#333" opacity="0.38"/>
<circle cx="277.6" cy="197.2" r="0.29" fill="#333" opacity="0.25"/>
<circle cx="281.4" cy="190.5" r="0.25" fill="#333" opacity="0.54"/>
<circle cx="275.0" cy="197.5" r="0.27" fill="#333" opacity="0.55"/>
<circle cx="278.7" cy="177.1" r="0.36" fill="#333" opacity="0.20"/>
<circle cx="276.1" cy="194.8" r="0.35" fill="#333" opacity="0.16"/>
<circle cx="272.7" cy="204.5" r="0.33" fill="#333" opacity="0.47"/>
<circle cx="274.3" cy="201.3" r="0.33" fill="#333" opacity="0.37"/>
<circle cx="274.9" cy="190.3" r="0.35" fill="#333" opacity="0.21"/>
<circle cx="276.0" cy="190.9" r="0.30" fill="#333" opacity="0.26"/>
<circle cx="272.4" cy="187.6" r="0.27" fill="#333" opacity="0.23"/>
<circle cx="280.5" cy="198.2" r="0.33" fill="#333" opacity="0.38"/>
<circle cx="284.1" cy="177.0" r="0.34" fill="#333" opacity="0.40"/>
<circle cx="282.2" cy="195.1" r="0.31" fill="#333" opacity="0.52"/>
<circle cx="274.1" cy="181.2" r="0.35" fill="#333" opacity="0.38"/>
<circle cx="276.4" cy="194.9" r="0.26" fill="#333" opacity="0.52"/>
</g>
<rect x="228.6" y="146.3" width="78.10" height="78.40" fill="none" stroke="#0a0a0a" stroke-width="1.1"/>
<line x1="228.40" y1="146.30" x2="228.40" y2="224.70" stroke="#0a0a0a" stroke-width="1.5" />
<line x1="228.60" y1="224.80" x2="306.70" y2="224.80" stroke="#0a0a0a" stroke-width="1.3" />
<line x1="259.50" y1="146.30" x2="259.50" y2="224.70" stroke="#4a4a4a" stroke-width="0.75" />
<line x1="228.60" y1="192.60" x2="306.70" y2="192.60" stroke="#4a4a4a" stroke-width="0.75" />
<line x1="225.00" y1="219.70" x2="228.60" y2="219.70" stroke="#0a0a0a" stroke-width="1.0" />
<line x1="226.50" y1="212.57" x2="228.60" y2="212.57" stroke="#0a0a0a" stroke-width="0.8" />
<line x1="226.50" y1="208.39" x2="228.60" y2="208.39" stroke="#0a0a0a" stroke-width="0.8" />
<line x1="226.50" y1="205.43" x2="228.60" y2="205.43" stroke="#0a0a0a" stroke-width="0.8" />
<line x1="226.50" y1="203.13" x2="228.60" y2="203.13" stroke="#0a0a0a" stroke-width="0.8" />
<line x1="226.50" y1="201.26" x2="228.60" y2="201.26" stroke="#0a0a0a" stroke-width="0.8" />
<line x1="226.50" y1="199.67" x2="228.60" y2="199.67" stroke="#0a0a0a" stroke-width="0.8" />
<line x1="226.50" y1="198.30" x2="228.60" y2="198.30" stroke="#0a0a0a" stroke-width="0.8" />
<line x1="226.50" y1="197.08" x2="228.60" y2="197.08" stroke="#0a0a0a" stroke-width="0.8" />
<line x1="225.00" y1="196.00" x2="228.60" y2="196.00" stroke="#0a0a0a" stroke-width="1.0" />
<line x1="226.50" y1="188.87" x2="228.60" y2="188.87" stroke="#0a0a0a" stroke-width="0.8" />
<line x1="226.50" y1="184.69" x2="228.60" y2="184.69" stroke="#0a0a0a" stroke-width="0.8" />
<line x1="226.50" y1="181.73" x2="228.60" y2="181.73" stroke="#0a0a0a" stroke-width="0.8" />
<line x1="226.50" y1="179.43" x2="228.60" y2="179.43" stroke="#0a0a0a" stroke-width="0.8" />
<line x1="226.50" y1="177.56" x2="228.60" y2="177.56" stroke="#0a0a0a" stroke-width="0.8" />
<line x1="226.50" y1="175.97" x2="228.60" y2="175.97" stroke="#0a0a0a" stroke-width="0.8" />
<line x1="226.50" y1="174.60" x2="228.60" y2="174.60" stroke="#0a0a0a" stroke-width="0.8" />
<line x1="226.50" y1="173.38" x2="228.60" y2="173.38" stroke="#0a0a0a" stroke-width="0.8" />
<line x1="225.00" y1="172.30" x2="228.60" y2="172.30" stroke="#0a0a0a" stroke-width="1.0" />
<line x1="226.50" y1="165.17" x2="228.60" y2="165.17" stroke="#0a0a0a" stroke-width="0.8" />
<line x1="226.50" y1="160.99" x2="228.60" y2="160.99" stroke="#0a0a0a" stroke-width="0.8" />
<line x1="226.50" y1="158.03" x2="228.60" y2="158.03" stroke="#0a0a0a" stroke-width="0.8" />
<line x1="226.50" y1="155.73" x2="228.60" y2="155.73" stroke="#0a0a0a" stroke-width="0.8" />
<line x1="226.50" y1="153.86" x2="228.60" y2="153.86" stroke="#0a0a0a" stroke-width="0.8" />
<line x1="226.50" y1="152.27" x2="228.60" y2="152.27" stroke="#0a0a0a" stroke-width="0.8" />
<line x1="226.50" y1="150.90" x2="228.60" y2="150.90" stroke="#0a0a0a" stroke-width="0.8" />
<line x1="226.50" y1="149.68" x2="228.60" y2="149.68" stroke="#0a0a0a" stroke-width="0.8" />
<line x1="225.00" y1="148.60" x2="228.60" y2="148.60" stroke="#0a0a0a" stroke-width="1.0" />
<line x1="233.20" y1="224.70" x2="233.20" y2="228.30" stroke="#0a0a0a" stroke-width="1.0" />
<line x1="240.30" y1="224.70" x2="240.30" y2="226.80" stroke="#0a0a0a" stroke-width="0.8" />
<line x1="244.46" y1="224.70" x2="244.46" y2="226.80" stroke="#0a0a0a" stroke-width="0.8" />
<line x1="247.41" y1="224.70" x2="247.41" y2="226.80" stroke="#0a0a0a" stroke-width="0.8" />
<line x1="249.70" y1="224.70" x2="249.70" y2="226.80" stroke="#0a0a0a" stroke-width="0.8" />
<line x1="251.56" y1="224.70" x2="251.56" y2="226.80" stroke="#0a0a0a" stroke-width="0.8" />
<line x1="253.14" y1="224.70" x2="253.14" y2="226.80" stroke="#0a0a0a" stroke-width="0.8" />
<line x1="254.51" y1="224.70" x2="254.51" y2="226.80" stroke="#0a0a0a" stroke-width="0.8" />
<line x1="255.72" y1="224.70" x2="255.72" y2="226.80" stroke="#0a0a0a" stroke-width="0.8" />
<line x1="256.80" y1="224.70" x2="256.80" y2="228.30" stroke="#0a0a0a" stroke-width="1.0" />
<line x1="263.90" y1="224.70" x2="263.90" y2="226.80" stroke="#0a0a0a" stroke-width="0.8" />
<line x1="268.06" y1="224.70" x2="268.06" y2="226.80" stroke="#0a0a0a" stroke-width="0.8" />
<line x1="271.01" y1="224.70" x2="271.01" y2="226.80" stroke="#0a0a0a" stroke-width="0.8" />
<line x1="273.30" y1="224.70" x2="273.30" y2="226.80" stroke="#0a0a0a" stroke-width="0.8" />
<line x1="275.16" y1="224.70" x2="275.16" y2="226.80" stroke="#0a0a0a" stroke-width="0.8" />
<line x1="276.74" y1="224.70" x2="276.74" y2="226.80" stroke="#0a0a0a" stroke-width="0.8" />
<line x1="278.11" y1="224.70" x2="278.11" y2="226.80" stroke="#0a0a0a" stroke-width="0.8" />
<line x1="279.32" y1="224.70" x2="279.32" y2="226.80" stroke="#0a0a0a" stroke-width="0.8" />
<line x1="280.40" y1="224.70" x2="280.40" y2="228.30" stroke="#0a0a0a" stroke-width="1.0" />
<line x1="287.50" y1="224.70" x2="287.50" y2="226.80" stroke="#0a0a0a" stroke-width="0.8" />
<line x1="291.66" y1="224.70" x2="291.66" y2="226.80" stroke="#0a0a0a" stroke-width="0.8" />
<line x1="294.61" y1="224.70" x2="294.61" y2="226.80" stroke="#0a0a0a" stroke-width="0.8" />
<line x1="296.90" y1="224.70" x2="296.90" y2="226.80" stroke="#0a0a0a" stroke-width="0.8" />
<line x1="298.76" y1="224.70" x2="298.76" y2="226.80" stroke="#0a0a0a" stroke-width="0.8" />
<line x1="300.34" y1="224.70" x2="300.34" y2="226.80" stroke="#0a0a0a" stroke-width="0.8" />
<line x1="301.71" y1="224.70" x2="301.71" y2="226.80" stroke="#0a0a0a" stroke-width="0.8" />
<line x1="302.92" y1="224.70" x2="302.92" y2="226.80" stroke="#0a0a0a" stroke-width="0.8" />
<line x1="304.00" y1="224.70" x2="304.00" y2="228.30" stroke="#0a0a0a" stroke-width="1.0" />
<rect x="225.79999999999998" y="203.1" width="2.8" height="2.6" fill="#111"/>
<rect x="246.2" y="224.7" width="3.4" height="2.0" fill="#111"/>
<text x="232.90" y="157.40" font-size="7.2" textLength="14.60" lengthAdjust="spacingAndGlyphs" fill="#1c1c1c" stroke="#1c1c1c" stroke-width="0.28">5.3%</text>
<text x="284.50" y="157.40" font-size="7.2" textLength="15.20" lengthAdjust="spacingAndGlyphs" fill="#1c1c1c" stroke="#1c1c1c" stroke-width="0.28">8.8%</text>
<text x="232.90" y="219.40" font-size="7.2" textLength="19.20" lengthAdjust="spacingAndGlyphs" fill="#1c1c1c" stroke="#1c1c1c" stroke-width="0.28">69.7%</text>
<text x="280.10" y="220.00" font-size="7.2" textLength="18.60" lengthAdjust="spacingAndGlyphs" fill="#1c1c1c" stroke="#1c1c1c" stroke-width="0.28">16.2%</text>
<text x="221.00" y="196.60" font-size="9" textLength="22.40" lengthAdjust="spacingAndGlyphs" transform="rotate(-90 221.00 196.60)" fill="#1c1c1c" stroke="#1c1c1c" stroke-width="0.28">CD86</text>
<g clip-path="url(#cF3)">
<path d="M253.0 289.3 L250.6 297.0 L249.8 308.0 L250.4 314.5 L254.0 318.5 L261.2 320.0 L267.5 318.6 L271.2 314.2 L270.0 307.0 L266.5 300.0 L262.0 294.5 L257.5 290.6Z" fill="#e8e8e8" stroke="#c8c8c8" stroke-width="0.5" filter="url(#b05)" stroke-linejoin="round"/>
<ellipse cx="255.4" cy="302.5" rx="3.0" ry="7.6" fill="#fff" filter="url(#b05)" transform="rotate(-4 255.4 302.5)"/>
<path d="M253.2 290C250.8 296 249.6 306 250.2 313.6C251 318 255 320 261 320.2C266 320 270 317.5 271.2 314" fill="none" stroke="#b0b0b0" stroke-width="1.5" filter="url(#b05)" stroke-linecap="round" stroke-linejoin="round" opacity="0.85"/>
<ellipse cx="264.0" cy="310" rx="4.6" ry="6.4" fill="#dcdcdc" filter="url(#b05)" transform="rotate(-25 264 310)"/>
<ellipse cx="252.6" cy="312.6" rx="3.0" ry="4.4" fill="#949494" filter="url(#b1)" opacity="0.85"/>
<ellipse cx="252.0" cy="313.4" rx="1.6" ry="2.7" fill="#7a7a7a" filter="url(#b05)" opacity="0.7"/>
<circle cx="253.5" cy="312.2" r="0.8" fill="#fff" opacity="0.9"/>
<circle cx="254.8" cy="319.1" r="0.49" fill="#333" opacity="0.92"/>
<circle cx="269.3" cy="308.7" r="0.51" fill="#333" opacity="0.67"/>
<circle cx="261.4" cy="319.0" r="0.37" fill="#333" opacity="0.76"/>
<circle cx="265.4" cy="300.3" r="0.53" fill="#333" opacity="0.51"/>
<circle cx="249.4" cy="300.3" r="0.54" fill="#333" opacity="0.95"/>
<circle cx="260.5" cy="318.3" r="0.38" fill="#333" opacity="0.94"/>
<circle cx="251.2" cy="304.0" r="0.35" fill="#333" opacity="0.69"/>
<circle cx="258.4" cy="318.9" r="0.52" fill="#333" opacity="0.84"/>
<circle cx="270.2" cy="316.4" r="0.45" fill="#333" opacity="0.65"/>
<circle cx="269.7" cy="310.9" r="0.47" fill="#333" opacity="0.95"/>
<circle cx="249.9" cy="306.0" r="0.37" fill="#333" opacity="0.48"/>
<circle cx="259.1" cy="317.9" r="0.54" fill="#333" opacity="0.87"/>
<circle cx="270.0" cy="315.4" r="0.43" fill="#333" opacity="0.58"/>
<circle cx="272.3" cy="313.5" r="0.43" fill="#333" opacity="0.70"/>
<circle cx="258.1" cy="320.1" r="0.51" fill="#333" opacity="0.75"/>
<circle cx="248.7" cy="297.3" r="0.55" fill="#333" opacity="0.83"/>
<circle cx="253.0" cy="291.8" r="0.41" fill="#333" opacity="0.91"/>
<circle cx="265.1" cy="297.0" r="0.47" fill="#333" opacity="0.64"/>
<circle cx="250.4" cy="312.1" r="0.42" fill="#333" opacity="0.72"/>
<circle cx="256.3" cy="290.5" r="0.46" fill="#333" opacity="0.95"/>
<circle cx="250.9" cy="292.0" r="0.50" fill="#333" opacity="0.93"/>
<circle cx="269.4" cy="313.0" r="0.46" fill="#333" opacity="0.80"/>
<circle cx="258.2" cy="290.6" r="0.53" fill="#333" opacity="0.48"/>
<circle cx="267.9" cy="300.1" r="0.51" fill="#333" opacity="0.57"/>
<circle cx="255.0" cy="320.4" r="0.46" fill="#333" opacity="0.75"/>
<circle cx="249.1" cy="314.2" r="0.51" fill="#333" opacity="0.93"/>
<circle cx="248.9" cy="309.4" r="0.42" fill="#333" opacity="0.85"/>
<circle cx="248.4" cy="302.8" r="0.54" fill="#333" opacity="0.46"/>
<circle cx="247.5" cy="311.6" r="0.38" fill="#333" opacity="0.87"/>
<circle cx="253.7" cy="318.2" r="0.36" fill="#333" opacity="0.61"/>
<circle cx="250.9" cy="302.6" r="0.49" fill="#333" opacity="0.74"/>
<circle cx="250.9" cy="297.8" r="0.38" fill="#333" opacity="0.86"/>
<circle cx="265.3" cy="300.4" r="0.51" fill="#333" opacity="0.56"/>
<circle cx="254.4" cy="287.9" r="0.37" fill="#333" opacity="0.83"/>
<circle cx="265.6" cy="299.5" r="0.55" fill="#333" opacity="0.61"/>
<circle cx="264.9" cy="296.5" r="0.49" fill="#333" opacity="0.79"/>
<circle cx="262.4" cy="295.7" r="0.40" fill="#333" opacity="0.72"/>
<circle cx="251.8" cy="298.4" r="0.40" fill="#333" opacity="0.80"/>
<circle cx="271.7" cy="310.0" r="0.50" fill="#333" opacity="0.60"/>
<circle cx="250.2" cy="299.0" r="0.44" fill="#333" opacity="0.86"/>
<circle cx="251.0" cy="302.9" r="0.53" fill="#333" opacity="0.53"/>
<circle cx="251.2" cy="294.7" r="0.48" fill="#333" opacity="0.49"/>
<circle cx="248.8" cy="307.6" r="0.43" fill="#333" opacity="0.67"/>
<circle cx="251.8" cy="292.5" r="0.51" fill="#333" opacity="0.81"/>
<circle cx="264.9" cy="299.9" r="0.38" fill="#333" opacity="0.64"/>
<circle cx="249.9" cy="315.1" r="0.39" fill="#333" opacity="0.61"/>
<circle cx="251.2" cy="311.3" r="0.45" fill="#333" opacity="0.64"/>
<circle cx="260.0" cy="291.4" r="0.46" fill="#333" opacity="0.88"/>
<circle cx="250.0" cy="310.8" r="0.45" fill="#333" opacity="0.83"/>
<circle cx="247.2" cy="303.4" r="0.45" fill="#333" opacity="0.64"/>
<circle cx="264.6" cy="296.0" r="0.37" fill="#333" opacity="0.77"/>
<circle cx="269.7" cy="302.8" r="0.41" fill="#333" opacity="0.71"/>
<circle cx="249.1" cy="313.3" r="0.53" fill="#333" opacity="0.90"/>
<circle cx="255.8" cy="291.9" r="0.38" fill="#333" opacity="0.91"/>
<circle cx="271.5" cy="310.6" r="0.55" fill="#333" opacity="0.46"/>
<circle cx="263.8" cy="295.1" r="0.52" fill="#333" opacity="0.56"/>
<circle cx="266.7" cy="302.8" r="0.39" fill="#333" opacity="0.85"/>
<circle cx="271.2" cy="305.8" r="0.39" fill="#333" opacity="0.64"/>
<circle cx="255.5" cy="318.2" r="0.54" fill="#333" opacity="0.77"/>
<circle cx="254.0" cy="318.4" r="0.45" fill="#333" opacity="0.74"/>
<circle cx="261.3" cy="319.7" r="0.42" fill="#333" opacity="0.66"/>
<circle cx="251.5" cy="302.7" r="0.46" fill="#333" opacity="0.66"/>
<circle cx="249.4" cy="310.9" r="0.44" fill="#333" opacity="0.94"/>
<circle cx="269.0" cy="317.3" r="0.38" fill="#333" opacity="0.62"/>
<circle cx="267.3" cy="299.8" r="0.51" fill="#333" opacity="0.67"/>
<circle cx="267.2" cy="318.5" r="0.36" fill="#333" opacity="0.78"/>
<circle cx="268.3" cy="309.0" r="0.51" fill="#333" opacity="0.60"/>
<circle cx="249.8" cy="294.1" r="0.39" fill="#333" opacity="0.47"/>
<circle cx="265.2" cy="319.9" r="0.48" fill="#333" opacity="0.59"/>
<circle cx="260.1" cy="320.5" r="0.39" fill="#333" opacity="0.86"/>
<circle cx="260.5" cy="318.9" r="0.51" fill="#333" opacity="0.75"/>
<circle cx="269.4" cy="311.1" r="0.39" fill="#333" opacity="0.94"/>
<circle cx="268.8" cy="308.4" r="0.37" fill="#333" opacity="0.62"/>
<circle cx="249.9" cy="308.0" r="0.44" fill="#333" opacity="0.88"/>
<circle cx="266.5" cy="299.4" r="0.40" fill="#333" opacity="0.80"/>
<circle cx="250.2" cy="312.8" r="0.50" fill="#333" opacity="0.74"/>
<circle cx="266.1" cy="298.1" r="0.55" fill="#333" opacity="0.45"/>
<circle cx="263.1" cy="294.5" r="0.43" fill="#333" opacity="0.83"/>
<circle cx="251.3" cy="316.9" r="0.46" fill="#333" opacity="0.83"/>
<circle cx="265.4" cy="319.9" r="0.39" fill="#333" opacity="0.69"/>
<circle cx="252.9" cy="291.0" r="0.50" fill="#333" opacity="0.77"/>
<circle cx="259.7" cy="318.1" r="0.39" fill="#333" opacity="0.72"/>
<circle cx="270.7" cy="314.0" r="0.41" fill="#333" opacity="0.62"/>
<circle cx="249.6" cy="298.4" r="0.47" fill="#333" opacity="0.54"/>
<circle cx="269.9" cy="305.4" r="0.38" fill="#333" opacity="0.50"/>
<circle cx="249.1" cy="309.8" r="0.53" fill="#333" opacity="0.92"/>
<circle cx="250.2" cy="310.8" r="0.46" fill="#333" opacity="0.58"/>
<circle cx="257.2" cy="290.4" r="0.42" fill="#333" opacity="0.61"/>
<circle cx="247.9" cy="306.5" r="0.35" fill="#333" opacity="0.87"/>
<circle cx="252.9" cy="314.8" r="0.40" fill="#333" opacity="0.56"/>
<circle cx="250.1" cy="299.1" r="0.39" fill="#333" opacity="0.58"/>
<circle cx="268.8" cy="316.3" r="0.46" fill="#333" opacity="0.84"/>
<circle cx="267.5" cy="306.8" r="0.51" fill="#333" opacity="0.73"/>
<circle cx="262.2" cy="320.2" r="0.53" fill="#333" opacity="0.75"/>
<circle cx="252.6" cy="296.1" r="0.36" fill="#333" opacity="0.80"/>
<circle cx="247.8" cy="308.3" r="0.42" fill="#333" opacity="0.70"/>
<circle cx="270.9" cy="310.8" r="0.44" fill="#333" opacity="0.94"/>
<circle cx="250.0" cy="304.3" r="0.40" fill="#333" opacity="0.51"/>
<circle cx="249.6" cy="301.2" r="0.51" fill="#333" opacity="0.50"/>
<circle cx="271.3" cy="312.4" r="0.39" fill="#333" opacity="0.83"/>
<circle cx="263.0" cy="319.4" r="0.43" fill="#333" opacity="0.93"/>
<circle cx="254.7" cy="316.3" r="0.39" fill="#333" opacity="0.72"/>
<circle cx="259.2" cy="292.2" r="0.50" fill="#333" opacity="0.82"/>
<circle cx="273.2" cy="316.2" r="0.37" fill="#333" opacity="0.84"/>
<circle cx="268.2" cy="306.3" r="0.43" fill="#333" opacity="0.83"/>
<circle cx="252.9" cy="292.3" r="0.51" fill="#333" opacity="0.69"/>
<circle cx="264.7" cy="299.7" r="0.36" fill="#333" opacity="0.69"/>
<circle cx="252.1" cy="294.3" r="0.44" fill="#333" opacity="0.94"/>
<circle cx="257.7" cy="290.4" r="0.49" fill="#333" opacity="0.81"/>
<circle cx="273.7" cy="314.5" r="0.44" fill="#333" opacity="0.75"/>
<circle cx="265.0" cy="298.5" r="0.53" fill="#333" opacity="0.59"/>
<circle cx="254.3" cy="295.3" r="0.50" fill="#333" opacity="0.55"/>
<circle cx="251.6" cy="300.2" r="0.47" fill="#333" opacity="0.52"/>
<circle cx="257.5" cy="319.2" r="0.43" fill="#333" opacity="0.48"/>
<circle cx="255.3" cy="291.0" r="0.52" fill="#333" opacity="0.82"/>
<circle cx="251.5" cy="291.5" r="0.45" fill="#333" opacity="0.52"/>
<circle cx="265.7" cy="318.5" r="0.53" fill="#333" opacity="0.66"/>
<circle cx="250.2" cy="312.3" r="0.48" fill="#333" opacity="0.73"/>
<circle cx="259.6" cy="293.4" r="0.55" fill="#333" opacity="0.56"/>
<circle cx="252.1" cy="291.5" r="0.37" fill="#333" opacity="0.66"/>
<circle cx="253.3" cy="291.5" r="0.53" fill="#333" opacity="0.80"/>
<circle cx="268.7" cy="303.4" r="0.50" fill="#333" opacity="0.55"/>
<circle cx="266.9" cy="316.4" r="0.38" fill="#333" opacity="0.62"/>
<circle cx="265.6" cy="294.8" r="0.37" fill="#333" opacity="0.56"/>
<circle cx="250.2" cy="296.0" r="0.48" fill="#333" opacity="0.84"/>
<circle cx="263.5" cy="318.0" r="0.48" fill="#333" opacity="0.78"/>
<circle cx="268.4" cy="315.4" r="0.46" fill="#333" opacity="0.51"/>
<circle cx="257.4" cy="320.0" r="0.46" fill="#333" opacity="0.63"/>
<circle cx="254.6" cy="319.3" r="0.54" fill="#333" opacity="0.50"/>
<circle cx="252.4" cy="289.6" r="0.44" fill="#333" opacity="0.75"/>
<circle cx="253.8" cy="318.4" r="0.52" fill="#333" opacity="0.92"/>
<circle cx="249.3" cy="313.0" r="0.36" fill="#333" opacity="0.90"/>
<circle cx="264.0" cy="297.7" r="0.49" fill="#333" opacity="0.85"/>
<circle cx="261.4" cy="320.3" r="0.51" fill="#333" opacity="0.88"/>
<circle cx="263.9" cy="296.4" r="0.55" fill="#333" opacity="0.81"/>
<circle cx="261.4" cy="320.3" r="0.50" fill="#333" opacity="0.48"/>
<circle cx="264.7" cy="297.5" r="0.53" fill="#333" opacity="0.92"/>
<circle cx="272.2" cy="314.2" r="0.43" fill="#333" opacity="0.57"/>
<circle cx="258.4" cy="290.9" r="0.40" fill="#333" opacity="0.62"/>
<circle cx="268.9" cy="317.4" r="0.51" fill="#333" opacity="0.54"/>
<circle cx="267.7" cy="307.3" r="0.54" fill="#333" opacity="0.61"/>
<circle cx="272.1" cy="314.9" r="0.47" fill="#333" opacity="0.77"/>
<circle cx="252.9" cy="316.8" r="0.46" fill="#333" opacity="0.54"/>
<circle cx="248.7" cy="312.8" r="0.45" fill="#333" opacity="0.58"/>
<circle cx="269.8" cy="317.4" r="0.38" fill="#333" opacity="0.58"/>
<circle cx="260.0" cy="319.3" r="0.39" fill="#333" opacity="0.52"/>
<circle cx="249.3" cy="307.7" r="0.50" fill="#333" opacity="0.65"/>
<circle cx="260.9" cy="320.9" r="0.53" fill="#333" opacity="0.66"/>
<circle cx="258.9" cy="294.9" r="0.46" fill="#333" opacity="0.79"/>
<circle cx="254.7" cy="319.3" r="0.53" fill="#333" opacity="0.63"/>
<circle cx="268.5" cy="306.9" r="0.39" fill="#333" opacity="0.54"/>
<circle cx="251.5" cy="315.1" r="0.35" fill="#333" opacity="0.81"/>
<circle cx="259.8" cy="319.9" r="0.39" fill="#333" opacity="0.86"/>
<circle cx="267.8" cy="318.5" r="0.41" fill="#333" opacity="0.59"/>
<circle cx="253.1" cy="315.1" r="0.49" fill="#333" opacity="0.89"/>
<circle cx="270.8" cy="310.5" r="0.38" fill="#333" opacity="0.58"/>
<circle cx="267.4" cy="317.4" r="0.44" fill="#333" opacity="0.57"/>
<circle cx="254.5" cy="288.7" r="0.36" fill="#333" opacity="0.94"/>
<circle cx="250.3" cy="309.8" r="0.48" fill="#333" opacity="0.63"/>
<circle cx="260.8" cy="294.1" r="0.39" fill="#333" opacity="0.85"/>
<circle cx="253.7" cy="288.5" r="0.41" fill="#333" opacity="0.59"/>
<circle cx="251.2" cy="296.2" r="0.47" fill="#333" opacity="0.62"/>
<circle cx="247.7" cy="305.5" r="0.40" fill="#333" opacity="0.53"/>
<circle cx="270.2" cy="311.2" r="0.39" fill="#333" opacity="0.89"/>
<circle cx="250.9" cy="298.9" r="0.45" fill="#333" opacity="0.69"/>
<circle cx="268.1" cy="315.2" r="0.44" fill="#333" opacity="0.47"/>
<circle cx="265.2" cy="297.3" r="0.38" fill="#333" opacity="0.75"/>
<circle cx="267.3" cy="301.1" r="0.52" fill="#333" opacity="0.79"/>
<circle cx="249.8" cy="296.2" r="0.43" fill="#333" opacity="0.53"/>
<circle cx="270.2" cy="310.4" r="0.38" fill="#333" opacity="0.65"/>
<circle cx="249.4" cy="300.4" r="0.46" fill="#333" opacity="0.65"/>
<circle cx="266.7" cy="299.7" r="0.54" fill="#333" opacity="0.88"/>
<circle cx="259.1" cy="290.5" r="0.51" fill="#333" opacity="0.74"/>
<circle cx="250.5" cy="299.2" r="0.53" fill="#333" opacity="0.61"/>
<circle cx="256.4" cy="319.0" r="0.49" fill="#333" opacity="0.85"/>
<circle cx="266.7" cy="298.8" r="0.38" fill="#333" opacity="0.83"/>
<circle cx="269.3" cy="307.8" r="0.38" fill="#333" opacity="0.87"/>
<circle cx="261.7" cy="319.1" r="0.41" fill="#333" opacity="0.71"/>
<circle cx="268.8" cy="302.4" r="0.49" fill="#333" opacity="0.65"/>
<circle cx="262.7" cy="293.8" r="0.42" fill="#333" opacity="0.59"/>
<circle cx="261.5" cy="292.9" r="0.37" fill="#333" opacity="0.55"/>
<circle cx="257.8" cy="290.6" r="0.46" fill="#333" opacity="0.73"/>
<circle cx="266.4" cy="319.2" r="0.37" fill="#333" opacity="0.91"/>
<circle cx="251.6" cy="298.8" r="0.48" fill="#333" opacity="0.85"/>
<circle cx="270.3" cy="306.9" r="0.35" fill="#333" opacity="0.57"/>
<circle cx="267.6" cy="301.7" r="0.50" fill="#333" opacity="0.53"/>
<circle cx="268.2" cy="317.7" r="0.43" fill="#333" opacity="0.69"/>
<circle cx="252.0" cy="311.6" r="0.49" fill="#333" opacity="0.60"/>
<circle cx="266.6" cy="304.3" r="0.42" fill="#333" opacity="0.89"/>
<circle cx="268.8" cy="308.2" r="0.51" fill="#333" opacity="0.71"/>
<circle cx="258.5" cy="290.3" r="0.49" fill="#333" opacity="0.69"/>
<circle cx="263.8" cy="296.8" r="0.49" fill="#333" opacity="0.86"/>
<circle cx="255.7" cy="318.5" r="0.36" fill="#333" opacity="0.51"/>
<circle cx="250.2" cy="295.0" r="0.40" fill="#333" opacity="0.67"/>
<circle cx="252.8" cy="294.4" r="0.46" fill="#333" opacity="0.67"/>
<circle cx="249.7" cy="314.0" r="0.55" fill="#333" opacity="0.93"/>
<circle cx="269.0" cy="304.1" r="0.37" fill="#333" opacity="0.62"/>
<circle cx="247.6" cy="301.0" r="0.52" fill="#333" opacity="0.93"/>
<circle cx="249.9" cy="307.6" r="0.40" fill="#333" opacity="0.48"/>
<circle cx="266.3" cy="320.3" r="0.46" fill="#333" opacity="0.75"/>
<circle cx="250.2" cy="312.2" r="0.49" fill="#333" opacity="0.69"/>
<circle cx="261.5" cy="320.2" r="0.44" fill="#333" opacity="0.76"/>
<circle cx="251.5" cy="302.7" r="0.52" fill="#333" opacity="0.86"/>
<circle cx="263.9" cy="320.3" r="0.50" fill="#333" opacity="0.94"/>
<circle cx="251.5" cy="298.3" r="0.42" fill="#333" opacity="0.75"/>
<circle cx="251.1" cy="297.5" r="0.53" fill="#333" opacity="0.61"/>
<circle cx="251.7" cy="316.9" r="0.47" fill="#333" opacity="0.86"/>
<circle cx="249.7" cy="293.8" r="0.55" fill="#333" opacity="0.92"/>
<circle cx="247.7" cy="300.5" r="0.46" fill="#333" opacity="0.93"/>
<circle cx="252.6" cy="310.5" r="0.40" fill="#333" opacity="0.73"/>
<circle cx="251.1" cy="316.6" r="0.54" fill="#333" opacity="0.89"/>
<circle cx="250.1" cy="310.1" r="0.43" fill="#333" opacity="0.92"/>
<circle cx="249.0" cy="311.2" r="0.40" fill="#333" opacity="0.80"/>
<circle cx="272.6" cy="311.8" r="0.36" fill="#333" opacity="0.80"/>
<circle cx="253.0" cy="317.4" r="0.55" fill="#333" opacity="0.85"/>
<circle cx="261.9" cy="317.2" r="0.54" fill="#333" opacity="0.72"/>
<circle cx="247.1" cy="311.5" r="0.50" fill="#333" opacity="0.78"/>
<circle cx="262.4" cy="297.2" r="0.52" fill="#333" opacity="0.55"/>
<circle cx="264.1" cy="295.6" r="0.46" fill="#333" opacity="0.52"/>
<circle cx="258.2" cy="292.1" r="0.43" fill="#333" opacity="0.75"/>
<circle cx="259.2" cy="319.5" r="0.49" fill="#333" opacity="0.52"/>
<circle cx="250.8" cy="308.2" r="0.53" fill="#333" opacity="0.54"/>
<circle cx="252.9" cy="288.2" r="0.42" fill="#333" opacity="0.46"/>
<circle cx="259.0" cy="321.0" r="0.55" fill="#333" opacity="0.55"/>
<circle cx="251.0" cy="294.8" r="0.39" fill="#333" opacity="0.67"/>
<circle cx="253.7" cy="290.5" r="0.45" fill="#333" opacity="0.53"/>
<circle cx="256.2" cy="318.1" r="0.51" fill="#333" opacity="0.54"/>
<circle cx="249.7" cy="296.5" r="0.53" fill="#333" opacity="0.50"/>
<circle cx="267.5" cy="302.1" r="0.38" fill="#333" opacity="0.76"/>
<circle cx="266.4" cy="302.4" r="0.49" fill="#333" opacity="0.75"/>
<circle cx="257.2" cy="290.5" r="0.39" fill="#333" opacity="0.72"/>
<circle cx="253.7" cy="288.0" r="0.46" fill="#333" opacity="0.36"/>
<circle cx="279.9" cy="293.7" r="0.34" fill="#333" opacity="0.33"/>
<circle cx="257.4" cy="287.2" r="0.37" fill="#333" opacity="0.62"/>
<circle cx="258.6" cy="297.6" r="0.51" fill="#333" opacity="0.78"/>
<circle cx="262.7" cy="288.5" r="0.49" fill="#333" opacity="0.36"/>
<circle cx="262.9" cy="273.1" r="0.48" fill="#333" opacity="0.68"/>
<circle cx="247.3" cy="290.3" r="0.41" fill="#333" opacity="0.80"/>
<circle cx="252.4" cy="288.6" r="0.44" fill="#333" opacity="0.36"/>
<circle cx="264.7" cy="291.3" r="0.36" fill="#333" opacity="0.36"/>
<circle cx="246.1" cy="294.4" r="0.44" fill="#333" opacity="0.61"/>
<circle cx="264.3" cy="295.7" r="0.49" fill="#333" opacity="0.31"/>
<circle cx="251.7" cy="286.3" r="0.32" fill="#333" opacity="0.79"/>
<circle cx="257.1" cy="279.3" r="0.37" fill="#333" opacity="0.43"/>
<circle cx="261.0" cy="291.2" r="0.49" fill="#333" opacity="0.36"/>
<circle cx="262.0" cy="292.9" r="0.48" fill="#333" opacity="0.75"/>
<circle cx="259.6" cy="291.1" r="0.43" fill="#333" opacity="0.60"/>
<circle cx="254.2" cy="285.4" r="0.32" fill="#333" opacity="0.60"/>
<circle cx="259.1" cy="300.8" r="0.44" fill="#333" opacity="0.69"/>
<circle cx="246.0" cy="288.3" r="0.42" fill="#333" opacity="0.36"/>
<circle cx="253.5" cy="292.3" r="0.36" fill="#333" opacity="0.63"/>
<circle cx="257.5" cy="287.9" r="0.34" fill="#333" opacity="0.35"/>
<circle cx="261.3" cy="291.2" r="0.37" fill="#333" opacity="0.70"/>
<circle cx="258.7" cy="294.8" r="0.43" fill="#333" opacity="0.48"/>
<circle cx="267.7" cy="291.7" r="0.51" fill="#333" opacity="0.59"/>
<circle cx="264.9" cy="295.3" r="0.37" fill="#333" opacity="0.58"/>
<circle cx="256.6" cy="281.9" r="0.49" fill="#333" opacity="0.48"/>
<circle cx="265.3" cy="300.7" r="0.41" fill="#333" opacity="0.59"/>
<circle cx="253.9" cy="290.9" r="0.52" fill="#333" opacity="0.62"/>
<circle cx="254.6" cy="289.9" r="0.36" fill="#333" opacity="0.59"/>
<circle cx="273.3" cy="299.3" r="0.38" fill="#333" opacity="0.54"/>
<circle cx="270.7" cy="293.8" r="0.46" fill="#333" opacity="0.31"/>
<circle cx="261.5" cy="288.9" r="0.42" fill="#333" opacity="0.46"/>
<circle cx="269.7" cy="299.9" r="0.44" fill="#333" opacity="0.71"/>
<circle cx="260.8" cy="284.3" r="0.41" fill="#333" opacity="0.61"/>
<circle cx="257.5" cy="293.1" r="0.38" fill="#333" opacity="0.43"/>
<circle cx="268.3" cy="293.3" r="0.42" fill="#333" opacity="0.57"/>
<circle cx="265.5" cy="295.3" r="0.36" fill="#333" opacity="0.68"/>
<circle cx="259.0" cy="291.8" r="0.42" fill="#333" opacity="0.48"/>
<circle cx="273.2" cy="298.4" r="0.37" fill="#333" opacity="0.72"/>
<circle cx="261.4" cy="291.3" r="0.50" fill="#333" opacity="0.77"/>
<circle cx="258.1" cy="290.8" r="0.37" fill="#333" opacity="0.34"/>
<circle cx="264.3" cy="283.7" r="0.45" fill="#333" opacity="0.31"/>
<circle cx="267.8" cy="286.6" r="0.49" fill="#333" opacity="0.64"/>
<circle cx="261.3" cy="292.4" r="0.39" fill="#333" opacity="0.52"/>
<circle cx="266.7" cy="301.5" r="0.46" fill="#333" opacity="0.38"/>
<circle cx="266.9" cy="289.7" r="0.39" fill="#333" opacity="0.69"/>
<circle cx="256.8" cy="299.6" r="0.46" fill="#333" opacity="0.59"/>
<circle cx="262.8" cy="296.2" r="0.34" fill="#333" opacity="0.41"/>
<circle cx="276.1" cy="302.3" r="0.37" fill="#333" opacity="0.32"/>
<circle cx="250.8" cy="289.3" r="0.45" fill="#333" opacity="0.59"/>
<circle cx="266.5" cy="288.4" r="0.50" fill="#333" opacity="0.58"/>
<circle cx="270.5" cy="297.4" r="0.50" fill="#333" opacity="0.53"/>
<circle cx="276.3" cy="295.8" r="0.42" fill="#333" opacity="0.44"/>
<circle cx="266.6" cy="300.0" r="0.41" fill="#333" opacity="0.77"/>
<circle cx="259.4" cy="295.3" r="0.42" fill="#333" opacity="0.30"/>
<circle cx="245.7" cy="294.9" r="0.39" fill="#333" opacity="0.40"/>
<circle cx="265.2" cy="296.7" r="0.44" fill="#333" opacity="0.55"/>
<circle cx="267.2" cy="309.8" r="0.42" fill="#333" opacity="0.76"/>
<circle cx="252.6" cy="285.8" r="0.47" fill="#333" opacity="0.34"/>
<circle cx="252.5" cy="284.4" r="0.33" fill="#333" opacity="0.65"/>
<circle cx="255.8" cy="292.8" r="0.44" fill="#333" opacity="0.63"/>
<circle cx="264.8" cy="285.4" r="0.42" fill="#333" opacity="0.32"/>
<circle cx="266.0" cy="291.8" r="0.41" fill="#333" opacity="0.72"/>
<circle cx="269.6" cy="290.0" r="0.44" fill="#333" opacity="0.32"/>
<circle cx="257.3" cy="286.4" r="0.34" fill="#333" opacity="0.75"/>
<circle cx="259.5" cy="289.5" r="0.43" fill="#333" opacity="0.38"/>
<circle cx="263.5" cy="296.0" r="0.46" fill="#333" opacity="0.76"/>
<circle cx="261.6" cy="293.2" r="0.49" fill="#333" opacity="0.62"/>
<circle cx="263.4" cy="284.3" r="0.48" fill="#333" opacity="0.34"/>
<circle cx="259.5" cy="287.9" r="0.41" fill="#333" opacity="0.71"/>
<circle cx="264.1" cy="283.3" r="0.39" fill="#333" opacity="0.37"/>
<circle cx="259.5" cy="287.7" r="0.49" fill="#333" opacity="0.65"/>
<circle cx="257.1" cy="286.6" r="0.32" fill="#333" opacity="0.33"/>
<circle cx="259.2" cy="293.4" r="0.43" fill="#333" opacity="0.78"/>
<circle cx="268.8" cy="291.0" r="0.44" fill="#333" opacity="0.74"/>
<circle cx="264.6" cy="292.6" r="0.34" fill="#333" opacity="0.59"/>
<circle cx="257.3" cy="295.6" r="0.36" fill="#333" opacity="0.47"/>
<circle cx="264.4" cy="295.6" r="0.35" fill="#333" opacity="0.53"/>
<circle cx="255.8" cy="286.3" r="0.33" fill="#333" opacity="0.63"/>
<circle cx="268.8" cy="293.0" r="0.45" fill="#333" opacity="0.75"/>
<circle cx="259.1" cy="284.5" r="0.47" fill="#333" opacity="0.34"/>
<circle cx="264.6" cy="288.8" r="0.49" fill="#333" opacity="0.57"/>
<circle cx="275.9" cy="302.0" r="0.51" fill="#333" opacity="0.55"/>
<circle cx="263.1" cy="290.1" r="0.34" fill="#333" opacity="0.65"/>
<circle cx="262.7" cy="295.2" r="0.35" fill="#333" opacity="0.79"/>
<circle cx="260.6" cy="288.7" r="0.43" fill="#333" opacity="0.75"/>
<circle cx="266.8" cy="296.4" r="0.42" fill="#333" opacity="0.46"/>
<circle cx="265.0" cy="294.5" r="0.45" fill="#333" opacity="0.65"/>
<circle cx="257.1" cy="291.4" r="0.41" fill="#333" opacity="0.44"/>
<circle cx="265.1" cy="294.4" r="0.40" fill="#333" opacity="0.66"/>
<circle cx="258.9" cy="295.0" r="0.37" fill="#333" opacity="0.38"/>
<circle cx="255.4" cy="290.3" r="0.42" fill="#333" opacity="0.63"/>
<circle cx="260.1" cy="291.8" r="0.33" fill="#333" opacity="0.44"/>
<circle cx="269.2" cy="289.4" r="0.51" fill="#333" opacity="0.43"/>
<circle cx="260.6" cy="291.2" r="0.47" fill="#333" opacity="0.45"/>
<circle cx="256.6" cy="300.4" r="0.34" fill="#333" opacity="0.54"/>
<circle cx="257.0" cy="289.7" r="0.49" fill="#333" opacity="0.69"/>
<circle cx="270.8" cy="287.7" r="0.33" fill="#333" opacity="0.65"/>
<circle cx="263.4" cy="297.7" r="0.44" fill="#333" opacity="0.54"/>
<circle cx="259.0" cy="289.1" r="0.45" fill="#333" opacity="0.56"/>
<circle cx="254.6" cy="294.1" r="0.36" fill="#333" opacity="0.65"/>
<circle cx="260.8" cy="284.4" r="0.35" fill="#333" opacity="0.45"/>
<circle cx="259.0" cy="286.3" r="0.49" fill="#333" opacity="0.58"/>
<circle cx="261.7" cy="292.4" r="0.42" fill="#333" opacity="0.65"/>
<circle cx="271.1" cy="289.0" r="0.42" fill="#333" opacity="0.49"/>
<circle cx="263.3" cy="291.9" r="0.43" fill="#333" opacity="0.31"/>
<circle cx="263.0" cy="289.5" r="0.39" fill="#333" opacity="0.32"/>
<circle cx="257.5" cy="292.2" r="0.52" fill="#333" opacity="0.75"/>
<circle cx="271.0" cy="290.5" r="0.45" fill="#333" opacity="0.38"/>
<circle cx="265.8" cy="290.1" r="0.49" fill="#333" opacity="0.44"/>
<circle cx="265.6" cy="293.0" r="0.48" fill="#333" opacity="0.63"/>
<circle cx="255.7" cy="284.0" r="0.44" fill="#333" opacity="0.67"/>
<circle cx="259.0" cy="295.6" r="0.37" fill="#333" opacity="0.72"/>
<circle cx="265.9" cy="300.8" r="0.43" fill="#333" opacity="0.68"/>
<circle cx="260.8" cy="294.2" r="0.49" fill="#333" opacity="0.43"/>
<circle cx="256.0" cy="295.9" r="0.40" fill="#333" opacity="0.48"/>
<circle cx="259.2" cy="285.1" r="0.34" fill="#333" opacity="0.74"/>
<circle cx="269.9" cy="290.3" r="0.46" fill="#333" opacity="0.54"/>
<circle cx="259.5" cy="297.2" r="0.43" fill="#333" opacity="0.74"/>
<circle cx="261.2" cy="295.3" r="0.33" fill="#333" opacity="0.48"/>
<circle cx="261.4" cy="293.6" r="0.46" fill="#333" opacity="0.57"/>
<circle cx="250.0" cy="293.3" r="0.42" fill="#333" opacity="0.43"/>
<circle cx="260.7" cy="289.3" r="0.36" fill="#333" opacity="0.64"/>
<circle cx="258.9" cy="297.4" r="0.39" fill="#333" opacity="0.77"/>
<circle cx="259.9" cy="290.5" r="0.50" fill="#333" opacity="0.79"/>
<circle cx="264.8" cy="298.2" r="0.38" fill="#333" opacity="0.56"/>
<circle cx="259.9" cy="289.4" r="0.34" fill="#333" opacity="0.48"/>
<circle cx="263.5" cy="289.1" r="0.33" fill="#333" opacity="0.55"/>
<circle cx="257.2" cy="285.2" r="0.51" fill="#333" opacity="0.68"/>
<circle cx="248.7" cy="294.4" r="0.39" fill="#333" opacity="0.44"/>
<circle cx="254.9" cy="290.8" r="0.51" fill="#333" opacity="0.33"/>
<circle cx="252.4" cy="282.8" r="0.49" fill="#333" opacity="0.73"/>
<circle cx="270.4" cy="297.4" r="0.33" fill="#333" opacity="0.78"/>
<circle cx="253.8" cy="284.3" r="0.45" fill="#333" opacity="0.49"/>
<circle cx="257.4" cy="278.1" r="0.41" fill="#333" opacity="0.60"/>
<circle cx="270.7" cy="296.5" r="0.43" fill="#333" opacity="0.73"/>
<circle cx="259.1" cy="297.3" r="0.50" fill="#333" opacity="0.46"/>
<circle cx="256.7" cy="290.0" r="0.32" fill="#333" opacity="0.69"/>
<circle cx="263.6" cy="289.4" r="0.45" fill="#333" opacity="0.63"/>
<circle cx="262.4" cy="286.2" r="0.33" fill="#333" opacity="0.34"/>
<circle cx="251.7" cy="288.9" r="0.50" fill="#333" opacity="0.48"/>
<circle cx="266.3" cy="278.5" r="0.41" fill="#333" opacity="0.79"/>
<circle cx="270.6" cy="298.1" r="0.36" fill="#333" opacity="0.62"/>
<circle cx="256.4" cy="296.6" r="0.33" fill="#333" opacity="0.58"/>
<circle cx="248.2" cy="282.9" r="0.47" fill="#333" opacity="0.38"/>
<circle cx="255.5" cy="289.3" r="0.47" fill="#333" opacity="0.78"/>
<circle cx="266.4" cy="296.3" r="0.49" fill="#333" opacity="0.70"/>
<circle cx="257.0" cy="287.7" r="0.51" fill="#333" opacity="0.66"/>
<circle cx="264.0" cy="297.5" r="0.43" fill="#333" opacity="0.71"/>
<circle cx="263.3" cy="294.6" r="0.48" fill="#333" opacity="0.61"/>
<circle cx="255.5" cy="289.5" r="0.45" fill="#333" opacity="0.39"/>
<circle cx="254.5" cy="286.9" r="0.39" fill="#333" opacity="0.46"/>
<circle cx="257.9" cy="291.3" r="0.49" fill="#333" opacity="0.69"/>
<circle cx="267.4" cy="296.8" r="0.38" fill="#333" opacity="0.80"/>
<circle cx="265.7" cy="293.9" r="0.33" fill="#333" opacity="0.33"/>
<circle cx="256.4" cy="292.2" r="0.39" fill="#333" opacity="0.34"/>
<circle cx="263.8" cy="286.9" r="0.51" fill="#333" opacity="0.48"/>
<circle cx="261.4" cy="291.2" r="0.40" fill="#333" opacity="0.73"/>
<circle cx="262.1" cy="295.1" r="0.43" fill="#333" opacity="0.62"/>
<circle cx="255.4" cy="291.7" r="0.41" fill="#333" opacity="0.53"/>
<circle cx="246.1" cy="290.7" r="0.51" fill="#333" opacity="0.44"/>
<circle cx="253.2" cy="288.8" r="0.43" fill="#333" opacity="0.54"/>
<circle cx="269.3" cy="295.5" r="0.35" fill="#333" opacity="0.37"/>
<circle cx="255.5" cy="281.7" r="0.42" fill="#333" opacity="0.70"/>
<circle cx="259.7" cy="291.9" r="0.41" fill="#333" opacity="0.33"/>
<circle cx="268.2" cy="294.7" r="0.51" fill="#333" opacity="0.37"/>
<circle cx="259.8" cy="289.6" r="0.50" fill="#333" opacity="0.32"/>
<circle cx="263.4" cy="287.7" r="0.45" fill="#333" opacity="0.37"/>
<circle cx="260.0" cy="287.2" r="0.37" fill="#333" opacity="0.51"/>
<circle cx="266.7" cy="292.8" r="0.47" fill="#333" opacity="0.52"/>
<circle cx="253.7" cy="298.1" r="0.40" fill="#333" opacity="0.50"/>
<circle cx="259.7" cy="295.0" r="0.42" fill="#333" opacity="0.44"/>
<circle cx="245.5" cy="281.9" r="0.51" fill="#333" opacity="0.40"/>
<circle cx="262.5" cy="295.1" r="0.35" fill="#333" opacity="0.57"/>
<circle cx="262.6" cy="290.5" r="0.39" fill="#333" opacity="0.66"/>
<circle cx="250.6" cy="289.3" r="0.33" fill="#333" opacity="0.64"/>
<circle cx="263.4" cy="283.5" r="0.39" fill="#333" opacity="0.76"/>
<circle cx="265.6" cy="302.6" r="0.38" fill="#333" opacity="0.52"/>
<circle cx="251.1" cy="292.6" r="0.38" fill="#333" opacity="0.57"/>
<circle cx="249.0" cy="285.2" r="0.38" fill="#333" opacity="0.63"/>
<circle cx="256.6" cy="289.1" r="0.40" fill="#333" opacity="0.65"/>
<circle cx="262.1" cy="297.6" r="0.38" fill="#333" opacity="0.53"/>
<circle cx="263.5" cy="294.3" r="0.43" fill="#333" opacity="0.66"/>
<circle cx="268.3" cy="291.4" r="0.45" fill="#333" opacity="0.51"/>
<circle cx="264.1" cy="291.3" r="0.34" fill="#333" opacity="0.36"/>
<circle cx="254.7" cy="287.9" r="0.35" fill="#333" opacity="0.39"/>
<circle cx="263.0" cy="295.6" r="0.36" fill="#333" opacity="0.63"/>
<circle cx="270.5" cy="293.9" r="0.39" fill="#333" opacity="0.75"/>
<circle cx="253.9" cy="286.1" r="0.37" fill="#333" opacity="0.42"/>
<circle cx="274.5" cy="290.3" r="0.36" fill="#333" opacity="0.37"/>
<circle cx="260.1" cy="289.8" r="0.46" fill="#333" opacity="0.59"/>
<circle cx="264.4" cy="291.4" r="0.37" fill="#333" opacity="0.71"/>
<circle cx="259.7" cy="293.7" r="0.46" fill="#333" opacity="0.51"/>
<circle cx="254.2" cy="286.2" r="0.44" fill="#333" opacity="0.63"/>
<circle cx="254.5" cy="288.5" r="0.41" fill="#333" opacity="0.35"/>
<circle cx="263.1" cy="299.9" r="0.39" fill="#333" opacity="0.77"/>
<circle cx="257.1" cy="287.6" r="0.39" fill="#333" opacity="0.62"/>
<circle cx="272.7" cy="288.2" r="0.34" fill="#333" opacity="0.69"/>
<circle cx="278.2" cy="295.9" r="0.49" fill="#333" opacity="0.49"/>
<circle cx="264.7" cy="296.4" r="0.39" fill="#333" opacity="0.56"/>
<circle cx="256.5" cy="289.7" r="0.37" fill="#333" opacity="0.40"/>
<circle cx="266.3" cy="283.0" r="0.35" fill="#333" opacity="0.64"/>
<circle cx="262.7" cy="297.8" r="0.42" fill="#333" opacity="0.78"/>
<circle cx="273.0" cy="297.5" r="0.51" fill="#333" opacity="0.74"/>
<circle cx="258.2" cy="290.4" r="0.51" fill="#333" opacity="0.72"/>
<circle cx="253.9" cy="288.4" r="0.32" fill="#333" opacity="0.36"/>
<circle cx="263.4" cy="289.7" r="0.52" fill="#333" opacity="0.74"/>
<circle cx="250.7" cy="300.2" r="0.44" fill="#333" opacity="0.61"/>
<circle cx="268.0" cy="297.0" r="0.41" fill="#333" opacity="0.51"/>
<circle cx="265.9" cy="300.2" r="0.35" fill="#333" opacity="0.57"/>
<circle cx="247.5" cy="287.9" r="0.37" fill="#333" opacity="0.36"/>
<circle cx="257.5" cy="300.4" r="0.49" fill="#333" opacity="0.59"/>
<circle cx="260.4" cy="292.8" r="0.50" fill="#333" opacity="0.45"/>
<circle cx="262.3" cy="293.5" r="0.44" fill="#333" opacity="0.44"/>
<circle cx="245.6" cy="290.4" r="0.49" fill="#333" opacity="0.40"/>
<circle cx="252.5" cy="292.6" r="0.45" fill="#333" opacity="0.58"/>
<circle cx="266.6" cy="296.9" r="0.39" fill="#333" opacity="0.34"/>
<circle cx="258.9" cy="289.4" r="0.42" fill="#333" opacity="0.56"/>
<circle cx="257.3" cy="286.0" r="0.48" fill="#333" opacity="0.40"/>
<circle cx="277.2" cy="314.6" r="0.29" fill="#333" opacity="0.37"/>
<circle cx="274.9" cy="303.8" r="0.24" fill="#333" opacity="0.39"/>
<circle cx="274.1" cy="307.7" r="0.27" fill="#333" opacity="0.40"/>
<circle cx="280.8" cy="313.9" r="0.31" fill="#333" opacity="0.20"/>
<circle cx="273.3" cy="309.4" r="0.25" fill="#333" opacity="0.41"/>
<circle cx="267.2" cy="313.4" r="0.20" fill="#333" opacity="0.37"/>
<circle cx="272.5" cy="315.6" r="0.30" fill="#333" opacity="0.40"/>
<circle cx="272.1" cy="313.9" r="0.26" fill="#333" opacity="0.32"/>
<circle cx="282.8" cy="311.9" r="0.29" fill="#333" opacity="0.41"/>
<circle cx="271.6" cy="306.2" r="0.21" fill="#333" opacity="0.33"/>
<circle cx="275.3" cy="313.7" r="0.25" fill="#333" opacity="0.36"/>
<circle cx="280.2" cy="302.2" r="0.25" fill="#333" opacity="0.22"/>
<circle cx="272.7" cy="316.6" r="0.24" fill="#333" opacity="0.46"/>
<circle cx="272.5" cy="307.8" r="0.27" fill="#333" opacity="0.46"/>
<circle cx="281.1" cy="310.5" r="0.33" fill="#333" opacity="0.24"/>
<circle cx="278.8" cy="316.7" r="0.30" fill="#333" opacity="0.15"/>
<circle cx="275.8" cy="309.0" r="0.37" fill="#333" opacity="0.37"/>
<circle cx="279.3" cy="317.8" r="0.22" fill="#333" opacity="0.33"/>
<circle cx="264.1" cy="295.7" r="0.29" fill="#333" opacity="0.38"/>
<circle cx="271.4" cy="301.8" r="0.25" fill="#333" opacity="0.47"/>
<circle cx="284.2" cy="309.0" r="0.31" fill="#333" opacity="0.18"/>
<circle cx="268.2" cy="311.3" r="0.35" fill="#333" opacity="0.46"/>
<circle cx="282.1" cy="311.5" r="0.25" fill="#333" opacity="0.40"/>
<circle cx="272.7" cy="310.2" r="0.35" fill="#333" opacity="0.46"/>
<circle cx="274.1" cy="310.8" r="0.21" fill="#333" opacity="0.44"/>
<circle cx="272.4" cy="306.9" r="0.24" fill="#333" opacity="0.43"/>
<circle cx="273.6" cy="304.8" r="0.32" fill="#333" opacity="0.31"/>
<circle cx="271.5" cy="299.8" r="0.36" fill="#333" opacity="0.43"/>
<circle cx="269.8" cy="291.8" r="0.38" fill="#333" opacity="0.49"/>
<circle cx="275.4" cy="320.0" r="0.30" fill="#333" opacity="0.41"/>
<circle cx="270.7" cy="319.5" r="0.32" fill="#333" opacity="0.29"/>
<circle cx="275.8" cy="297.3" r="0.29" fill="#333" opacity="0.33"/>
<circle cx="272.2" cy="306.0" r="0.24" fill="#333" opacity="0.24"/>
<circle cx="280.9" cy="297.0" r="0.35" fill="#333" opacity="0.45"/>
<circle cx="277.7" cy="306.4" r="0.33" fill="#333" opacity="0.39"/>
<circle cx="275.6" cy="298.6" r="0.29" fill="#333" opacity="0.35"/>
<circle cx="276.4" cy="297.2" r="0.32" fill="#333" opacity="0.15"/>
<circle cx="272.0" cy="311.7" r="0.28" fill="#333" opacity="0.49"/>
<circle cx="274.6" cy="298.4" r="0.24" fill="#333" opacity="0.31"/>
<circle cx="267.4" cy="306.5" r="0.21" fill="#333" opacity="0.24"/>
<circle cx="275.6" cy="309.1" r="0.35" fill="#333" opacity="0.16"/>
<circle cx="273.6" cy="310.0" r="0.34" fill="#333" opacity="0.43"/>
<circle cx="275.4" cy="306.2" r="0.36" fill="#333" opacity="0.24"/>
<circle cx="276.2" cy="305.1" r="0.37" fill="#333" opacity="0.28"/>
<circle cx="280.6" cy="317.5" r="0.28" fill="#333" opacity="0.48"/>
<circle cx="272.2" cy="302.5" r="0.30" fill="#333" opacity="0.39"/>
<circle cx="270.4" cy="304.3" r="0.22" fill="#333" opacity="0.15"/>
<circle cx="278.5" cy="305.5" r="0.25" fill="#333" opacity="0.19"/>
<circle cx="270.8" cy="307.6" r="0.35" fill="#333" opacity="0.24"/>
<circle cx="271.4" cy="315.8" r="0.37" fill="#333" opacity="0.39"/>
<circle cx="280.4" cy="315.6" r="0.23" fill="#333" opacity="0.40"/>
<circle cx="279.5" cy="302.6" r="0.26" fill="#333" opacity="0.33"/>
<circle cx="271.5" cy="307.7" r="0.21" fill="#333" opacity="0.44"/>
<circle cx="276.6" cy="310.6" r="0.34" fill="#333" opacity="0.35"/>
<circle cx="267.3" cy="306.5" r="0.32" fill="#333" opacity="0.27"/>
<circle cx="275.9" cy="305.2" r="0.22" fill="#333" opacity="0.26"/>
<circle cx="272.6" cy="295.6" r="0.33" fill="#333" opacity="0.35"/>
<circle cx="268.4" cy="312.1" r="0.22" fill="#333" opacity="0.23"/>
<circle cx="277.3" cy="314.9" r="0.29" fill="#333" opacity="0.16"/>
<circle cx="269.1" cy="308.9" r="0.21" fill="#333" opacity="0.31"/>
<circle cx="272.5" cy="311.5" r="0.22" fill="#333" opacity="0.46"/>
<circle cx="276.4" cy="303.1" r="0.22" fill="#333" opacity="0.41"/>
<circle cx="273.2" cy="311.9" r="0.34" fill="#333" opacity="0.26"/>
<circle cx="269.7" cy="311.2" r="0.30" fill="#333" opacity="0.50"/>
<circle cx="273.1" cy="317.9" r="0.31" fill="#333" opacity="0.29"/>
<circle cx="274.5" cy="309.1" r="0.38" fill="#333" opacity="0.24"/>
<circle cx="277.6" cy="307.1" r="0.37" fill="#333" opacity="0.26"/>
<circle cx="265.5" cy="305.2" r="0.28" fill="#333" opacity="0.26"/>
<circle cx="275.8" cy="311.5" r="0.32" fill="#333" opacity="0.46"/>
<circle cx="276.3" cy="313.0" r="0.32" fill="#333" opacity="0.21"/>
<circle cx="276.3" cy="301.4" r="0.38" fill="#333" opacity="0.40"/>
<circle cx="278.0" cy="310.1" r="0.29" fill="#333" opacity="0.45"/>
<circle cx="272.8" cy="309.1" r="0.22" fill="#333" opacity="0.36"/>
<circle cx="275.0" cy="324.5" r="0.34" fill="#333" opacity="0.42"/>
<circle cx="272.9" cy="311.3" r="0.32" fill="#333" opacity="0.17"/>
<circle cx="273.2" cy="307.2" r="0.29" fill="#333" opacity="0.24"/>
<circle cx="269.7" cy="308.6" r="0.31" fill="#333" opacity="0.29"/>
<circle cx="279.7" cy="313.3" r="0.28" fill="#333" opacity="0.34"/>
<circle cx="274.9" cy="320.7" r="0.31" fill="#333" opacity="0.46"/>
<circle cx="267.3" cy="299.3" r="0.25" fill="#333" opacity="0.25"/>
<circle cx="272.7" cy="306.4" r="0.23" fill="#333" opacity="0.19"/>
<circle cx="279.0" cy="319.2" r="0.35" fill="#333" opacity="0.47"/>
<circle cx="275.0" cy="306.5" r="0.22" fill="#333" opacity="0.28"/>
<circle cx="273.0" cy="312.4" r="0.36" fill="#333" opacity="0.45"/>
<circle cx="268.5" cy="313.3" r="0.38" fill="#333" opacity="0.50"/>
<circle cx="268.8" cy="305.5" r="0.25" fill="#333" opacity="0.17"/>
<circle cx="274.2" cy="303.0" r="0.24" fill="#333" opacity="0.33"/>
<circle cx="271.6" cy="304.6" r="0.20" fill="#333" opacity="0.24"/>
<circle cx="271.0" cy="311.2" r="0.29" fill="#333" opacity="0.39"/>
<circle cx="273.2" cy="305.3" r="0.23" fill="#333" opacity="0.19"/>
<circle cx="275.5" cy="305.1" r="0.26" fill="#333" opacity="0.18"/>
<circle cx="274.7" cy="322.7" r="0.22" fill="#333" opacity="0.19"/>
<circle cx="278.3" cy="307.8" r="0.34" fill="#333" opacity="0.46"/>
<circle cx="275.8" cy="308.2" r="0.21" fill="#333" opacity="0.43"/>
<circle cx="277.0" cy="307.2" r="0.35" fill="#333" opacity="0.38"/>
<circle cx="281.3" cy="310.7" r="0.25" fill="#333" opacity="0.44"/>
<circle cx="280.0" cy="318.9" r="0.21" fill="#333" opacity="0.17"/>
<circle cx="276.9" cy="308.8" r="0.37" fill="#333" opacity="0.23"/>
<circle cx="274.5" cy="311.6" r="0.36" fill="#333" opacity="0.41"/>
<circle cx="272.0" cy="310.8" r="0.21" fill="#333" opacity="0.18"/>
<circle cx="273.2" cy="300.5" r="0.32" fill="#333" opacity="0.20"/>
<circle cx="281.1" cy="304.7" r="0.32" fill="#333" opacity="0.39"/>
<circle cx="281.3" cy="322.8" r="0.24" fill="#333" opacity="0.32"/>
<circle cx="277.6" cy="302.5" r="0.24" fill="#333" opacity="0.45"/>
<circle cx="272.7" cy="308.6" r="0.31" fill="#333" opacity="0.39"/>
<circle cx="274.8" cy="313.9" r="0.31" fill="#333" opacity="0.17"/>
<circle cx="278.3" cy="318.3" r="0.36" fill="#333" opacity="0.42"/>
<circle cx="274.3" cy="320.7" r="0.29" fill="#333" opacity="0.36"/>
<circle cx="268.0" cy="303.9" r="0.29" fill="#333" opacity="0.41"/>
<circle cx="282.2" cy="315.4" r="0.30" fill="#333" opacity="0.25"/>
</g>
<rect x="228.6" y="256.3" width="78.10" height="78.40" fill="none" stroke="#0a0a0a" stroke-width="1.1"/>
<line x1="228.40" y1="256.30" x2="228.40" y2="334.70" stroke="#0a0a0a" stroke-width="1.5" />
<line x1="228.60" y1="334.80" x2="306.70" y2="334.80" stroke="#0a0a0a" stroke-width="1.3" />
<line x1="259.50" y1="256.30" x2="259.50" y2="334.70" stroke="#4a4a4a" stroke-width="0.75" />
<line x1="228.60" y1="302.60" x2="306.70" y2="302.60" stroke="#4a4a4a" stroke-width="0.75" />
<line x1="225.00" y1="329.70" x2="228.60" y2="329.70" stroke="#0a0a0a" stroke-width="1.0" />
<line x1="226.50" y1="322.57" x2="228.60" y2="322.57" stroke="#0a0a0a" stroke-width="0.8" />
<line x1="226.50" y1="318.39" x2="228.60" y2="318.39" stroke="#0a0a0a" stroke-width="0.8" />
<line x1="226.50" y1="315.43" x2="228.60" y2="315.43" stroke="#0a0a0a" stroke-width="0.8" />
<line x1="226.50" y1="313.13" x2="228.60" y2="313.13" stroke="#0a0a0a" stroke-width="0.8" />
<line x1="226.50" y1="311.26" x2="228.60" y2="311.26" stroke="#0a0a0a" stroke-width="0.8" />
<line x1="226.50" y1="309.67" x2="228.60" y2="309.67" stroke="#0a0a0a" stroke-width="0.8" />
<line x1="226.50" y1="308.30" x2="228.60" y2="308.30" stroke="#0a0a0a" stroke-width="0.8" />
<line x1="226.50" y1="307.08" x2="228.60" y2="307.08" stroke="#0a0a0a" stroke-width="0.8" />
<line x1="225.00" y1="306.00" x2="228.60" y2="306.00" stroke="#0a0a0a" stroke-width="1.0" />
<line x1="226.50" y1="298.87" x2="228.60" y2="298.87" stroke="#0a0a0a" stroke-width="0.8" />
<line x1="226.50" y1="294.69" x2="228.60" y2="294.69" stroke="#0a0a0a" stroke-width="0.8" />
<line x1="226.50" y1="291.73" x2="228.60" y2="291.73" stroke="#0a0a0a" stroke-width="0.8" />
<line x1="226.50" y1="289.43" x2="228.60" y2="289.43" stroke="#0a0a0a" stroke-width="0.8" />
<line x1="226.50" y1="287.56" x2="228.60" y2="287.56" stroke="#0a0a0a" stroke-width="0.8" />
<line x1="226.50" y1="285.97" x2="228.60" y2="285.97" stroke="#0a0a0a" stroke-width="0.8" />
<line x1="226.50" y1="284.60" x2="228.60" y2="284.60" stroke="#0a0a0a" stroke-width="0.8" />
<line x1="226.50" y1="283.38" x2="228.60" y2="283.38" stroke="#0a0a0a" stroke-width="0.8" />
<line x1="225.00" y1="282.30" x2="228.60" y2="282.30" stroke="#0a0a0a" stroke-width="1.0" />
<line x1="226.50" y1="275.17" x2="228.60" y2="275.17" stroke="#0a0a0a" stroke-width="0.8" />
<line x1="226.50" y1="270.99" x2="228.60" y2="270.99" stroke="#0a0a0a" stroke-width="0.8" />
<line x1="226.50" y1="268.03" x2="228.60" y2="268.03" stroke="#0a0a0a" stroke-width="0.8" />
<line x1="226.50" y1="265.73" x2="228.60" y2="265.73" stroke="#0a0a0a" stroke-width="0.8" />
<line x1="226.50" y1="263.86" x2="228.60" y2="263.86" stroke="#0a0a0a" stroke-width="0.8" />
<line x1="226.50" y1="262.27" x2="228.60" y2="262.27" stroke="#0a0a0a" stroke-width="0.8" />
<line x1="226.50" y1="260.90" x2="228.60" y2="260.90" stroke="#0a0a0a" stroke-width="0.8" />
<line x1="226.50" y1="259.68" x2="228.60" y2="259.68" stroke="#0a0a0a" stroke-width="0.8" />
<line x1="225.00" y1="258.60" x2="228.60" y2="258.60" stroke="#0a0a0a" stroke-width="1.0" />
<line x1="233.20" y1="334.70" x2="233.20" y2="338.30" stroke="#0a0a0a" stroke-width="1.0" />
<line x1="240.30" y1="334.70" x2="240.30" y2="336.80" stroke="#0a0a0a" stroke-width="0.8" />
<line x1="244.46" y1="334.70" x2="244.46" y2="336.80" stroke="#0a0a0a" stroke-width="0.8" />
<line x1="247.41" y1="334.70" x2="247.41" y2="336.80" stroke="#0a0a0a" stroke-width="0.8" />
<line x1="249.70" y1="334.70" x2="249.70" y2="336.80" stroke="#0a0a0a" stroke-width="0.8" />
<line x1="251.56" y1="334.70" x2="251.56" y2="336.80" stroke="#0a0a0a" stroke-width="0.8" />
<line x1="253.14" y1="334.70" x2="253.14" y2="336.80" stroke="#0a0a0a" stroke-width="0.8" />
<line x1="254.51" y1="334.70" x2="254.51" y2="336.80" stroke="#0a0a0a" stroke-width="0.8" />
<line x1="255.72" y1="334.70" x2="255.72" y2="336.80" stroke="#0a0a0a" stroke-width="0.8" />
<line x1="256.80" y1="334.70" x2="256.80" y2="338.30" stroke="#0a0a0a" stroke-width="1.0" />
<line x1="263.90" y1="334.70" x2="263.90" y2="336.80" stroke="#0a0a0a" stroke-width="0.8" />
<line x1="268.06" y1="334.70" x2="268.06" y2="336.80" stroke="#0a0a0a" stroke-width="0.8" />
<line x1="271.01" y1="334.70" x2="271.01" y2="336.80" stroke="#0a0a0a" stroke-width="0.8" />
<line x1="273.30" y1="334.70" x2="273.30" y2="336.80" stroke="#0a0a0a" stroke-width="0.8" />
<line x1="275.16" y1="334.70" x2="275.16" y2="336.80" stroke="#0a0a0a" stroke-width="0.8" />
<line x1="276.74" y1="334.70" x2="276.74" y2="336.80" stroke="#0a0a0a" stroke-width="0.8" />
<line x1="278.11" y1="334.70" x2="278.11" y2="336.80" stroke="#0a0a0a" stroke-width="0.8" />
<line x1="279.32" y1="334.70" x2="279.32" y2="336.80" stroke="#0a0a0a" stroke-width="0.8" />
<line x1="280.40" y1="334.70" x2="280.40" y2="338.30" stroke="#0a0a0a" stroke-width="1.0" />
<line x1="287.50" y1="334.70" x2="287.50" y2="336.80" stroke="#0a0a0a" stroke-width="0.8" />
<line x1="291.66" y1="334.70" x2="291.66" y2="336.80" stroke="#0a0a0a" stroke-width="0.8" />
<line x1="294.61" y1="334.70" x2="294.61" y2="336.80" stroke="#0a0a0a" stroke-width="0.8" />
<line x1="296.90" y1="334.70" x2="296.90" y2="336.80" stroke="#0a0a0a" stroke-width="0.8" />
<line x1="298.76" y1="334.70" x2="298.76" y2="336.80" stroke="#0a0a0a" stroke-width="0.8" />
<line x1="300.34" y1="334.70" x2="300.34" y2="336.80" stroke="#0a0a0a" stroke-width="0.8" />
<line x1="301.71" y1="334.70" x2="301.71" y2="336.80" stroke="#0a0a0a" stroke-width="0.8" />
<line x1="302.92" y1="334.70" x2="302.92" y2="336.80" stroke="#0a0a0a" stroke-width="0.8" />
<line x1="304.00" y1="334.70" x2="304.00" y2="338.30" stroke="#0a0a0a" stroke-width="1.0" />
<rect x="225.79999999999998" y="313.1" width="2.8" height="2.6" fill="#111"/>
<rect x="246.2" y="334.7" width="3.4" height="2.0" fill="#111"/>
<text x="233.20" y="267.40" font-size="7.2" textLength="18.40" lengthAdjust="spacingAndGlyphs" fill="#1c1c1c" stroke="#1c1c1c" stroke-width="0.28">10.5%</text>
<text x="285.00" y="267.40" font-size="7.2" textLength="14.80" lengthAdjust="spacingAndGlyphs" fill="#1c1c1c" stroke="#1c1c1c" stroke-width="0.28">4.3%</text>
<text x="233.20" y="329.40" font-size="7.2" textLength="19.00" lengthAdjust="spacingAndGlyphs" fill="#1c1c1c" stroke="#1c1c1c" stroke-width="0.28">64.5%</text>
<text x="280.10" y="330.00" font-size="7.2" textLength="18.60" lengthAdjust="spacingAndGlyphs" fill="#1c1c1c" stroke="#1c1c1c" stroke-width="0.28">20.7%</text>
<text x="221.00" y="306.80" font-size="9" textLength="22.40" lengthAdjust="spacingAndGlyphs" transform="rotate(-90 221.00 306.80)" fill="#1c1c1c" stroke="#1c1c1c" stroke-width="0.28">CD95</text>
<text x="232.50" y="349.10" font-size="9" textLength="18.40" lengthAdjust="spacingAndGlyphs" fill="#1c1c1c" stroke="#1c1c1c" stroke-width="0.28">IL-33</text>
<line x1="255.00" y1="345.80" x2="303.00" y2="345.80" stroke="#0a0a0a" stroke-width="0.9" />
<path d="M306.6 345.8L301.2 343.8L302.3 345.8L301.2 347.8Z" fill="#0a0a0a" stroke="none" stroke-width="0.8" />
<text x="321.40" y="29.40" font-size="7.4" textLength="6.60" lengthAdjust="spacingAndGlyphs" fill="#1c1c1c" stroke="#1c1c1c" stroke-width="0.28">%</text>
<line x1="347.10" y1="33.10" x2="347.10" y2="114.50" stroke="#0a0a0a" stroke-width="1.35" />
<line x1="344.10" y1="114.00" x2="347.10" y2="114.00" stroke="#0a0a0a" stroke-width="1.0" />
<text x="340.50" y="116.59" font-size="7.2" text-anchor="end" textLength="3.95" lengthAdjust="spacingAndGlyphs" fill="#1c1c1c" stroke="#1c1c1c" stroke-width="0.28">0</text>
<line x1="344.10" y1="94.40" x2="347.10" y2="94.40" stroke="#0a0a0a" stroke-width="1.0" />
<text x="340.50" y="96.99" font-size="7.2" text-anchor="end" textLength="7.90" lengthAdjust="spacingAndGlyphs" fill="#1c1c1c" stroke="#1c1c1c" stroke-width="0.28">20</text>
<line x1="344.10" y1="74.80" x2="347.10" y2="74.80" stroke="#0a0a0a" stroke-width="1.0" />
<text x="340.50" y="77.39" font-size="7.2" text-anchor="end" textLength="7.90" lengthAdjust="spacingAndGlyphs" fill="#1c1c1c" stroke="#1c1c1c" stroke-width="0.28">40</text>
<line x1="344.10" y1="55.20" x2="347.10" y2="55.20" stroke="#0a0a0a" stroke-width="1.0" />
<text x="340.50" y="57.79" font-size="7.2" text-anchor="end" textLength="7.90" lengthAdjust="spacingAndGlyphs" fill="#1c1c1c" stroke="#1c1c1c" stroke-width="0.28">60</text>
<line x1="344.10" y1="35.60" x2="347.10" y2="35.60" stroke="#0a0a0a" stroke-width="1.0" />
<text x="340.50" y="38.19" font-size="7.2" text-anchor="end" textLength="7.90" lengthAdjust="spacingAndGlyphs" fill="#1c1c1c" stroke="#1c1c1c" stroke-width="0.28">80</text>
<line x1="346.60" y1="114.00" x2="401.90" y2="114.00" stroke="#0a0a0a" stroke-width="1.35" />
<line x1="359.50" y1="114.00" x2="359.50" y2="117.00" stroke="#0a0a0a" stroke-width="1.0" />
<line x1="385.40" y1="114.00" x2="385.40" y2="117.00" stroke="#0a0a0a" stroke-width="1.0" />
<line x1="398.90" y1="114.00" x2="398.90" y2="117.00" stroke="#0a0a0a" stroke-width="1.0" />
<rect x="352.60" y="76.00" width="14.30" height="38.00" fill="#a50026" />
<line x1="359.75" y1="76.00" x2="359.75" y2="71.30" stroke="#0a0a0a" stroke-width="0.8" />
<line x1="358.45" y1="71.30" x2="361.05" y2="71.30" stroke="#0a0a0a" stroke-width="0.8" />
<rect x="378.50" y="46.00" width="14.00" height="68.00" fill="#2d4a7c" />
<line x1="385.50" y1="46.00" x2="385.50" y2="43.20" stroke="#0a0a0a" stroke-width="0.8" />
<line x1="384.20" y1="43.20" x2="386.80" y2="43.20" stroke="#0a0a0a" stroke-width="0.8" />
<path d="M358.90 40.10V38.10Q358.90 37.50 359.50 37.50H385.10Q385.70 37.50 385.70 38.10V40.10" fill="none" stroke="#0a0a0a" stroke-width="0.95" />
<text x="369.90" y="38.23" font-size="6.4" textLength="5.4" lengthAdjust="spacing" fill="#1c1c1c" stroke="#1c1c1c" stroke-width="0.3">**</text>
<text x="325.90" y="100.00" font-size="9" textLength="53.60" lengthAdjust="spacingAndGlyphs" transform="rotate(-90 325.90 100.00)" fill="#1c1c1c" stroke="#1c1c1c" stroke-width="0.28">CD80<tspan font-size="5.6" dy="-3">+</tspan><tspan dy="3"> B cells</tspan></text>
<text x="347.20" y="127.70" font-size="7.6" textLength="16.20" lengthAdjust="spacingAndGlyphs" fill="#1c1c1c" stroke="#1c1c1c" stroke-width="0.28">IL-33</text>
<text x="364.00" y="124.50" font-size="5.2" textLength="7.80" lengthAdjust="spacingAndGlyphs" fill="#1c1c1c" stroke="#1c1c1c" stroke-width="0.28">low</text>
<text x="378.10" y="127.70" font-size="7.6" textLength="16.40" lengthAdjust="spacingAndGlyphs" fill="#1c1c1c" stroke="#1c1c1c" stroke-width="0.28">IL-33</text>
<text x="395.10" y="124.50" font-size="5.2" textLength="10.20" lengthAdjust="spacingAndGlyphs" fill="#1c1c1c" stroke="#1c1c1c" stroke-width="0.28">high</text>
<text x="321.40" y="139.60" font-size="7.4" textLength="6.60" lengthAdjust="spacingAndGlyphs" fill="#1c1c1c" stroke="#1c1c1c" stroke-width="0.28">%</text>
<line x1="347.10" y1="143.20" x2="347.10" y2="224.50" stroke="#0a0a0a" stroke-width="1.35" />
<line x1="344.10" y1="224.00" x2="347.10" y2="224.00" stroke="#0a0a0a" stroke-width="1.0" />
<text x="340.50" y="226.59" font-size="7.2" text-anchor="end" textLength="3.95" lengthAdjust="spacingAndGlyphs" fill="#1c1c1c" stroke="#1c1c1c" stroke-width="0.28">0</text>
<line x1="344.10" y1="204.45" x2="347.10" y2="204.45" stroke="#0a0a0a" stroke-width="1.0" />
<text x="340.50" y="207.04" font-size="7.2" text-anchor="end" textLength="7.90" lengthAdjust="spacingAndGlyphs" fill="#1c1c1c" stroke="#1c1c1c" stroke-width="0.28">10</text>
<line x1="344.10" y1="184.90" x2="347.10" y2="184.90" stroke="#0a0a0a" stroke-width="1.0" />
<text x="340.50" y="187.49" font-size="7.2" text-anchor="end" textLength="7.90" lengthAdjust="spacingAndGlyphs" fill="#1c1c1c" stroke="#1c1c1c" stroke-width="0.28">20</text>
<line x1="344.10" y1="165.35" x2="347.10" y2="165.35" stroke="#0a0a0a" stroke-width="1.0" />
<text x="340.50" y="167.94" font-size="7.2" text-anchor="end" textLength="7.90" lengthAdjust="spacingAndGlyphs" fill="#1c1c1c" stroke="#1c1c1c" stroke-width="0.28">30</text>
<line x1="344.10" y1="145.80" x2="347.10" y2="145.80" stroke="#0a0a0a" stroke-width="1.0" />
<text x="340.50" y="148.39" font-size="7.2" text-anchor="end" textLength="7.90" lengthAdjust="spacingAndGlyphs" fill="#1c1c1c" stroke="#1c1c1c" stroke-width="0.28">40</text>
<line x1="346.60" y1="224.00" x2="401.90" y2="224.00" stroke="#0a0a0a" stroke-width="1.35" />
<line x1="359.50" y1="224.00" x2="359.50" y2="227.00" stroke="#0a0a0a" stroke-width="1.0" />
<line x1="385.40" y1="224.00" x2="385.40" y2="227.00" stroke="#0a0a0a" stroke-width="1.0" />
<line x1="398.90" y1="224.00" x2="398.90" y2="227.00" stroke="#0a0a0a" stroke-width="1.0" />
<rect x="352.60" y="210.30" width="14.30" height="13.70" fill="#a50026" />
<line x1="359.75" y1="210.30" x2="359.75" y2="208.20" stroke="#0a0a0a" stroke-width="0.8" />
<line x1="358.45" y1="208.20" x2="361.05" y2="208.20" stroke="#0a0a0a" stroke-width="0.8" />
<rect x="378.50" y="155.70" width="14.00" height="68.30" fill="#2d4a7c" />
<line x1="385.50" y1="155.70" x2="385.50" y2="153.30" stroke="#0a0a0a" stroke-width="0.8" />
<line x1="384.20" y1="153.30" x2="386.80" y2="153.30" stroke="#0a0a0a" stroke-width="0.8" />
<path d="M358.90 149.80V147.80Q358.90 147.20 359.50 147.20H385.10Q385.70 147.20 385.70 147.80V149.80" fill="none" stroke="#0a0a0a" stroke-width="0.95" />
<text x="368.45" y="147.93" font-size="6.4" textLength="8.3" lengthAdjust="spacing" fill="#1c1c1c" stroke="#1c1c1c" stroke-width="0.3">***</text>
<text x="325.90" y="210.80" font-size="9" textLength="53.60" lengthAdjust="spacingAndGlyphs" transform="rotate(-90 325.90 210.80)" fill="#1c1c1c" stroke="#1c1c1c" stroke-width="0.28">CD86<tspan font-size="5.6" dy="-3">+</tspan><tspan dy="3"> B cells</tspan></text>
<text x="347.20" y="237.60" font-size="7.6" textLength="16.20" lengthAdjust="spacingAndGlyphs" fill="#1c1c1c" stroke="#1c1c1c" stroke-width="0.28">IL-33</text>
<text x="364.00" y="234.40" font-size="5.2" textLength="7.80" lengthAdjust="spacingAndGlyphs" fill="#1c1c1c" stroke="#1c1c1c" stroke-width="0.28">low</text>
<text x="378.10" y="237.60" font-size="7.6" textLength="16.40" lengthAdjust="spacingAndGlyphs" fill="#1c1c1c" stroke="#1c1c1c" stroke-width="0.28">IL-33</text>
<text x="395.10" y="234.40" font-size="5.2" textLength="10.20" lengthAdjust="spacingAndGlyphs" fill="#1c1c1c" stroke="#1c1c1c" stroke-width="0.28">high</text>
<text x="321.40" y="249.60" font-size="7.4" textLength="6.60" lengthAdjust="spacingAndGlyphs" fill="#1c1c1c" stroke="#1c1c1c" stroke-width="0.28">%</text>
<line x1="347.10" y1="253.30" x2="347.10" y2="334.40" stroke="#0a0a0a" stroke-width="1.35" />
<line x1="344.10" y1="333.90" x2="347.10" y2="333.90" stroke="#0a0a0a" stroke-width="1.0" />
<text x="340.50" y="336.49" font-size="7.2" text-anchor="end" textLength="3.95" lengthAdjust="spacingAndGlyphs" fill="#1c1c1c" stroke="#1c1c1c" stroke-width="0.28">0</text>
<line x1="344.10" y1="314.45" x2="347.10" y2="314.45" stroke="#0a0a0a" stroke-width="1.0" />
<text x="340.50" y="317.04" font-size="7.2" text-anchor="end" textLength="3.95" lengthAdjust="spacingAndGlyphs" fill="#1c1c1c" stroke="#1c1c1c" stroke-width="0.28">5</text>
<line x1="344.10" y1="295.00" x2="347.10" y2="295.00" stroke="#0a0a0a" stroke-width="1.0" />
<text x="340.50" y="297.59" font-size="7.2" text-anchor="end" textLength="7.90" lengthAdjust="spacingAndGlyphs" fill="#1c1c1c" stroke="#1c1c1c" stroke-width="0.28">10</text>
<line x1="344.10" y1="275.55" x2="347.10" y2="275.55" stroke="#0a0a0a" stroke-width="1.0" />
<text x="340.50" y="278.14" font-size="7.2" text-anchor="end" textLength="7.90" lengthAdjust="spacingAndGlyphs" fill="#1c1c1c" stroke="#1c1c1c" stroke-width="0.28">15</text>
<line x1="344.10" y1="256.10" x2="347.10" y2="256.10" stroke="#0a0a0a" stroke-width="1.0" />
<text x="340.50" y="258.69" font-size="7.2" text-anchor="end" textLength="7.90" lengthAdjust="spacingAndGlyphs" fill="#1c1c1c" stroke="#1c1c1c" stroke-width="0.28">20</text>
<line x1="346.60" y1="333.90" x2="401.90" y2="333.90" stroke="#0a0a0a" stroke-width="1.35" />
<line x1="359.50" y1="333.90" x2="359.50" y2="336.90" stroke="#0a0a0a" stroke-width="1.0" />
<line x1="385.40" y1="333.90" x2="385.40" y2="336.90" stroke="#0a0a0a" stroke-width="1.0" />
<line x1="398.90" y1="333.90" x2="398.90" y2="336.90" stroke="#0a0a0a" stroke-width="1.0" />
<rect x="352.60" y="279.80" width="14.30" height="54.10" fill="#a50026" />
<line x1="359.75" y1="279.80" x2="359.75" y2="273.20" stroke="#0a0a0a" stroke-width="0.8" />
<line x1="358.45" y1="273.20" x2="361.05" y2="273.20" stroke="#0a0a0a" stroke-width="0.8" />
<rect x="378.50" y="267.00" width="14.00" height="66.90" fill="#2d4a7c" />
<line x1="385.50" y1="267.00" x2="385.50" y2="264.20" stroke="#0a0a0a" stroke-width="0.8" />
<line x1="384.20" y1="264.20" x2="386.80" y2="264.20" stroke="#0a0a0a" stroke-width="0.8" />
<path d="M358.90 260.40V258.40Q358.90 257.80 359.50 257.80H385.10Q385.70 257.80 385.70 258.40V260.40" fill="none" stroke="#0a0a0a" stroke-width="0.95" />
<text x="372.40" y="256.00" font-size="7" text-anchor="middle" textLength="10.20" lengthAdjust="spacingAndGlyphs" fill="#1c1c1c" stroke="#1c1c1c" stroke-width="0.28">n.s.</text>
<text x="325.90" y="320.40" font-size="9" textLength="53.60" lengthAdjust="spacingAndGlyphs" transform="rotate(-90 325.90 320.40)" fill="#1c1c1c" stroke="#1c1c1c" stroke-width="0.28">CD95<tspan font-size="5.6" dy="-3">+</tspan><tspan dy="3"> B cells</tspan></text>
<text x="347.20" y="347.40" font-size="7.6" textLength="16.20" lengthAdjust="spacingAndGlyphs" fill="#1c1c1c" stroke="#1c1c1c" stroke-width="0.28">IL-33</text>
<text x="364.00" y="344.20" font-size="5.2" textLength="7.80" lengthAdjust="spacingAndGlyphs" fill="#1c1c1c" stroke="#1c1c1c" stroke-width="0.28">low</text>
<text x="378.10" y="347.40" font-size="7.6" textLength="16.40" lengthAdjust="spacingAndGlyphs" fill="#1c1c1c" stroke="#1c1c1c" stroke-width="0.28">IL-33</text>
<text x="395.10" y="344.20" font-size="5.2" textLength="10.20" lengthAdjust="spacingAndGlyphs" fill="#1c1c1c" stroke="#1c1c1c" stroke-width="0.28">high</text>
<text x="418.10" y="28.70" font-size="7.6" textLength="14.20" lengthAdjust="spacingAndGlyphs" fill="#1c1c1c" stroke="#1c1c1c" stroke-width="0.28">×10</text>
<text x="433.00" y="25.70" font-size="5.4" textLength="3.10" lengthAdjust="spacingAndGlyphs" fill="#1c1c1c" stroke="#1c1c1c" stroke-width="0.28">3</text>
<line x1="456.00" y1="32.30" x2="456.00" y2="114.30" stroke="#0a0a0a" stroke-width="1.35" />
<line x1="453.00" y1="113.80" x2="456.00" y2="113.80" stroke="#0a0a0a" stroke-width="1.0" />
<text x="449.40" y="116.39" font-size="7.2" text-anchor="end" textLength="3.95" lengthAdjust="spacingAndGlyphs" fill="#1c1c1c" stroke="#1c1c1c" stroke-width="0.28">0</text>
<line x1="453.00" y1="100.68" x2="456.00" y2="100.68" stroke="#0a0a0a" stroke-width="1.0" />
<text x="449.40" y="103.27" font-size="7.2" text-anchor="end" textLength="7.90" lengthAdjust="spacingAndGlyphs" fill="#1c1c1c" stroke="#1c1c1c" stroke-width="0.28">20</text>
<line x1="453.00" y1="87.56" x2="456.00" y2="87.56" stroke="#0a0a0a" stroke-width="1.0" />
<text x="449.40" y="90.15" font-size="7.2" text-anchor="end" textLength="7.90" lengthAdjust="spacingAndGlyphs" fill="#1c1c1c" stroke="#1c1c1c" stroke-width="0.28">40</text>
<line x1="453.00" y1="74.44" x2="456.00" y2="74.44" stroke="#0a0a0a" stroke-width="1.0" />
<text x="449.40" y="77.03" font-size="7.2" text-anchor="end" textLength="7.90" lengthAdjust="spacingAndGlyphs" fill="#1c1c1c" stroke="#1c1c1c" stroke-width="0.28">60</text>
<line x1="453.00" y1="61.32" x2="456.00" y2="61.32" stroke="#0a0a0a" stroke-width="1.0" />
<text x="449.40" y="63.91" font-size="7.2" text-anchor="end" textLength="7.90" lengthAdjust="spacingAndGlyphs" fill="#1c1c1c" stroke="#1c1c1c" stroke-width="0.28">80</text>
<line x1="453.00" y1="48.20" x2="456.00" y2="48.20" stroke="#0a0a0a" stroke-width="1.0" />
<text x="449.40" y="50.79" font-size="7.2" text-anchor="end" textLength="11.85" lengthAdjust="spacingAndGlyphs" fill="#1c1c1c" stroke="#1c1c1c" stroke-width="0.28">100</text>
<line x1="453.00" y1="35.08" x2="456.00" y2="35.08" stroke="#0a0a0a" stroke-width="1.0" />
<text x="449.40" y="37.67" font-size="7.2" text-anchor="end" textLength="11.85" lengthAdjust="spacingAndGlyphs" fill="#1c1c1c" stroke="#1c1c1c" stroke-width="0.28">120</text>
<line x1="455.50" y1="113.80" x2="512.00" y2="113.80" stroke="#0a0a0a" stroke-width="1.35" />
<line x1="469.30" y1="113.80" x2="469.30" y2="116.80" stroke="#0a0a0a" stroke-width="1.0" />
<line x1="495.60" y1="113.80" x2="495.60" y2="116.80" stroke="#0a0a0a" stroke-width="1.0" />
<line x1="509.80" y1="113.80" x2="509.80" y2="116.80" stroke="#0a0a0a" stroke-width="1.0" />
<rect x="462.10" y="64.00" width="14.40" height="49.80" fill="#a50026" />
<line x1="469.30" y1="64.00" x2="469.30" y2="63.40" stroke="#0a0a0a" stroke-width="0.8" />
<line x1="468.00" y1="63.40" x2="470.60" y2="63.40" stroke="#0a0a0a" stroke-width="0.8" />
<rect x="488.10" y="40.40" width="14.70" height="73.40" fill="#2d4a7c" />
<line x1="495.45" y1="40.40" x2="495.45" y2="39.90" stroke="#0a0a0a" stroke-width="0.8" />
<line x1="494.15" y1="39.90" x2="496.75" y2="39.90" stroke="#0a0a0a" stroke-width="0.8" />
<path d="M468.60 35.70V33.70Q468.60 33.10 469.20 33.10H495.00Q495.60 33.10 495.60 33.70V35.70" fill="none" stroke="#0a0a0a" stroke-width="0.95" />
<text x="478.25" y="33.83" font-size="6.4" textLength="8.3" lengthAdjust="spacing" fill="#1c1c1c" stroke="#1c1c1c" stroke-width="0.3">***</text>
<text x="429.00" y="116.00" font-size="9" textLength="85.80" lengthAdjust="spacingAndGlyphs" transform="rotate(-90 429.00 116.00)" fill="#1c1c1c" stroke="#1c1c1c" stroke-width="0.28">Mean forward scatter</text>
<text x="456.20" y="127.60" font-size="7.6" textLength="16.40" lengthAdjust="spacingAndGlyphs" fill="#1c1c1c" stroke="#1c1c1c" stroke-width="0.28">IL-33</text>
<text x="473.20" y="124.40" font-size="5.2" textLength="8.20" lengthAdjust="spacingAndGlyphs" fill="#1c1c1c" stroke="#1c1c1c" stroke-width="0.28">low</text>
<text x="487.80" y="127.60" font-size="7.6" textLength="16.60" lengthAdjust="spacingAndGlyphs" fill="#1c1c1c" stroke="#1c1c1c" stroke-width="0.28">IL-33</text>
<text x="505.00" y="124.40" font-size="5.2" textLength="11.00" lengthAdjust="spacingAndGlyphs" fill="#1c1c1c" stroke="#1c1c1c" stroke-width="0.28">high</text>
<line x1="36.80" y1="415.00" x2="36.80" y2="497.50" stroke="#0a0a0a" stroke-width="1.35" />
<line x1="33.80" y1="497.00" x2="36.80" y2="497.00" stroke="#0a0a0a" stroke-width="1.0" />
<text x="30.20" y="499.59" font-size="7.2" text-anchor="end" textLength="3.95" lengthAdjust="spacingAndGlyphs" fill="#1c1c1c" stroke="#1c1c1c" stroke-width="0.28">0</text>
<line x1="33.80" y1="488.18" x2="36.80" y2="488.18" stroke="#0a0a0a" stroke-width="1.0" />
<text x="30.20" y="490.77" font-size="7.2" text-anchor="end" textLength="3.95" lengthAdjust="spacingAndGlyphs" fill="#1c1c1c" stroke="#1c1c1c" stroke-width="0.28">2</text>
<line x1="33.80" y1="479.36" x2="36.80" y2="479.36" stroke="#0a0a0a" stroke-width="1.0" />
<text x="30.20" y="481.95" font-size="7.2" text-anchor="end" textLength="3.95" lengthAdjust="spacingAndGlyphs" fill="#1c1c1c" stroke="#1c1c1c" stroke-width="0.28">4</text>
<line x1="33.80" y1="470.54" x2="36.80" y2="470.54" stroke="#0a0a0a" stroke-width="1.0" />
<text x="30.20" y="473.13" font-size="7.2" text-anchor="end" textLength="3.95" lengthAdjust="spacingAndGlyphs" fill="#1c1c1c" stroke="#1c1c1c" stroke-width="0.28">6</text>
<line x1="33.80" y1="461.72" x2="36.80" y2="461.72" stroke="#0a0a0a" stroke-width="1.0" />
<text x="30.20" y="464.31" font-size="7.2" text-anchor="end" textLength="3.95" lengthAdjust="spacingAndGlyphs" fill="#1c1c1c" stroke="#1c1c1c" stroke-width="0.28">8</text>
<line x1="33.80" y1="452.90" x2="36.80" y2="452.90" stroke="#0a0a0a" stroke-width="1.0" />
<text x="30.20" y="455.49" font-size="7.2" text-anchor="end" textLength="7.90" lengthAdjust="spacingAndGlyphs" fill="#1c1c1c" stroke="#1c1c1c" stroke-width="0.28">10</text>
<line x1="33.80" y1="444.08" x2="36.80" y2="444.08" stroke="#0a0a0a" stroke-width="1.0" />
<text x="30.20" y="446.67" font-size="7.2" text-anchor="end" textLength="7.90" lengthAdjust="spacingAndGlyphs" fill="#1c1c1c" stroke="#1c1c1c" stroke-width="0.28">12</text>
<line x1="33.80" y1="435.26" x2="36.80" y2="435.26" stroke="#0a0a0a" stroke-width="1.0" />
<text x="30.20" y="437.85" font-size="7.2" text-anchor="end" textLength="7.90" lengthAdjust="spacingAndGlyphs" fill="#1c1c1c" stroke="#1c1c1c" stroke-width="0.28">14</text>
<line x1="33.80" y1="426.44" x2="36.80" y2="426.44" stroke="#0a0a0a" stroke-width="1.0" />
<text x="30.20" y="429.03" font-size="7.2" text-anchor="end" textLength="7.90" lengthAdjust="spacingAndGlyphs" fill="#1c1c1c" stroke="#1c1c1c" stroke-width="0.28">16</text>
<line x1="33.80" y1="417.62" x2="36.80" y2="417.62" stroke="#0a0a0a" stroke-width="1.0" />
<text x="30.20" y="420.21" font-size="7.2" text-anchor="end" textLength="7.90" lengthAdjust="spacingAndGlyphs" fill="#1c1c1c" stroke="#1c1c1c" stroke-width="0.28">18</text>
<line x1="36.30" y1="497.00" x2="109.20" y2="497.00" stroke="#0a0a0a" stroke-width="1.35" />
<line x1="45.60" y1="497.00" x2="45.60" y2="500.00" stroke="#0a0a0a" stroke-width="1.0" />
<line x1="63.10" y1="497.00" x2="63.10" y2="500.00" stroke="#0a0a0a" stroke-width="1.0" />
<line x1="80.60" y1="497.00" x2="80.60" y2="500.00" stroke="#0a0a0a" stroke-width="1.0" />
<line x1="98.20" y1="497.00" x2="98.20" y2="500.00" stroke="#0a0a0a" stroke-width="1.0" />
<line x1="107.80" y1="497.00" x2="107.80" y2="500.00" stroke="#0a0a0a" stroke-width="1.0" />
<rect x="40.60" y="456.20" width="9.70" height="40.80" fill="#a50026" />
<line x1="45.45" y1="456.20" x2="45.45" y2="452.00" stroke="#0a0a0a" stroke-width="0.8" />
<line x1="44.15" y1="452.00" x2="46.75" y2="452.00" stroke="#0a0a0a" stroke-width="0.8" />
<rect x="58.20" y="432.70" width="9.70" height="64.30" fill="#a50026" />
<line x1="63.05" y1="432.70" x2="63.05" y2="427.80" stroke="#0a0a0a" stroke-width="0.8" />
<line x1="61.75" y1="427.80" x2="64.35" y2="427.80" stroke="#0a0a0a" stroke-width="0.8" />
<rect x="75.90" y="438.20" width="9.70" height="58.80" fill="#a50026" />
<line x1="80.75" y1="438.20" x2="80.75" y2="431.40" stroke="#0a0a0a" stroke-width="0.8" />
<line x1="79.45" y1="431.40" x2="82.05" y2="431.40" stroke="#0a0a0a" stroke-width="0.8" />
<rect x="93.50" y="448.50" width="9.50" height="48.50" fill="#a50026" />
<line x1="98.25" y1="448.50" x2="98.25" y2="443.20" stroke="#0a0a0a" stroke-width="0.8" />
<line x1="96.95" y1="443.20" x2="99.55" y2="443.20" stroke="#0a0a0a" stroke-width="0.8" />
<path d="M44.30 407.40V405.50Q44.30 404.90 44.90 404.90H97.60Q98.20 404.90 98.20 405.50V407.40" fill="none" stroke="#0a0a0a" stroke-width="0.95" />
<path d="M44.30 416.10V414.20Q44.30 413.60 44.90 413.60H79.70Q80.30 413.60 80.30 414.20V416.10" fill="none" stroke="#0a0a0a" stroke-width="0.95" />
<path d="M44.30 424.40V422.50Q44.30 421.90 44.90 421.90H62.60Q63.20 421.90 63.20 422.50V424.40" fill="none" stroke="#0a0a0a" stroke-width="0.95" />
<text x="71.90" y="403.30" font-size="7" text-anchor="middle" textLength="10.60" lengthAdjust="spacingAndGlyphs" fill="#1c1c1c" stroke="#1c1c1c" stroke-width="0.28">n.s.</text>
<text x="62.90" y="412.00" font-size="7" text-anchor="middle" textLength="10.60" lengthAdjust="spacingAndGlyphs" fill="#1c1c1c" stroke="#1c1c1c" stroke-width="0.28">n.s.</text>
<text x="52.45" y="422.53" font-size="6.4" textLength="2.5" lengthAdjust="spacing" fill="#1c1c1c" stroke="#1c1c1c" stroke-width="0.3">*</text>
<text x="16.10" y="482.40" font-size="8.6" textLength="53.00" lengthAdjust="spacingAndGlyphs" transform="rotate(-90 16.10 482.40)" fill="#1c1c1c" stroke="#1c1c1c" stroke-width="0.28">IL-33 (pg/ml)</text>
<text x="48.60" y="507.20" font-size="7.6" text-anchor="end" textLength="22.60" lengthAdjust="spacingAndGlyphs" transform="rotate(-45 48.60 507.20)" fill="#1c1c1c" stroke="#1c1c1c" stroke-width="0.28">Vector</text>
<text x="66.20" y="507.20" font-size="7.6" text-anchor="end" textLength="13.00" lengthAdjust="spacingAndGlyphs" transform="rotate(-45 66.20 507.20)" fill="#1c1c1c" stroke="#1c1c1c" stroke-width="0.28">Dll1</text>
<text x="83.80" y="507.20" font-size="7.6" text-anchor="end" textLength="13.60" lengthAdjust="spacingAndGlyphs" transform="rotate(-45 83.80 507.20)" fill="#1c1c1c" stroke="#1c1c1c" stroke-width="0.28">Dll4</text>
<text x="101.40" y="507.20" font-size="7.6" text-anchor="end" textLength="28.20" lengthAdjust="spacingAndGlyphs" transform="rotate(-45 101.40 507.20)" fill="#1c1c1c" stroke="#1c1c1c" stroke-width="0.28">Jagged1</text>
<line x1="155.60" y1="413.80" x2="155.60" y2="497.80" stroke="#0a0a0a" stroke-width="1.35" />
<line x1="152.60" y1="497.30" x2="155.60" y2="497.30" stroke="#0a0a0a" stroke-width="1.0" />
<text x="149.00" y="499.89" font-size="7.2" text-anchor="end" textLength="3.95" lengthAdjust="spacingAndGlyphs" fill="#1c1c1c" stroke="#1c1c1c" stroke-width="0.28">0</text>
<line x1="152.60" y1="488.32" x2="155.60" y2="488.32" stroke="#0a0a0a" stroke-width="1.0" />
<text x="149.00" y="490.91" font-size="7.2" text-anchor="end" textLength="3.95" lengthAdjust="spacingAndGlyphs" fill="#1c1c1c" stroke="#1c1c1c" stroke-width="0.28">2</text>
<line x1="152.60" y1="479.34" x2="155.60" y2="479.34" stroke="#0a0a0a" stroke-width="1.0" />
<text x="149.00" y="481.93" font-size="7.2" text-anchor="end" textLength="3.95" lengthAdjust="spacingAndGlyphs" fill="#1c1c1c" stroke="#1c1c1c" stroke-width="0.28">4</text>
<line x1="152.60" y1="470.36" x2="155.60" y2="470.36" stroke="#0a0a0a" stroke-width="1.0" />
<text x="149.00" y="472.95" font-size="7.2" text-anchor="end" textLength="3.95" lengthAdjust="spacingAndGlyphs" fill="#1c1c1c" stroke="#1c1c1c" stroke-width="0.28">6</text>
<line x1="152.60" y1="461.38" x2="155.60" y2="461.38" stroke="#0a0a0a" stroke-width="1.0" />
<text x="149.00" y="463.97" font-size="7.2" text-anchor="end" textLength="3.95" lengthAdjust="spacingAndGlyphs" fill="#1c1c1c" stroke="#1c1c1c" stroke-width="0.28">8</text>
<line x1="152.60" y1="452.40" x2="155.60" y2="452.40" stroke="#0a0a0a" stroke-width="1.0" />
<text x="149.00" y="454.99" font-size="7.2" text-anchor="end" textLength="7.90" lengthAdjust="spacingAndGlyphs" fill="#1c1c1c" stroke="#1c1c1c" stroke-width="0.28">10</text>
<line x1="152.60" y1="443.42" x2="155.60" y2="443.42" stroke="#0a0a0a" stroke-width="1.0" />
<text x="149.00" y="446.01" font-size="7.2" text-anchor="end" textLength="7.90" lengthAdjust="spacingAndGlyphs" fill="#1c1c1c" stroke="#1c1c1c" stroke-width="0.28">12</text>
<line x1="152.60" y1="434.44" x2="155.60" y2="434.44" stroke="#0a0a0a" stroke-width="1.0" />
<text x="149.00" y="437.03" font-size="7.2" text-anchor="end" textLength="7.90" lengthAdjust="spacingAndGlyphs" fill="#1c1c1c" stroke="#1c1c1c" stroke-width="0.28">14</text>
<line x1="152.60" y1="425.46" x2="155.60" y2="425.46" stroke="#0a0a0a" stroke-width="1.0" />
<text x="149.00" y="428.05" font-size="7.2" text-anchor="end" textLength="7.90" lengthAdjust="spacingAndGlyphs" fill="#1c1c1c" stroke="#1c1c1c" stroke-width="0.28">16</text>
<line x1="152.60" y1="416.48" x2="155.60" y2="416.48" stroke="#0a0a0a" stroke-width="1.0" />
<text x="149.00" y="419.07" font-size="7.2" text-anchor="end" textLength="7.90" lengthAdjust="spacingAndGlyphs" fill="#1c1c1c" stroke="#1c1c1c" stroke-width="0.28">18</text>
<line x1="155.10" y1="497.30" x2="229.80" y2="497.30" stroke="#0a0a0a" stroke-width="1.35" />
<line x1="173.00" y1="497.30" x2="173.00" y2="500.30" stroke="#0a0a0a" stroke-width="1.0" />
<line x1="208.50" y1="497.30" x2="208.50" y2="500.30" stroke="#0a0a0a" stroke-width="1.0" />
<line x1="226.40" y1="497.30" x2="226.40" y2="500.30" stroke="#0a0a0a" stroke-width="1.0" />
<rect x="157.90" y="455.10" width="6.60" height="42.20" fill="#a50026" />
<line x1="161.20" y1="455.10" x2="161.20" y2="451.30" stroke="#0a0a0a" stroke-width="0.8" />
<line x1="159.90" y1="451.30" x2="162.50" y2="451.30" stroke="#0a0a0a" stroke-width="0.8" />
<rect x="165.80" y="451.00" width="6.50" height="46.30" fill="#2d4a7c" />
<line x1="169.05" y1="451.00" x2="169.05" y2="449.30" stroke="#0a0a0a" stroke-width="0.8" />
<line x1="167.75" y1="449.30" x2="170.35" y2="449.30" stroke="#0a0a0a" stroke-width="0.8" />
<rect x="173.80" y="461.10" width="6.50" height="36.20" fill="#6aa842" />
<line x1="177.05" y1="461.10" x2="177.05" y2="458.40" stroke="#0a0a0a" stroke-width="0.8" />
<line x1="175.75" y1="458.40" x2="178.35" y2="458.40" stroke="#0a0a0a" stroke-width="0.8" />
<rect x="181.60" y="462.00" width="6.60" height="35.30" fill="#52246a" />
<line x1="184.90" y1="462.00" x2="184.90" y2="458.40" stroke="#0a0a0a" stroke-width="0.8" />
<line x1="183.60" y1="458.40" x2="186.20" y2="458.40" stroke="#0a0a0a" stroke-width="0.8" />
<rect x="193.30" y="433.10" width="6.50" height="64.20" fill="#a50026" />
<line x1="196.55" y1="433.10" x2="196.55" y2="430.60" stroke="#0a0a0a" stroke-width="0.8" />
<line x1="195.25" y1="430.60" x2="197.85" y2="430.60" stroke="#0a0a0a" stroke-width="0.8" />
<rect x="201.30" y="431.30" width="6.60" height="66.00" fill="#2d4a7c" />
<line x1="204.60" y1="431.30" x2="204.60" y2="425.50" stroke="#0a0a0a" stroke-width="0.8" />
<line x1="203.30" y1="425.50" x2="205.90" y2="425.50" stroke="#0a0a0a" stroke-width="0.8" />
<rect x="209.20" y="452.90" width="6.60" height="44.40" fill="#6aa842" />
<line x1="212.50" y1="452.90" x2="212.50" y2="451.00" stroke="#0a0a0a" stroke-width="0.8" />
<line x1="211.20" y1="451.00" x2="213.80" y2="451.00" stroke="#0a0a0a" stroke-width="0.8" />
<rect x="217.10" y="462.00" width="6.60" height="35.30" fill="#52246a" />
<line x1="220.40" y1="462.00" x2="220.40" y2="454.60" stroke="#0a0a0a" stroke-width="0.8" />
<line x1="219.10" y1="454.60" x2="221.70" y2="454.60" stroke="#0a0a0a" stroke-width="0.8" />
<path d="M160.30 421.40V419.50Q160.30 418.90 160.90 418.90H197.00Q197.60 418.90 197.60 419.50V421.40" fill="none" stroke="#0a0a0a" stroke-width="0.95" />
<path d="M203.60 421.40V419.50Q203.60 418.90 204.20 418.90H212.00Q212.60 418.90 212.60 419.50V421.40" fill="none" stroke="#0a0a0a" stroke-width="0.95" />
<path d="M203.60 413.10V411.20Q203.60 410.60 204.20 410.60H220.80Q221.40 410.60 221.40 411.20V413.10" fill="none" stroke="#0a0a0a" stroke-width="0.95" />
<text x="177.65" y="419.73" font-size="6.4" textLength="2.5" lengthAdjust="spacing" fill="#1c1c1c" stroke="#1c1c1c" stroke-width="0.3">*</text>
<text x="206.85" y="419.73" font-size="6.4" textLength="2.5" lengthAdjust="spacing" fill="#1c1c1c" stroke="#1c1c1c" stroke-width="0.3">*</text>
<text x="210.00" y="411.33" font-size="6.4" textLength="5.4" lengthAdjust="spacing" fill="#1c1c1c" stroke="#1c1c1c" stroke-width="0.3">**</text>
<text x="134.50" y="481.80" font-size="8.6" textLength="52.30" lengthAdjust="spacingAndGlyphs" transform="rotate(-90 134.50 481.80)" fill="#1c1c1c" stroke="#1c1c1c" stroke-width="0.28">IL-33 (pg/ml)</text>
<text x="161.80" y="510.70" font-size="7.6" textLength="22.30" lengthAdjust="spacingAndGlyphs" fill="#1c1c1c" stroke="#1c1c1c" stroke-width="0.28">Vector</text>
<text x="201.90" y="510.70" font-size="7.6" textLength="12.90" lengthAdjust="spacingAndGlyphs" fill="#1c1c1c" stroke="#1c1c1c" stroke-width="0.28">Dll1</text>
<rect x="158.30" y="520.20" width="4.90" height="5.10" fill="#a50026" />
<text x="166.00" y="525.40" font-size="7.0" textLength="25.80" lengthAdjust="spacingAndGlyphs" fill="#1c1c1c" stroke="#1c1c1c" stroke-width="0.28">Medium</text>
<rect x="158.30" y="528.65" width="4.90" height="5.10" fill="#2d4a7c" />
<text x="166.00" y="533.85" font-size="7.0" textLength="19.20" lengthAdjust="spacingAndGlyphs" fill="#1c1c1c" stroke="#1c1c1c" stroke-width="0.28">DMSO</text>
<rect x="158.30" y="537.10" width="4.90" height="5.10" fill="#6aa842" />
<text x="166.00" y="542.30" font-size="7.0" textLength="42.90" lengthAdjust="spacingAndGlyphs" fill="#1c1c1c" stroke="#1c1c1c" stroke-width="0.28">DAPT (10 nM)</text>
<rect x="158.30" y="545.55" width="4.90" height="5.10" fill="#52246a" />
<text x="166.00" y="550.75" font-size="7.0" textLength="46.70" lengthAdjust="spacingAndGlyphs" fill="#1c1c1c" stroke="#1c1c1c" stroke-width="0.28">DAPT (100 nM)</text>
<text x="295.10" y="386.00" font-size="9" textLength="27.60" lengthAdjust="spacingAndGlyphs" fill="#1c1c1c" stroke="#1c1c1c" stroke-width="0.28">NRARP</text>
<line x1="276.30" y1="414.00" x2="276.30" y2="497.70" stroke="#0a0a0a" stroke-width="1.35" />
<line x1="273.30" y1="497.20" x2="276.30" y2="497.20" stroke="#0a0a0a" stroke-width="1.0" />
<text x="269.70" y="499.79" font-size="7.2" text-anchor="end" textLength="3.95" lengthAdjust="spacingAndGlyphs" fill="#1c1c1c" stroke="#1c1c1c" stroke-width="0.28">0</text>
<line x1="273.30" y1="483.80" x2="276.30" y2="483.80" stroke="#0a0a0a" stroke-width="1.0" />
<text x="269.70" y="486.39" font-size="7.2" text-anchor="end" textLength="9.80" lengthAdjust="spacingAndGlyphs" fill="#1c1c1c" stroke="#1c1c1c" stroke-width="0.28">0.5</text>
<line x1="273.30" y1="470.40" x2="276.30" y2="470.40" stroke="#0a0a0a" stroke-width="1.0" />
<text x="269.70" y="472.99" font-size="7.2" text-anchor="end" textLength="3.95" lengthAdjust="spacingAndGlyphs" fill="#1c1c1c" stroke="#1c1c1c" stroke-width="0.28">1</text>
<line x1="273.30" y1="457.00" x2="276.30" y2="457.00" stroke="#0a0a0a" stroke-width="1.0" />
<text x="269.70" y="459.59" font-size="7.2" text-anchor="end" textLength="9.80" lengthAdjust="spacingAndGlyphs" fill="#1c1c1c" stroke="#1c1c1c" stroke-width="0.28">1.5</text>
<line x1="273.30" y1="443.60" x2="276.30" y2="443.60" stroke="#0a0a0a" stroke-width="1.0" />
<text x="269.70" y="446.19" font-size="7.2" text-anchor="end" textLength="3.95" lengthAdjust="spacingAndGlyphs" fill="#1c1c1c" stroke="#1c1c1c" stroke-width="0.28">2</text>
<line x1="273.30" y1="430.20" x2="276.30" y2="430.20" stroke="#0a0a0a" stroke-width="1.0" />
<text x="269.70" y="432.79" font-size="7.2" text-anchor="end" textLength="9.80" lengthAdjust="spacingAndGlyphs" fill="#1c1c1c" stroke="#1c1c1c" stroke-width="0.28">2.5</text>
<line x1="273.30" y1="416.80" x2="276.30" y2="416.80" stroke="#0a0a0a" stroke-width="1.0" />
<text x="269.70" y="419.39" font-size="7.2" text-anchor="end" textLength="3.95" lengthAdjust="spacingAndGlyphs" fill="#1c1c1c" stroke="#1c1c1c" stroke-width="0.28">3</text>
<line x1="275.80" y1="497.20" x2="340.40" y2="497.20" stroke="#0a0a0a" stroke-width="1.35" />
<line x1="291.30" y1="497.20" x2="291.30" y2="500.20" stroke="#0a0a0a" stroke-width="1.0" />
<line x1="320.80" y1="497.20" x2="320.80" y2="500.20" stroke="#0a0a0a" stroke-width="1.0" />
<line x1="338.60" y1="497.20" x2="338.60" y2="500.20" stroke="#0a0a0a" stroke-width="1.0" />
<rect x="279.30" y="470.40" width="7.30" height="26.80" fill="#a50026" />
<line x1="282.95" y1="470.40" x2="282.95" y2="467.18" stroke="#0a0a0a" stroke-width="0.8" />
<line x1="281.65" y1="467.18" x2="284.25" y2="467.18" stroke="#0a0a0a" stroke-width="0.8" />
<rect x="288.30" y="476.56" width="7.10" height="20.64" fill="#2d4a7c" />
<line x1="291.85" y1="476.56" x2="291.85" y2="475.49" stroke="#0a0a0a" stroke-width="0.8" />
<line x1="290.55" y1="475.49" x2="293.15" y2="475.49" stroke="#0a0a0a" stroke-width="0.8" />
<rect x="297.10" y="472.01" width="7.40" height="25.19" fill="#6aa842" />
<line x1="300.80" y1="472.01" x2="300.80" y2="469.33" stroke="#0a0a0a" stroke-width="0.8" />
<line x1="299.50" y1="469.33" x2="302.10" y2="469.33" stroke="#0a0a0a" stroke-width="0.8" />
<rect x="310.50" y="420.82" width="7.40" height="76.38" fill="#a50026" />
<line x1="314.20" y1="420.82" x2="314.20" y2="417.34" stroke="#0a0a0a" stroke-width="0.8" />
<line x1="312.90" y1="417.34" x2="315.50" y2="417.34" stroke="#0a0a0a" stroke-width="0.8" />
<rect x="319.30" y="463.16" width="7.40" height="34.04" fill="#2d4a7c" />
<line x1="323.00" y1="463.16" x2="323.00" y2="457.54" stroke="#0a0a0a" stroke-width="0.8" />
<line x1="321.70" y1="457.54" x2="324.30" y2="457.54" stroke="#0a0a0a" stroke-width="0.8" />
<rect x="328.20" y="469.86" width="7.30" height="27.34" fill="#6aa842" />
<line x1="331.85" y1="469.86" x2="331.85" y2="468.52" stroke="#0a0a0a" stroke-width="0.8" />
<line x1="330.55" y1="468.52" x2="333.15" y2="468.52" stroke="#0a0a0a" stroke-width="0.8" />
<path d="M282.80 413.90V411.80Q282.80 411.20 283.40 411.20H313.50Q314.10 411.20 314.10 411.80V413.90" fill="none" stroke="#0a0a0a" stroke-width="0.95" />
<path d="M314.10 408.00V405.90Q314.10 405.30 314.70 405.30H322.80Q323.40 405.30 323.40 405.90V408.00" fill="none" stroke="#0a0a0a" stroke-width="0.95" />
<path d="M314.10 399.00V396.90Q314.10 396.30 314.70 396.30H332.20Q332.80 396.30 332.80 396.90V399.00" fill="none" stroke="#0a0a0a" stroke-width="0.95" />
<text x="294.35" y="412.33" font-size="6.4" textLength="8.3" lengthAdjust="spacing" fill="#1c1c1c" stroke="#1c1c1c" stroke-width="0.3">***</text>
<text x="314.65" y="406.23" font-size="6.4" textLength="8.3" lengthAdjust="spacing" fill="#1c1c1c" stroke="#1c1c1c" stroke-width="0.3">***</text>
<text x="319.25" y="397.23" font-size="6.4" textLength="8.3" lengthAdjust="spacing" fill="#1c1c1c" stroke="#1c1c1c" stroke-width="0.3">***</text>
<text x="281.10" y="510.60" font-size="7.6" textLength="21.70" lengthAdjust="spacingAndGlyphs" fill="#1c1c1c" stroke="#1c1c1c" stroke-width="0.28">Vector</text>
<text x="315.70" y="510.60" font-size="7.6" textLength="12.10" lengthAdjust="spacingAndGlyphs" fill="#1c1c1c" stroke="#1c1c1c" stroke-width="0.28">Dll1</text>
<text x="380.00" y="386.00" font-size="9" textLength="28.80" lengthAdjust="spacingAndGlyphs" fill="#1c1c1c" stroke="#1c1c1c" stroke-width="0.28">Notch3</text>
<line x1="362.20" y1="414.10" x2="362.20" y2="497.40" stroke="#0a0a0a" stroke-width="1.35" />
<line x1="359.20" y1="496.90" x2="362.20" y2="496.90" stroke="#0a0a0a" stroke-width="1.0" />
<text x="355.60" y="499.49" font-size="7.2" text-anchor="end" textLength="3.95" lengthAdjust="spacingAndGlyphs" fill="#1c1c1c" stroke="#1c1c1c" stroke-width="0.28">0</text>
<line x1="359.20" y1="476.90" x2="362.20" y2="476.90" stroke="#0a0a0a" stroke-width="1.0" />
<text x="355.60" y="479.49" font-size="7.2" text-anchor="end" textLength="9.80" lengthAdjust="spacingAndGlyphs" fill="#1c1c1c" stroke="#1c1c1c" stroke-width="0.28">0.5</text>
<line x1="359.20" y1="456.90" x2="362.20" y2="456.90" stroke="#0a0a0a" stroke-width="1.0" />
<text x="355.60" y="459.49" font-size="7.2" text-anchor="end" textLength="3.95" lengthAdjust="spacingAndGlyphs" fill="#1c1c1c" stroke="#1c1c1c" stroke-width="0.28">1</text>
<line x1="359.20" y1="436.90" x2="362.20" y2="436.90" stroke="#0a0a0a" stroke-width="1.0" />
<text x="355.60" y="439.49" font-size="7.2" text-anchor="end" textLength="9.80" lengthAdjust="spacingAndGlyphs" fill="#1c1c1c" stroke="#1c1c1c" stroke-width="0.28">1.5</text>
<line x1="359.20" y1="416.90" x2="362.20" y2="416.90" stroke="#0a0a0a" stroke-width="1.0" />
<text x="355.60" y="419.49" font-size="7.2" text-anchor="end" textLength="3.95" lengthAdjust="spacingAndGlyphs" fill="#1c1c1c" stroke="#1c1c1c" stroke-width="0.28">2</text>
<line x1="361.70" y1="496.90" x2="424.90" y2="496.90" stroke="#0a0a0a" stroke-width="1.35" />
<line x1="379.10" y1="496.90" x2="379.10" y2="499.90" stroke="#0a0a0a" stroke-width="1.0" />
<line x1="409.20" y1="496.90" x2="409.20" y2="499.90" stroke="#0a0a0a" stroke-width="1.0" />
<line x1="424.20" y1="496.90" x2="424.20" y2="499.90" stroke="#0a0a0a" stroke-width="1.0" />
<rect x="365.00" y="457.30" width="7.40" height="39.60" fill="#a50026" />
<line x1="368.70" y1="457.30" x2="368.70" y2="454.70" stroke="#0a0a0a" stroke-width="0.8" />
<line x1="367.40" y1="454.70" x2="370.00" y2="454.70" stroke="#0a0a0a" stroke-width="0.8" />
<rect x="374.00" y="460.50" width="7.20" height="36.40" fill="#2d4a7c" />
<line x1="377.60" y1="460.50" x2="377.60" y2="458.30" stroke="#0a0a0a" stroke-width="0.8" />
<line x1="376.30" y1="458.30" x2="378.90" y2="458.30" stroke="#0a0a0a" stroke-width="0.8" />
<rect x="382.80" y="459.70" width="7.40" height="37.20" fill="#6aa842" />
<line x1="386.50" y1="459.70" x2="386.50" y2="457.50" stroke="#0a0a0a" stroke-width="0.8" />
<line x1="385.20" y1="457.50" x2="387.80" y2="457.50" stroke="#0a0a0a" stroke-width="0.8" />
<rect x="396.10" y="428.90" width="7.30" height="68.00" fill="#a50026" />
<line x1="399.75" y1="428.90" x2="399.75" y2="426.90" stroke="#0a0a0a" stroke-width="0.8" />
<line x1="398.45" y1="426.90" x2="401.05" y2="426.90" stroke="#0a0a0a" stroke-width="0.8" />
<rect x="405.00" y="444.10" width="7.10" height="52.80" fill="#2d4a7c" />
<line x1="408.55" y1="444.10" x2="408.55" y2="442.50" stroke="#0a0a0a" stroke-width="0.8" />
<line x1="407.25" y1="442.50" x2="409.85" y2="442.50" stroke="#0a0a0a" stroke-width="0.8" />
<rect x="413.70" y="451.50" width="7.20" height="45.40" fill="#6aa842" />
<line x1="417.30" y1="451.50" x2="417.30" y2="450.70" stroke="#0a0a0a" stroke-width="0.8" />
<line x1="416.00" y1="450.70" x2="418.60" y2="450.70" stroke="#0a0a0a" stroke-width="0.8" />
<path d="M368.30 413.90V411.80Q368.30 411.20 368.90 411.20H398.90Q399.50 411.20 399.50 411.80V413.90" fill="none" stroke="#0a0a0a" stroke-width="0.95" />
<path d="M399.50 408.00V405.90Q399.50 405.30 400.10 405.30H408.50Q409.10 405.30 409.10 405.90V408.00" fill="none" stroke="#0a0a0a" stroke-width="0.95" />
<path d="M399.50 399.00V396.90Q399.50 396.30 400.10 396.30H418.00Q418.60 396.30 418.60 396.90V399.00" fill="none" stroke="#0a0a0a" stroke-width="0.95" />
<text x="380.05" y="412.33" font-size="6.4" textLength="8.3" lengthAdjust="spacing" fill="#1c1c1c" stroke="#1c1c1c" stroke-width="0.3">***</text>
<text x="400.45" y="406.23" font-size="6.4" textLength="8.3" lengthAdjust="spacing" fill="#1c1c1c" stroke="#1c1c1c" stroke-width="0.3">***</text>
<text x="404.95" y="397.23" font-size="6.4" textLength="8.3" lengthAdjust="spacing" fill="#1c1c1c" stroke="#1c1c1c" stroke-width="0.3">***</text>
<text x="367.00" y="510.60" font-size="7.6" textLength="21.50" lengthAdjust="spacingAndGlyphs" fill="#1c1c1c" stroke="#1c1c1c" stroke-width="0.28">Vector</text>
<text x="402.30" y="510.60" font-size="7.6" textLength="12.10" lengthAdjust="spacingAndGlyphs" fill="#1c1c1c" stroke="#1c1c1c" stroke-width="0.28">Dll1</text>
<text x="472.00" y="386.00" font-size="9" textLength="16.50" lengthAdjust="spacingAndGlyphs" fill="#1c1c1c" stroke="#1c1c1c" stroke-width="0.28">IL33</text>
<line x1="447.80" y1="414.10" x2="447.80" y2="497.40" stroke="#0a0a0a" stroke-width="1.35" />
<line x1="444.80" y1="496.90" x2="447.80" y2="496.90" stroke="#0a0a0a" stroke-width="1.0" />
<text x="441.20" y="499.49" font-size="7.2" text-anchor="end" textLength="3.95" lengthAdjust="spacingAndGlyphs" fill="#1c1c1c" stroke="#1c1c1c" stroke-width="0.28">0</text>
<line x1="444.80" y1="476.90" x2="447.80" y2="476.90" stroke="#0a0a0a" stroke-width="1.0" />
<text x="441.20" y="479.49" font-size="7.2" text-anchor="end" textLength="9.80" lengthAdjust="spacingAndGlyphs" fill="#1c1c1c" stroke="#1c1c1c" stroke-width="0.28">0.5</text>
<line x1="444.80" y1="456.90" x2="447.80" y2="456.90" stroke="#0a0a0a" stroke-width="1.0" />
<text x="441.20" y="459.49" font-size="7.2" text-anchor="end" textLength="3.95" lengthAdjust="spacingAndGlyphs" fill="#1c1c1c" stroke="#1c1c1c" stroke-width="0.28">1</text>
<line x1="444.80" y1="436.90" x2="447.80" y2="436.90" stroke="#0a0a0a" stroke-width="1.0" />
<text x="441.20" y="439.49" font-size="7.2" text-anchor="end" textLength="9.80" lengthAdjust="spacingAndGlyphs" fill="#1c1c1c" stroke="#1c1c1c" stroke-width="0.28">1.5</text>
<line x1="444.80" y1="416.90" x2="447.80" y2="416.90" stroke="#0a0a0a" stroke-width="1.0" />
<text x="441.20" y="419.49" font-size="7.2" text-anchor="end" textLength="3.95" lengthAdjust="spacingAndGlyphs" fill="#1c1c1c" stroke="#1c1c1c" stroke-width="0.28">2</text>
<line x1="447.30" y1="496.90" x2="510.40" y2="496.90" stroke="#0a0a0a" stroke-width="1.35" />
<line x1="463.90" y1="496.90" x2="463.90" y2="499.90" stroke="#0a0a0a" stroke-width="1.0" />
<line x1="494.00" y1="496.90" x2="494.00" y2="499.90" stroke="#0a0a0a" stroke-width="1.0" />
<line x1="509.60" y1="496.90" x2="509.60" y2="499.90" stroke="#0a0a0a" stroke-width="1.0" />
<rect x="450.60" y="457.30" width="7.40" height="39.60" fill="#a50026" />
<line x1="454.30" y1="457.30" x2="454.30" y2="454.50" stroke="#0a0a0a" stroke-width="0.8" />
<line x1="453.00" y1="454.50" x2="455.60" y2="454.50" stroke="#0a0a0a" stroke-width="0.8" />
<rect x="459.90" y="463.70" width="7.10" height="33.20" fill="#2d4a7c" />
<line x1="463.45" y1="463.70" x2="463.45" y2="462.70" stroke="#0a0a0a" stroke-width="0.8" />
<line x1="462.15" y1="462.70" x2="464.75" y2="462.70" stroke="#0a0a0a" stroke-width="0.8" />
<rect x="468.70" y="462.90" width="7.10" height="34.00" fill="#6aa842" />
<line x1="472.25" y1="462.90" x2="472.25" y2="461.90" stroke="#0a0a0a" stroke-width="0.8" />
<line x1="470.95" y1="461.90" x2="473.55" y2="461.90" stroke="#0a0a0a" stroke-width="0.8" />
<rect x="481.50" y="423.50" width="7.50" height="73.40" fill="#a50026" />
<line x1="485.25" y1="423.50" x2="485.25" y2="420.70" stroke="#0a0a0a" stroke-width="0.8" />
<line x1="483.95" y1="420.70" x2="486.55" y2="420.70" stroke="#0a0a0a" stroke-width="0.8" />
<rect x="490.40" y="453.30" width="7.40" height="43.60" fill="#2d4a7c" />
<line x1="494.10" y1="453.30" x2="494.10" y2="451.70" stroke="#0a0a0a" stroke-width="0.8" />
<line x1="492.80" y1="451.70" x2="495.40" y2="451.70" stroke="#0a0a0a" stroke-width="0.8" />
<rect x="499.40" y="458.50" width="7.20" height="38.40" fill="#6aa842" />
<line x1="503.00" y1="458.50" x2="503.00" y2="454.90" stroke="#0a0a0a" stroke-width="0.8" />
<line x1="501.70" y1="454.90" x2="504.30" y2="454.90" stroke="#0a0a0a" stroke-width="0.8" />
<path d="M453.40 413.90V411.80Q453.40 411.20 454.00 411.20H484.60Q485.20 411.20 485.20 411.80V413.90" fill="none" stroke="#0a0a0a" stroke-width="0.95" />
<path d="M485.20 408.00V405.90Q485.20 405.30 485.80 405.30H493.90Q494.50 405.30 494.50 405.90V408.00" fill="none" stroke="#0a0a0a" stroke-width="0.95" />
<path d="M485.20 399.00V396.90Q485.20 396.30 485.80 396.30H503.20Q503.80 396.30 503.80 396.90V399.00" fill="none" stroke="#0a0a0a" stroke-width="0.95" />
<text x="465.55" y="412.33" font-size="6.4" textLength="8.3" lengthAdjust="spacing" fill="#1c1c1c" stroke="#1c1c1c" stroke-width="0.3">***</text>
<text x="485.95" y="406.23" font-size="6.4" textLength="8.3" lengthAdjust="spacing" fill="#1c1c1c" stroke="#1c1c1c" stroke-width="0.3">***</text>
<text x="490.25" y="397.23" font-size="6.4" textLength="8.3" lengthAdjust="spacing" fill="#1c1c1c" stroke="#1c1c1c" stroke-width="0.3">***</text>
<text x="452.50" y="510.60" font-size="7.6" textLength="21.80" lengthAdjust="spacingAndGlyphs" fill="#1c1c1c" stroke="#1c1c1c" stroke-width="0.28">Vector</text>
<text x="487.80" y="510.60" font-size="7.6" textLength="12.10" lengthAdjust="spacingAndGlyphs" fill="#1c1c1c" stroke="#1c1c1c" stroke-width="0.28">Dll1</text>
<text x="253.20" y="494.40" font-size="9" textLength="77.60" lengthAdjust="spacingAndGlyphs" transform="rotate(-90 253.20 494.40)" fill="#1c1c1c" stroke="#1c1c1c" stroke-width="0.28">Relative expression</text>
<rect x="278.30" y="520.80" width="4.60" height="4.70" fill="#a50026" />
<text x="285.20" y="525.60" font-size="6.9" textLength="58.20" lengthAdjust="spacingAndGlyphs" fill="#1c1c1c" stroke="#1c1c1c" stroke-width="0.28">Isotype (10 µg/ml)</text>
<rect x="278.30" y="529.45" width="4.60" height="4.70" fill="#2d4a7c" />
<text x="285.20" y="534.25" font-size="6.9" textLength="151.40" lengthAdjust="spacingAndGlyphs" fill="#1c1c1c" stroke="#1c1c1c" stroke-width="0.28">Anti-Dll1 antibody (1 µg/ml) + Isotype (9 µg/ml)</text>
<rect x="278.30" y="538.10" width="4.60" height="4.70" fill="#6aa842" />
<text x="285.20" y="542.90" font-size="6.9" textLength="85.70" lengthAdjust="spacingAndGlyphs" fill="#1c1c1c" stroke="#1c1c1c" stroke-width="0.28">Anti-Dll1 antibody (10 µg/ml)</text>
<rect x="0.00" y="0.00" width="520.00" height="1.00" fill="#000" />
<rect x="0.00" y="0.00" width="1.10" height="560.00" fill="#000" />
<rect x="0.00" y="559.00" width="520.00" height="1.00" fill="#000" />
<rect x="518.30" y="0.00" width="1.70" height="560.00" fill="#2a2a2a" />
</g></svg></body></html>
